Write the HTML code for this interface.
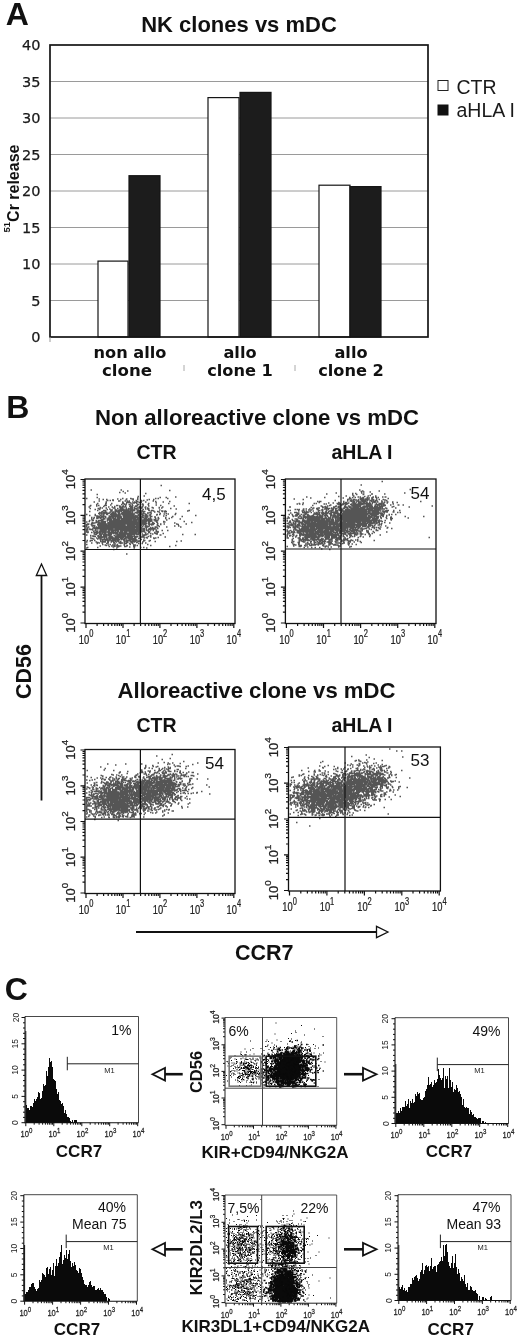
<!DOCTYPE html>
<html><head><meta charset="utf-8"><title>Figure</title>
<style>
html,body{margin:0;padding:0;background:#fff;}
svg{display:block;}
</style></head><body>
<svg width="520" height="1337" viewBox="0 0 520 1337">
<rect width="520" height="1337" fill="#fff"/>
<text x="5.8" y="24.6" font-size="32" text-anchor="start" font-weight="bold" font-family='"Liberation Sans", sans-serif' fill="#111">A</text>
<text x="239" y="31.5" font-size="22" text-anchor="middle" font-weight="bold" font-family='"Liberation Sans", sans-serif' fill="#111">NK clones vs mDC</text>
<rect x="50" y="45" width="378" height="292" fill="#fff" stroke="none"/>
<text x="40.5" y="342.4" font-size="14.5" text-anchor="end" font-family='"DejaVu Sans", "Liberation Sans", sans-serif' fill="#1a1a1a" stroke="#1a1a1a" stroke-width="0.25">0</text>
<line x1="50" y1="300.5" x2="428" y2="300.5" stroke="#9a9a9a" stroke-width="1"/>
<text x="40.5" y="305.9" font-size="14.5" text-anchor="end" font-family='"DejaVu Sans", "Liberation Sans", sans-serif' fill="#1a1a1a" stroke="#1a1a1a" stroke-width="0.25">5</text>
<line x1="50" y1="264.0" x2="428" y2="264.0" stroke="#9a9a9a" stroke-width="1"/>
<text x="40.5" y="269.4" font-size="14.5" text-anchor="end" font-family='"DejaVu Sans", "Liberation Sans", sans-serif' fill="#1a1a1a" stroke="#1a1a1a" stroke-width="0.25">10</text>
<line x1="50" y1="227.5" x2="428" y2="227.5" stroke="#9a9a9a" stroke-width="1"/>
<text x="40.5" y="232.9" font-size="14.5" text-anchor="end" font-family='"DejaVu Sans", "Liberation Sans", sans-serif' fill="#1a1a1a" stroke="#1a1a1a" stroke-width="0.25">15</text>
<line x1="50" y1="191.0" x2="428" y2="191.0" stroke="#9a9a9a" stroke-width="1"/>
<text x="40.5" y="196.4" font-size="14.5" text-anchor="end" font-family='"DejaVu Sans", "Liberation Sans", sans-serif' fill="#1a1a1a" stroke="#1a1a1a" stroke-width="0.25">20</text>
<line x1="50" y1="154.5" x2="428" y2="154.5" stroke="#9a9a9a" stroke-width="1"/>
<text x="40.5" y="159.9" font-size="14.5" text-anchor="end" font-family='"DejaVu Sans", "Liberation Sans", sans-serif' fill="#1a1a1a" stroke="#1a1a1a" stroke-width="0.25">25</text>
<line x1="50" y1="118.0" x2="428" y2="118.0" stroke="#9a9a9a" stroke-width="1"/>
<text x="40.5" y="123.4" font-size="14.5" text-anchor="end" font-family='"DejaVu Sans", "Liberation Sans", sans-serif' fill="#1a1a1a" stroke="#1a1a1a" stroke-width="0.25">30</text>
<line x1="50" y1="81.5" x2="428" y2="81.5" stroke="#9a9a9a" stroke-width="1"/>
<text x="40.5" y="86.9" font-size="14.5" text-anchor="end" font-family='"DejaVu Sans", "Liberation Sans", sans-serif' fill="#1a1a1a" stroke="#1a1a1a" stroke-width="0.25">35</text>
<text x="40.5" y="50.4" font-size="14.5" text-anchor="end" font-family='"DejaVu Sans", "Liberation Sans", sans-serif' fill="#1a1a1a" stroke="#1a1a1a" stroke-width="0.25">40</text>
<rect x="98" y="261.1" width="30" height="75.9" fill="#fff" stroke="#151515" stroke-width="1.2"/>
<rect x="129" y="175.7" width="31" height="161.3" fill="#1c1c1c" stroke="#151515" stroke-width="1.2"/>
<rect x="208" y="97.6" width="31" height="239.4" fill="#fff" stroke="#151515" stroke-width="1.2"/>
<rect x="240" y="92.4" width="31" height="244.6" fill="#1c1c1c" stroke="#151515" stroke-width="1.2"/>
<rect x="319" y="185.2" width="31" height="151.8" fill="#fff" stroke="#151515" stroke-width="1.2"/>
<rect x="350" y="186.6" width="31" height="150.4" fill="#1c1c1c" stroke="#151515" stroke-width="1.2"/>
<rect x="50" y="45" width="378" height="292" fill="none" stroke="#151515" stroke-width="1.7"/>
<text transform="translate(18.8 232.5) rotate(-90)" font-size="16" font-weight="bold" font-family='"Liberation Sans", sans-serif' fill="#111"><tspan font-size="9.5" dy="-8.5">51</tspan><tspan dy="8.5">Cr release</tspan></text>
<text x="130" y="357.5" font-size="16.2" text-anchor="middle" font-weight="bold" font-family='"DejaVu Sans", "Liberation Sans", sans-serif' fill="#111">non allo</text>
<text x="127" y="375.5" font-size="16.6" text-anchor="middle" font-weight="bold" font-family='"DejaVu Sans", "Liberation Sans", sans-serif' fill="#111">clone</text>
<text x="240" y="357.5" font-size="16.2" text-anchor="middle" font-weight="bold" font-family='"DejaVu Sans", "Liberation Sans", sans-serif' fill="#111">allo</text>
<text x="240" y="375.5" font-size="16.2" text-anchor="middle" font-weight="bold" font-family='"DejaVu Sans", "Liberation Sans", sans-serif' fill="#111">clone 1</text>
<text x="351" y="357.5" font-size="16.2" text-anchor="middle" font-weight="bold" font-family='"DejaVu Sans", "Liberation Sans", sans-serif' fill="#111">allo</text>
<text x="351" y="375.5" font-size="16.2" text-anchor="middle" font-weight="bold" font-family='"DejaVu Sans", "Liberation Sans", sans-serif' fill="#111">clone 2</text>
<line x1="184" y1="365" x2="184" y2="371" stroke="#aaa" stroke-width="1"/>
<line x1="295" y1="365" x2="295" y2="371" stroke="#aaa" stroke-width="1"/>
<line x1="50" y1="337" x2="50" y2="342" stroke="#999" stroke-width="1"/>
<rect x="438" y="80.5" width="10" height="10" fill="#fff" stroke="#222" stroke-width="1"/>
<rect x="437.5" y="104.5" width="11" height="11" fill="#111"/>
<text x="456.5" y="94" font-size="19.5" text-anchor="start" font-family='"Liberation Sans", sans-serif' fill="#1a1a1a">CTR</text>
<text x="456.5" y="117" font-size="19.5" text-anchor="start" font-family='"Liberation Sans", sans-serif' fill="#1a1a1a">aHLA I</text>
<text x="6.2" y="418" font-size="32" text-anchor="start" font-weight="bold" font-family='"Liberation Sans", sans-serif' fill="#111">B</text>
<text x="95" y="425" font-size="21.5" font-weight="bold" font-family='"Liberation Sans", sans-serif' fill="#111" textLength="324" lengthAdjust="spacingAndGlyphs">Non alloreactive clone vs mDC</text>
<text x="117.5" y="697.5" font-size="21.5" font-weight="bold" font-family='"Liberation Sans", sans-serif' fill="#111" textLength="278" lengthAdjust="spacingAndGlyphs">Alloreactive clone vs mDC</text>
<text x="156.5" y="459" font-size="19.5" text-anchor="middle" font-weight="bold" font-family='"Liberation Sans", sans-serif' fill="#111">CTR</text>
<text x="156.5" y="731.5" font-size="19.5" text-anchor="middle" font-weight="bold" font-family='"Liberation Sans", sans-serif' fill="#111">CTR</text>
<text x="362" y="459" font-size="19.5" text-anchor="middle" font-weight="bold" font-family='"Liberation Sans", sans-serif' fill="#111">aHLA I</text>
<text x="362" y="731.5" font-size="19.5" text-anchor="middle" font-weight="bold" font-family='"Liberation Sans", sans-serif' fill="#111">aHLA I</text>
<path transform="scale(.5)" d="M0 0m172 997h3m-3 32h3m-3 15h3m-3 5h3m-3 1h3m-3 3h3m-3 1h3m-3 4h3m-3 1h3m-3 3h3m-3 2h3m-3 6h3m-3 14h3m-3 5h3m-3 7h3m-2-15h3m-2-33h3m-3 8h3m-3 2h3m-3 2h3m-3 5h3m-3 30h3m-2-46h3m-3 15h3m-2-16h3m-3 6h3m-2-40h3m-3 29h3m-2-20h3m-3 8h3m-3 10h3m-3 17h3m-2-46h3m-3 5h3m-3 42h3m-3 23h3m-2-71h3m-3 60h3m-3 1h3m-3 4h3m-3 5h3m-2-101h3m-3 69h3m-3 10h3m-3 22h3m-2-46h3m-3 3h3m-3 9h3m-3 3h3m-3 15h3m-3 21h3m-2-45h3m-3 4h3m-3 1h3m-3 6h3m-3 25h3m-3 4h3m-2-41h3m-3 7h3m-3 11h3m-3 2h3m-3 12h3m-2-31h3m-3 10h3m-3 4h3m-3 1h3m-2-19h3m-3 9h3m-3 9h3m-3 8h3m-3 9h3m-3 1h3m-3 5h3m-2-74h3m-3 31h3m-3 19h3m-3 11h3m-3 3h3m-2-22h3m-3 5h3m-3 6h3m-3 24h3m-2-62h3m-3 10h3m-3 2h3m-3 30h3m-3 8h3m-3 4h3m-2-17h3m-3 2h3m-3 7h3m-2-24h3m-3 2h3m-3 2h3m-3 9h3m-3 10h3m-3 4h3m-3 1h3m-3 15h3m-2-75h3m-3 3h3m-3 20h3m-3 4h3m-3 6h3m-3 13h3m-3 1h3m-3 6h3m-3 3h3m-3 1h3m-3 10h3m-2-87h3m-3 6h3m-3 39h3m-3 3h3m-3 18h3m-3 3h3m-3 6h3m-3 3h3m-3 20h3m-2-80h3m-3 14h3m-3 11h3m-3 1h3m-3 11h3m-3 5h3m-3 6h3m-3 3h3m-3 4h3m-3 3h3m-3 7h3m-3 6h3m-3 7h3m-3 10h3m-2-78h3m-3 28h3m-3 2h3m-3 4h3m-3 21h3m-2-61h3m-3 16h3m-3 6h3m-3 3h3m-3 5h3m-3 1h3m-3 3h3m-3 6h3m-3 3h3m-3 1h3m-3 16h3m-3 3h3m-3 2h3m-2-78h3m-3 4h3m-3 16h3m-3 27h3m-3 3h3m-3 2h3m-3 7h3m-3 9h3m-3 7h3m-3 13h3m-2-67h3m-3 6h3m-3 3h3m-3 6h3m-3 7h3m-3 5h3m-3 1h3m-3 4h3m-3 5h3m-3 7h3m-3 4h3m-3 2h3m-3 6h3m-2-60h3m-3 1h3m-3 15h3m-3 4h3m-3 18h3m-3 4h3m-3 3h3m-3 2h3m-3 3h3m-3 3h3m-3 5h3m-3 2h3m-3 1h3m-3 1h3m-3 2h3m-3 13h3m-2-61h3m-3 6h3m-3 4h3m-3 7h3m-3 1h3m-3 1h3m-3 6h3m-3 2h3m-3 6h3m-3 6h3m-3 4h3m-3 6h3m-3 3h3m-2-57h3m-3 9h3m-3 6h3m-3 3h3m-3 2h3m-3 3h3m-3 1h3m-3 4h3m-3 3h3m-3 1h3m-3 5h3m-3 5h3m-3 2h3m-3 2h3m-3 1h3m-3 3h3m-2-52h3m-3 4h3m-3 4h3m-3 2h3m-3 5h3m-3 4h3m-3 1h3m-3 3h3m-3 3h3m-3 1h3m-3 4h3m-3 6h3m-3 12h3m-2-57h3m-3 12h3m-3 4h3m-3 8h3m-3 5h3m-3 1h3m-3 3h3m-3 2h3m-3 2h3m-3 7h3m-3 4h3m-3 1h3m-3 3h3m-3 7h3m-3 4h3m-3 5h3m-3 2h3m-2-63h3m-3 17h3m-3 6h3m-3 5h3m-3 2h3m-3 4h3m-3 5h3m-3 1h3m-3 2h3m-3 16h3m-3 8h3m-2-90h3m-3 27h3m-3 8h3m-3 2h3m-3 3h3m-3 4h3m-3 1h3m-3 6h3m-3 2h3m-3 3h3m-3 2h3m-3 3h3m-3 2h3m-3 1h3m-3 11h3m-3 5h3m-3 4h3m-2-70h3m-3 8h3m-3 8h3m-3 3h3m-3 11h3m-3 1h3m-3 3h3m-3 5h3m-3 2h3m-3 3h3m-3 7h3m-3 5h3m-3 1h3m-3 1h3m-3 8h3m-3 5h3m-2-59h3m-3 12h3m-3 8h3m-3 3h3m-3 7h3m-3 3h3m-3 4h3m-3 1h3m-3 1h3m-3 2h3m-3 3h3m-3 1h3m-3 1h3m-3 3h3m-3 3h3m-3 6h3m-3 1h3m-2-73h3m-3 14h3m-3 2h3m-3 11h3m-3 7h3m-3 6h3m-3 1h3m-3 4h3m-3 3h3m-3 5h3m-3 3h3m-3 1h3m-2-47h3m-3 2h3m-3 10h3m-3 1h3m-3 9h3m-3 2h3m-3 4h3m-3 4h3m-3 8h3m-3 9h3m-3 1h3m-3 9h3m-3 2h3m-3 2h3m-3 6h3m-2-83h3m-3 2h3m-3 13h3m-3 12h3m-3 1h3m-3 13h3m-3 2h3m-3 1h3m-3 7h3m-3 4h3m-3 2h3m-3 3h3m-3 7h3m-3 5h3m-3 2h3m-2-77h3m-3 1h3m-3 1h3m-3 5h3m-3 5h3m-3 10h3m-3 22h3m-3 2h3m-3 1h3m-3 3h3m-3 3h3m-3 1h3m-3 2h3m-3 9h3m-3 3h3m-3 4h3m-3 15h3m-2-92h3m-3 26h3m-3 1h3m-3 3h3m-3 19h3m-3 2h3m-3 1h3m-3 3h3m-3 4h3m-3 6h3m-3 5h3m-3 1h3m-3 1h3m-3 1h3m-3 2h3m-3 3h3m-3 10h3m-2-86h3m-3 18h3m-3 8h3m-3 2h3m-3 9h3m-3 4h3m-3 22h3m-3 16h3m-2-79h3m-3 26h3m-3 11h3m-3 1h3m-3 7h3m-3 5h3m-3 5h3m-3 14h3m-3 8h3m-3 4h3m-3 2h3m-2-48h3m-3 4h3m-3 10h3m-3 4h3m-3 3h3m-3 1h3m-3 2h3m-3 2h3m-3 1h3m-3 3h3m-3 4h3m-3 14h3m-3 1h3m-3 1h3m-3 4h3m-2-76h3m-3 13h3m-3 18h3m-3 2h3m-3 5h3m-3 1h3m-3 3h3m-3 4h3m-3 1h3m-3 1h3m-3 1h3m-3 1h3m-3 4h3m-3 3h3m-3 5h3m-3 4h3m-3 2h3m-2-56h3m-3 6h3m-3 2h3m-3 3h3m-3 2h3m-3 11h3m-3 4h3m-3 6h3m-3 3h3m-3 1h3m-3 1h3m-3 1h3m-3 3h3m-3 1h3m-3 3h3m-3 3h3m-3 17h3m-2-75h3m-3 16h3m-3 5h3m-3 2h3m-3 1h3m-3 2h3m-3 6h3m-3 1h3m-3 4h3m-3 1h3m-3 1h3m-3 1h3m-3 1h3m-3 7h3m-3 1h3m-3 5h3m-3 5h3m-2-76h3m-3 23h3m-3 10h3m-3 2h3m-3 1h3m-3 6h3m-3 3h3m-3 1h3m-3 1h3m-3 2h3m-3 2h3m-3 1h3m-3 3h3m-3 3h3m-3 7h3m-3 1h3m-3 1h3m-3 1h3m-3 4h3m-3 2h3m-3 3h3m-3 2h3m-3 9h3m-2-79h3m-3 10h3m-3 9h3m-3 4h3m-3 1h3m-3 6h3m-3 3h3m-3 1h3m-3 2h3m-3 1h3m-3 1h3m-3 3h3m-3 3h3m-3 1h3m-3 2h3m-3 3h3m-3 5h3m-3 1h3m-3 1h3m-3 5h3m-3 2h3m-2-53h3m-3 1h3m-3 5h3m-3 4h3m-3 10h3m-3 1h3m-3 6h3m-3 1h3m-3 2h3m-3 3h3m-3 8h3m-3 3h3m-3 4h3m-3 7h3m-3 6h3m-3 2h3m-2-77h3m-3 25h3m-3 6h3m-3 6h3m-3 4h3m-3 3h3m-3 3h3m-3 1h3m-3 1h3m-3 2h3m-3 1h3m-3 5h3m-3 3h3m-3 6h3m-3 1h3m-3 3h3m-3 4h3m-3 11h3m-2-78h3m-3 6h3m-3 5h3m-3 3h3m-3 1h3m-3 4h3m-3 3h3m-3 6h3m-3 5h3m-3 2h3m-3 1h3m-3 7h3m-3 4h3m-3 5h3m-3 8h3m-3 1h3m-3 1h3m-3 2h3m-3 1h3m-3 1h3m-3 1h3m-3 1h3m-2-82h3m-3 24h3m-3 12h3m-3 7h3m-3 1h3m-3 1h3m-3 4h3m-3 1h3m-3 1h3m-3 1h3m-3 3h3m-3 2h3m-3 1h3m-3 3h3m-3 1h3m-3 1h3m-3 12h3m-3 3h3m-3 12h3m-2-90h3m-3 1h3m-3 15h3m-3 8h3m-3 1h3m-3 2h3m-3 5h3m-3 2h3m-3 2h3m-3 5h3m-3 1h3m-3 3h3m-3 3h3m-3 1h3m-3 3h3m-3 3h3m-3 1h3m-3 4h3m-3 3h3m-3 1h3m-3 2h3m-3 10h3m-3 2h3m-3 5h3m-3 11h3m-2-70h3m-3 3h3m-3 1h3m-3 1h3m-3 3h3m-3 6h3m-3 7h3m-3 5h3m-3 1h3m-3 3h3m-3 11h3m-3 1h3m-3 1h3m-3 9h3m-3 2h3m-3 1h3m-3 2h3m-3 1h3m-3 1h3m-3 3h3m-3 13h3m-2-66h3m-3 8h3m-3 4h3m-3 2h3m-3 1h3m-3 2h3m-3 2h3m-3 2h3m-3 2h3m-3 4h3m-3 6h3m-3 5h3m-3 5h3m-3 5h3m-3 4h3m-3 5h3m-3 3h3m-2-80h3m-3 3h3m-3 12h3m-3 9h3m-3 2h3m-3 1h3m-3 2h3m-3 1h3m-3 2h3m-3 2h3m-3 1h3m-3 5h3m-3 7h3m-3 1h3m-3 17h3m-2-59h3m-3 3h3m-3 4h3m-3 1h3m-3 2h3m-3 1h3m-3 2h3m-3 1h3m-3 2h3m-3 1h3m-3 2h3m-3 2h3m-3 4h3m-3 2h3m-3 4h3m-3 1h3m-3 1h3m-3 1h3m-3 1h3m-3 3h3m-3 5h3m-3 1h3m-3 9h3m-3 6h3m-3 1h3m-3 2h3m-3 7h3m-2-65h3m-3 5h3m-3 3h3m-3 8h3m-3 2h3m-3 1h3m-3 4h3m-3 8h3m-3 1h3m-3 4h3m-3 3h3m-3 2h3m-3 1h3m-3 3h3m-3 4h3m-3 2h3m-3 3h3m-3 4h3m-3 2h3m-3 9h3m-2-70h3m-3 11h3m-3 7h3m-3 1h3m-3 1h3m-3 3h3m-3 3h3m-3 2h3m-3 1h3m-3 3h3m-3 5h3m-3 2h3m-3 14h3m-3 4h3m-3 1h3m-3 4h3m-2-73h3m-3 9h3m-3 2h3m-3 6h3m-3 1h3m-3 3h3m-3 9h3m-3 1h3m-3 2h3m-3 3h3m-3 1h3m-3 1h3m-3 4h3m-3 1h3m-3 2h3m-3 1h3m-3 1h3m-3 1h3m-3 6h3m-3 3h3m-3 4h3m-3 6h3m-3 1h3m-3 13h3m-3 4h3m-2-72h3m-3 10h3m-3 3h3m-3 4h3m-3 4h3m-3 8h3m-3 1h3m-3 4h3m-3 2h3m-3 5h3m-3 4h3m-3 4h3m-3 1h3m-3 1h3m-3 14h3m-2-91h3m-3 13h3m-3 6h3m-3 5h3m-3 10h3m-3 2h3m-3 5h3m-3 1h3m-3 4h3m-3 5h3m-3 1h3m-3 1h3m-3 1h3m-3 2h3m-3 3h3m-3 3h3m-3 1h3m-3 2h3m-3 5h3m-3 1h3m-3 1h3m-3 7h3m-3 5h3m-3 9h3m-3 3h3m-2-64h3m-3 4h3m-3 4h3m-3 6h3m-3 3h3m-3 4h3m-3 4h3m-3 1h3m-3 4h3m-3 2h3m-3 6h3m-3 1h3m-3 1h3m-3 3h3m-3 2h3m-3 1h3m-3 4h3m-3 3h3m-3 10h3m-2-91h3m-3 19h3m-3 1h3m-3 1h3m-3 2h3m-3 1h3m-3 3h3m-3 1h3m-3 1h3m-3 1h3m-3 3h3m-3 3h3m-3 2h3m-3 2h3m-3 1h3m-3 3h3m-3 2h3m-3 2h3m-3 1h3m-3 3h3m-3 4h3m-3 1h3m-3 1h3m-3 4h3m-3 4h3m-3 1h3m-3 3h3m-3 7h3m-3 1h3m-3 2h3m-3 10h3m-3 1h3m-2-73h3m-3 4h3m-3 1h3m-3 3h3m-3 4h3m-3 1h3m-3 4h3m-3 5h3m-3 4h3m-3 3h3m-3 2h3m-3 1h3m-3 1h3m-3 4h3m-3 2h3m-3 13h3m-3 3h3m-3 11h3m-3 6h3m-2-107h3m-3 17h3m-3 10h3m-3 2h3m-3 6h3m-3 2h3m-3 7h3m-3 1h3m-3 2h3m-3 2h3m-3 1h3m-3 3h3m-3 1h3m-3 1h3m-3 4h3m-3 1h3m-3 1h3m-3 3h3m-3 7h3m-3 10h3m-3 1h3m-3 1h3m-3 1h3m-3 1h3m-3 9h3m-3 6h3m-2-72h3m-3 2h3m-3 2h3m-3 18h3m-3 7h3m-3 1h3m-3 4h3m-3 5h3m-3 2h3m-3 1h3m-3 1h3m-3 2h3m-3 1h3m-3 6h3m-3 2h3m-3 4h3m-3 1h3m-3 2h3m-3 18h3m-2-93h3m-3 20h3m-3 13h3m-3 9h3m-3 3h3m-3 5h3m-3 1h3m-3 3h3m-3 1h3m-3 3h3m-3 1h3m-3 1h3m-3 3h3m-3 1h3m-3 5h3m-3 6h3m-3 3h3m-3 6h3m-3 2h3m-3 2h3m-3 5h3m-2-112h3m-3 38h3m-3 4h3m-3 1h3m-3 4h3m-3 1h3m-3 6h3m-3 2h3m-3 8h3m-3 2h3m-3 2h3m-3 1h3m-3 6h3m-3 1h3m-3 2h3m-3 1h3m-3 2h3m-3 4h3m-3 1h3m-3 3h3m-3 2h3m-3 2h3m-3 1h3m-3 2h3m-2-67h3m-3 6h3m-3 4h3m-3 8h3m-3 1h3m-3 10h3m-3 2h3m-3 1h3m-3 2h3m-3 2h3m-3 5h3m-3 3h3m-3 3h3m-3 1h3m-3 2h3m-3 1h3m-3 2h3m-3 2h3m-3 1h3m-3 1h3m-3 1h3m-3 1h3m-3 1h3m-3 2h3m-3 4h3m-3 1h3m-3 3h3m-3 7h3m-2-73h3m-3 3h3m-3 1h3m-3 2h3m-3 2h3m-3 4h3m-3 12h3m-3 1h3m-3 3h3m-3 4h3m-3 5h3m-3 1h3m-3 1h3m-3 2h3m-3 4h3m-3 1h3m-3 1h3m-3 1h3m-3 2h3m-3 6h3m-3 2h3m-3 3h3m-3 12h3m-2-89h3m-3 7h3m-3 3h3m-3 21h3m-3 1h3m-3 8h3m-3 1h3m-3 4h3m-3 2h3m-3 1h3m-3 2h3m-3 1h3m-3 1h3m-3 1h3m-3 1h3m-3 7h3m-3 1h3m-3 9h3m-3 1h3m-3 2h3m-3 6h3m-3 1h3m-2-95h3m-3 23h3m-3 6h3m-3 6h3m-3 8h3m-3 3h3m-3 3h3m-3 8h3m-3 1h3m-3 2h3m-3 1h3m-3 1h3m-3 1h3m-3 2h3m-3 1h3m-3 3h3m-3 4h3m-3 1h3m-3 1h3m-3 1h3m-3 2h3m-3 5h3m-3 1h3m-3 5h3m-3 1h3m-2-59h3m-3 4h3m-3 1h3m-3 2h3m-3 3h3m-3 4h3m-3 2h3m-3 2h3m-3 2h3m-3 2h3m-3 1h3m-3 3h3m-3 2h3m-3 1h3m-3 2h3m-3 1h3m-3 4h3m-3 2h3m-3 1h3m-3 2h3m-3 12h3m-3 3h3m-3 3h3m-3 1h3m-3 1h3m-3 4h3m-3 1h3m-2-72h3m-3 1h3m-3 5h3m-3 6h3m-3 2h3m-3 2h3m-3 2h3m-3 1h3m-3 3h3m-3 4h3m-3 2h3m-3 1h3m-3 10h3m-3 2h3m-3 1h3m-3 4h3m-3 3h3m-3 1h3m-3 2h3m-3 2h3m-3 1h3m-3 2h3m-3 15h3m-3 1h3m-3 3h3m-3 2h3m-3 1h3m-3 3h3m-2-66h3m-3 1h3m-3 1h3m-3 5h3m-3 1h3m-3 1h3m-3 5h3m-3 1h3m-3 1h3m-3 1h3m-3 3h3m-3 2h3m-3 3h3m-3 1h3m-3 2h3m-3 5h3m-3 1h3m-3 5h3m-3 4h3m-3 3h3m-3 3h3m-3 4h3m-3 10h3m-3 6h3m-2-107h3m-3 16h3m-3 19h3m-3 2h3m-3 6h3m-3 11h3m-3 1h3m-3 1h3m-3 1h3m-3 1h3m-3 1h3m-3 1h3m-3 1h3m-3 5h3m-3 1h3m-3 1h3m-3 1h3m-3 2h3m-3 2h3m-3 3h3m-3 2h3m-3 1h3m-3 3h3m-3 1h3m-3 1h3m-3 1h3m-3 2h3m-3 9h3m-2-72h3m-3 3h3m-3 7h3m-3 1h3m-3 8h3m-3 3h3m-3 4h3m-3 1h3m-3 4h3m-3 1h3m-3 3h3m-3 1h3m-3 1h3m-3 1h3m-3 4h3m-3 7h3m-3 2h3m-3 5h3m-3 8h3m-3 1h3m-3 3h3m-3 15h3m-2-94h3m-3 9h3m-3 8h3m-3 2h3m-3 8h3m-3 5h3m-3 3h3m-3 1h3m-3 7h3m-3 1h3m-3 2h3m-3 2h3m-3 6h3m-3 1h3m-3 1h3m-3 1h3m-3 3h3m-3 2h3m-3 1h3m-3 1h3m-3 1h3m-3 2h3m-3 1h3m-3 15h3m-3 3h3m-3 2h3m-2-89h3m-3 7h3m-3 13h3m-3 3h3m-3 2h3m-3 2h3m-3 3h3m-3 3h3m-3 3h3m-3 1h3m-3 1h3m-3 1h3m-3 1h3m-3 5h3m-3 2h3m-3 3h3m-3 7h3m-3 3h3m-3 2h3m-3 5h3m-3 2h3m-3 1h3m-3 6h3m-3 2h3m-3 4h3m-3 12h3m-3 16h3m-2-106h3m-3 18h3m-3 2h3m-3 3h3m-3 2h3m-3 5h3m-3 7h3m-3 3h3m-3 4h3m-3 8h3m-3 2h3m-3 2h3m-3 1h3m-3 10h3m-3 3h3m-3 1h3m-3 1h3m-3 1h3m-3 16h3m-2-109h3m-3 22h3m-3 17h3m-3 3h3m-3 3h3m-3 6h3m-3 6h3m-3 1h3m-3 5h3m-3 1h3m-3 2h3m-3 1h3m-3 2h3m-3 3h3m-3 1h3m-3 7h3m-3 6h3m-3 1h3m-3 5h3m-3 7h3m-3 1h3m-3 3h3m-2-80h3m-3 15h3m-3 3h3m-3 5h3m-3 1h3m-3 3h3m-3 3h3m-3 1h3m-3 1h3m-3 2h3m-3 1h3m-3 1h3m-3 2h3m-3 4h3m-3 10h3m-3 2h3m-3 8h3m-3 1h3m-3 1h3m-3 1h3m-3 6h3m-2-59h3m-3 3h3m-3 1h3m-3 4h3m-3 3h3m-3 8h3m-3 2h3m-3 2h3m-3 1h3m-3 1h3m-3 2h3m-3 1h3m-3 1h3m-3 3h3m-3 2h3m-3 1h3m-3 2h3m-3 4h3m-3 1h3m-3 1h3m-3 1h3m-3 7h3m-3 3h3m-3 1h3m-3 2h3m-3 1h3m-3 2h3m-3 4h3m-2-79h3m-3 7h3m-3 18h3m-3 3h3m-3 2h3m-3 1h3m-3 1h3m-3 3h3m-3 5h3m-3 6h3m-3 3h3m-3 2h3m-3 1h3m-3 2h3m-3 1h3m-3 1h3m-3 6h3m-3 1h3m-3 6h3m-3 4h3m-3 3h3m-3 1h3m-3 1h3m-2-75h3m-3 8h3m-3 5h3m-3 4h3m-3 5h3m-3 3h3m-3 1h3m-3 1h3m-3 2h3m-3 4h3m-3 1h3m-3 2h3m-3 3h3m-3 3h3m-3 2h3m-3 1h3m-3 1h3m-3 2h3m-3 1h3m-3 2h3m-3 1h3m-3 2h3m-3 1h3m-3 2h3m-3 1h3m-3 14h3m-3 4h3m-3 6h3m-3 7h3m-2-84h3m-3 1h3m-3 12h3m-3 1h3m-3 6h3m-3 4h3m-3 1h3m-3 2h3m-3 1h3m-3 1h3m-3 1h3m-3 4h3m-3 2h3m-3 1h3m-3 3h3m-3 2h3m-3 5h3m-3 2h3m-3 2h3m-3 1h3m-3 4h3m-3 3h3m-3 1h3m-3 2h3m-3 11h3m-3 6h3m-2-92h3m-3 9h3m-3 10h3m-3 2h3m-3 2h3m-3 2h3m-3 5h3m-3 7h3m-3 8h3m-3 1h3m-3 5h3m-3 4h3m-3 1h3m-3 2h3m-3 3h3m-3 1h3m-3 5h3m-3 2h3m-3 4h3m-3 3h3m-3 2h3m-3 5h3m-3 2h3m-2-69h3m-3 1h3m-3 3h3m-3 1h3m-3 3h3m-3 1h3m-3 4h3m-3 1h3m-3 5h3m-3 5h3m-3 3h3m-3 3h3m-3 2h3m-3 7h3m-3 1h3m-3 4h3m-3 3h3m-3 1h3m-3 4h3m-3 2h3m-3 2h3m-3 6h3m-3 1h3m-3 3h3m-3 5h3m-3 1h3m-2-66h3m-3 2h3m-3 1h3m-3 5h3m-3 2h3m-3 4h3m-3 1h3m-3 2h3m-3 10h3m-3 5h3m-3 1h3m-3 1h3m-3 2h3m-3 5h3m-3 3h3m-3 1h3m-3 4h3m-3 3h3m-3 12h3m-3 1h3m-2-86h3m-3 10h3m-3 1h3m-3 1h3m-3 4h3m-3 3h3m-3 2h3m-3 6h3m-3 1h3m-3 2h3m-3 1h3m-3 4h3m-3 3h3m-3 6h3m-3 1h3m-3 3h3m-3 1h3m-3 2h3m-3 1h3m-3 4h3m-3 1h3m-3 1h3m-3 3h3m-3 1h3m-3 2h3m-3 2h3m-3 2h3m-3 8h3m-3 1h3m-3 2h3m-3 1h3m-3 8h3m-2-82h3m-3 7h3m-3 11h3m-3 4h3m-3 2h3m-3 1h3m-3 1h3m-3 2h3m-3 5h3m-3 1h3m-3 6h3m-3 1h3m-3 1h3m-3 2h3m-3 1h3m-3 1h3m-3 1h3m-3 2h3m-3 4h3m-3 2h3m-3 3h3m-3 1h3m-3 4h3m-3 1h3m-3 1h3m-3 4h3m-3 7h3m-3 2h3m-3 1h3m-3 4h3m-2-89h3m-3 2h3m-3 32h3m-3 1h3m-3 3h3m-3 4h3m-3 1h3m-3 1h3m-3 2h3m-3 3h3m-3 2h3m-3 7h3m-3 1h3m-3 3h3m-3 7h3m-3 1h3m-3 9h3m-2-71h3m-3 14h3m-3 1h3m-3 7h3m-3 1h3m-3 1h3m-3 5h3m-3 1h3m-3 2h3m-3 5h3m-3 4h3m-3 5h3m-3 2h3m-3 1h3m-3 4h3m-3 3h3m-3 2h3m-3 3h3m-3 1h3m-3 1h3m-3 21h3m-3 3h3m-2-87h3m-3 9h3m-3 3h3m-3 2h3m-3 1h3m-3 7h3m-3 4h3m-3 1h3m-3 1h3m-3 3h3m-3 1h3m-3 1h3m-3 1h3m-3 2h3m-3 5h3m-3 3h3m-3 1h3m-3 1h3m-3 1h3m-3 1h3m-3 3h3m-3 1h3m-3 1h3m-3 1h3m-3 2h3m-3 1h3m-3 7h3m-3 2h3m-3 7h3m-3 2h3m-3 1h3m-3 2h3m-3 12h3m-2-92h3m-3 14h3m-3 2h3m-3 14h3m-3 5h3m-3 2h3m-3 3h3m-3 2h3m-3 5h3m-3 1h3m-3 1h3m-3 1h3m-3 4h3m-3 4h3m-3 2h3m-3 3h3m-3 6h3m-3 3h3m-3 5h3m-3 12h3m-2-88h3m-3 8h3m-3 12h3m-3 10h3m-3 3h3m-3 6h3m-3 4h3m-3 1h3m-3 4h3m-3 2h3m-3 4h3m-3 2h3m-3 1h3m-3 1h3m-3 4h3m-3 6h3m-3 5h3m-3 5h3m-3 7h3m-2-78h3m-3 5h3m-3 14h3m-3 2h3m-3 9h3m-3 2h3m-3 1h3m-3 1h3m-3 1h3m-3 2h3m-3 6h3m-3 4h3m-3 3h3m-3 3h3m-3 2h3m-3 1h3m-3 7h3m-3 2h3m-2-76h3m-3 25h3m-3 6h3m-3 1h3m-3 2h3m-3 4h3m-3 6h3m-3 10h3m-3 4h3m-3 1h3m-3 2h3m-3 3h3m-3 2h3m-3 13h3m-3 1h3m-2-77h3m-3 3h3m-3 6h3m-3 4h3m-3 1h3m-3 7h3m-3 7h3m-3 1h3m-3 6h3m-3 4h3m-3 1h3m-3 1h3m-3 1h3m-3 1h3m-3 2h3m-3 1h3m-3 2h3m-3 6h3m-3 6h3m-3 5h3m-3 4h3m-3 1h3m-3 6h3m-3 5h3m-2-74h3m-3 10h3m-3 1h3m-3 1h3m-3 2h3m-3 1h3m-3 7h3m-3 4h3m-3 1h3m-3 2h3m-3 4h3m-3 1h3m-3 1h3m-3 2h3m-3 2h3m-3 6h3m-3 2h3m-3 1h3m-3 1h3m-3 2h3m-3 11h3m-3 11h3m-3 7h3m-2-95h3m-3 3h3m-3 4h3m-3 6h3m-3 7h3m-3 16h3m-3 4h3m-3 8h3m-3 1h3m-3 2h3m-3 3h3m-3 1h3m-3 1h3m-3 2h3m-3 2h3m-3 3h3m-3 1h3m-3 3h3m-3 5h3m-3 1h3m-3 4h3m-2-80h3m-3 27h3m-3 2h3m-3 3h3m-3 4h3m-3 1h3m-3 5h3m-3 3h3m-3 1h3m-3 1h3m-3 7h3m-3 1h3m-3 2h3m-3 3h3m-3 1h3m-3 2h3m-3 4h3m-3 2h3m-3 1h3m-3 2h3m-3 4h3m-3 13h3m-2-73h3m-3 12h3m-3 9h3m-3 5h3m-3 1h3m-3 4h3m-3 3h3m-3 1h3m-3 2h3m-3 2h3m-3 1h3m-3 2h3m-3 2h3m-3 1h3m-3 1h3m-3 2h3m-3 1h3m-3 4h3m-3 1h3m-3 14h3m-3 6h3m-3 4h3m-2-82h3m-3 8h3m-3 3h3m-3 8h3m-3 2h3m-3 4h3m-3 1h3m-3 4h3m-3 2h3m-3 6h3m-3 4h3m-3 1h3m-3 1h3m-3 1h3m-3 1h3m-3 1h3m-3 1h3m-3 4h3m-3 2h3m-3 1h3m-3 3h3m-3 3h3m-2-39h3m-3 2h3m-3 2h3m-3 2h3m-3 2h3m-3 4h3m-3 3h3m-3 1h3m-3 2h3m-3 1h3m-3 1h3m-3 4h3m-3 14h3m-3 3h3m-3 4h3m-3 4h3m-3 6h3m-2-69h3m-3 8h3m-3 6h3m-3 3h3m-3 14h3m-3 2h3m-3 2h3m-3 3h3m-3 1h3m-3 4h3m-3 3h3m-3 11h3m-3 6h3m-2-60h3m-3 12h3m-3 3h3m-3 2h3m-3 1h3m-3 3h3m-3 6h3m-3 3h3m-3 1h3m-3 2h3m-3 4h3m-3 2h3m-3 2h3m-3 2h3m-3 2h3m-3 14h3m-3 4h3m-3 16h3m-2-94h3m-3 4h3m-3 17h3m-3 1h3m-3 2h3m-3 2h3m-3 8h3m-3 2h3m-3 6h3m-3 3h3m-3 5h3m-3 11h3m-3 12h3m-3 5h3m-2-77h3m-3 13h3m-3 2h3m-3 8h3m-3 2h3m-3 1h3m-3 1h3m-3 5h3m-3 1h3m-3 1h3m-3 4h3m-3 2h3m-3 5h3m-3 1h3m-3 7h3m-3 2h3m-3 2h3m-3 1h3m-3 4h3m-2-55h3m-3 4h3m-3 1h3m-3 7h3m-3 2h3m-3 5h3m-3 5h3m-3 1h3m-3 6h3m-3 8h3m-3 20h3m-3 4h3m-3 2h3m-3 13h3m-2-79h3m-3 5h3m-3 15h3m-3 3h3m-3 9h3m-3 3h3m-3 1h3m-3 2h3m-3 1h3m-3 1h3m-3 5h3m-3 5h3m-3 4h3m-3 22h3m-2-74h3m-3 9h3m-3 4h3m-3 8h3m-3 4h3m-3 6h3m-3 1h3m-3 3h3m-3 2h3m-3 3h3m-3 13h3m-3 8h3m-2-70h3m-3 23h3m-3 3h3m-3 18h3m-3 1h3m-3 11h3m-3 2h3m-3 1h3m-3 2h3m-3 8h3m-3 4h3m-3 6h3m-3 2h3m-3 13h3m-2-103h3m-3 40h3m-3 4h3m-3 3h3m-3 1h3m-3 6h3m-3 11h3m-3 4h3m-3 10h3m-3 5h3m-2-53h3m-3 15h3m-3 5h3m-3 1h3m-3 5h3m-3 11h3m-3 4h3m-3 17h3m-2-66h3m-3 13h3m-3 12h3m-3 4h3m-3 4h3m-3 5h3m-3 16h3m-2-82h3m-3 17h3m-3 10h3m-3 4h3m-3 13h3m-3 2h3m-3 1h3m-3 3h3m-3 2h3m-3 4h3m-3 1h3m-3 3h3m-3 2h3m-3 2h3m-3 3h3m-3 12h3m-3 4h3m-3 16h3m-2-57h3m-3 7h3m-3 3h3m-3 1h3m-3 1h3m-3 16h3m-3 12h3m-3 6h3m-2-46h3m-3 1h3m-3 4h3m-3 5h3m-3 1h3m-3 1h3m-3 2h3m-3 4h3m-3 5h3m-3 1h3m-3 6h3m-3 2h3m-3 35h3m-2-96h3m-3 32h3m-3 2h3m-3 6h3m-3 14h3m-3 22h3m-2-60h3m-3 1h3m-3 1h3m-3 8h3m-3 7h3m-3 7h3m-3 13h3m-3 15h3m-3 21h3m-2-80h3m-3 28h3m-3 4h3m-3 12h3m-3 9h3m-3 11h3m-2-66h3m-3 5h3m-3 5h3m-3 3h3m-3 6h3m-3 17h3m-3 3h3m-3 2h3m-3 11h3m-3 6h3m-2-66h3m-3 22h3m-3 9h3m-3 10h3m-3 3h3m-3 1h3m-3 2h3m-3 5h3m-3 1h3m-3 5h3m-3 1h3m-3 7h3m-3 17h3m-2-44h3m-3 10h3m-3 15h3m-2-38h3m-3 6h3m-3 3h3m-3 3h3m-3 5h3m-3 15h3m-3 2h3m-3 13h3m-3 9h3m-2-52h3m-3 8h3m-3 3h3m-3 1h3m-3 2h3m-3 12h3m-3 5h3m-3 7h3m-3 4h3m-3 3h3m-3 17h3m-2-69h3m-3 4h3m-3 16h3m-3 7h3m-3 8h3m-2-36h3m-3 12h3m-3 6h3m-3 3h3m-3 6h3m-3 2h3m-2-35h3m-3 43h3m-2-37h3m-3 24h3m-3 10h3m-3 3h3m-3 10h3m-2-66h3m-3 14h3m-3 30h3m-3 2h3m-3 1h3m-3 10h3m-3 2h3m-2-62h3m-3 23h3m-3 35h3m-3 19h3m-2-37h3m-3 1h3m-3 7h3m-3 30h3m-2-53h3m-3 10h3m-3 24h3m-3 7h3m-3 1h3m-2-32h3m-3 8h3m-3 12h3m-3 2h3m-3 27h3m-2-86h3m-3 6h3m-3 34h3m-3 1h3m-3 3h3m-3 26h3m-3 9h3m-2-70h3m-3 4h3m-3 31h3m-3 19h3m-3 3h3m-2-33h3m-3 12h3m-3 1h3m-3 1h3m-3 10h3m-3 14h3m-2-39h3m-3 16h3m-3 5h3m-3 6h3m-3 8h3m-3 3h3m-3 1h3m-2-45h3m-3 18h3m-3 6h3m-3 4h3m-3 6h3m-3 6h3m-3 1h3m-2-67h3m-3 38h3m-3 1h3m-3 2h3m-3 13h3m-3 13h3m-3 11h3m-2-38h3m-2-22h3m-3 1h3m-3 8h3m-3 29h3m-2-33h3m-3 9h3m-2-34h3m-3 32h3m-3 43h3m-2-59h3m-3 37h3m-3 1h3m-3 21h3m-2-99h3m-2 45h3m-3 6h3m-2 39h3m-2-47h3m-3 8h3m-3 1h3m-2-19h3m-3 63h3m-2-35h3m-3 11h3m-3 1h3m-2-16h3m-3 20h3m-2-25h3m-3 1h3m-3 20h3m-2-22h3m-3 52h3m-2-39h3m-3 2h3m-2-42h3m-3 28h3m-3 4h3m-3 4h3m-2 9h3m-3 14h3m-1-57h3m-3 64h3m-2-33h3m-2-21h3m-2 30h3m-2-56h3m-3 22h3m-3 90h3m-1-76h3m-1 18h3m-1-2h3m0-21h3m-2 34h3m-3 6h3m-2-23h3m-2-35h3m-3 33h3m-3 64h3m-2-73h3m-2 30h3m-3 35h3m0-34h3m-2 3h3m0-14h3m-2 16h3m-2 28h3m-1-49h3m-2 36h3m0-26h3m1 5h3m0-26h3m0-15h3m-3 14h3m2 24h3m4 24h3m-2-38h3" stroke="#555" stroke-width="3.0" fill="none"/>
<path d="M140.4 479V623.5M85 549.5H235" stroke="#111" stroke-width="1.2" fill="none"/>
<path d="M86.0 623.5v4.5M85 623.0h-4.5M97.1 623.5v2.5M85 612.2h-2.5M103.6 623.5v2.5M85 605.9h-2.5M108.2 623.5v2.5M85 601.4h-2.5M111.8 623.5v2.5M85 597.9h-2.5M114.8 623.5v2.5M85 595.1h-2.5M117.2 623.5v2.5M85 592.7h-2.5M119.4 623.5v2.5M85 590.6h-2.5M121.3 623.5v2.5M85 588.8h-2.5M123.0 623.5v4.5M85 587.1h-4.5M134.1 623.5v2.5M85 576.3h-2.5M140.6 623.5v2.5M85 570.0h-2.5M145.2 623.5v2.5M85 565.5h-2.5M148.8 623.5v2.5M85 562.0h-2.5M151.7 623.5v2.5M85 559.2h-2.5M154.2 623.5v2.5M85 556.8h-2.5M156.3 623.5v2.5M85 554.7h-2.5M158.2 623.5v2.5M85 552.9h-2.5M159.9 623.5v4.5M85 551.2h-4.5M171.0 623.5v2.5M85 540.5h-2.5M177.5 623.5v2.5M85 534.1h-2.5M182.1 623.5v2.5M85 529.7h-2.5M185.7 623.5v2.5M85 526.2h-2.5M188.7 623.5v2.5M85 523.3h-2.5M191.1 623.5v2.5M85 520.9h-2.5M193.3 623.5v2.5M85 518.9h-2.5M195.2 623.5v2.5M85 517.0h-2.5M196.9 623.5v4.5M85 515.4h-4.5M208.0 623.5v2.5M85 504.6h-2.5M214.5 623.5v2.5M85 498.3h-2.5M219.1 623.5v2.5M85 493.8h-2.5M222.7 623.5v2.5M85 490.3h-2.5M225.6 623.5v2.5M85 487.5h-2.5M228.1 623.5v2.5M85 485.1h-2.5M230.2 623.5v2.5M85 483.0h-2.5M232.1 623.5v2.5M85 481.1h-2.5M233.8 623.5v4.5M85 479.5h-4.5" stroke="#111" stroke-width="1.2" fill="none"/>
<rect x="85" y="479" width="150.0" height="144.5" fill="none" stroke="#111" stroke-width="1.3"/>
<text transform="translate(84.0 643.8) scale(0.72 1)" x="-7.23" y="0" font-size="13" font-family='"Liberation Sans", sans-serif' fill="#222" stroke="#222" stroke-width="0.25">10<tspan dy="-6.5" font-size="10.4">0</tspan></text>
<text transform="translate(74.7 625.5) rotate(-90)" x="-7.23" y="0" font-size="13" font-family='"Liberation Sans", sans-serif' fill="#222" stroke="#222" stroke-width="0.25">10<tspan dy="-7.2" font-size="9.8">0</tspan></text>
<text transform="translate(121.0 643.8) scale(0.72 1)" x="-7.23" y="0" font-size="13" font-family='"Liberation Sans", sans-serif' fill="#222" stroke="#222" stroke-width="0.25">10<tspan dy="-6.5" font-size="10.4">1</tspan></text>
<text transform="translate(74.7 589.6) rotate(-90)" x="-7.23" y="0" font-size="13" font-family='"Liberation Sans", sans-serif' fill="#222" stroke="#222" stroke-width="0.25">10<tspan dy="-7.2" font-size="9.8">1</tspan></text>
<text transform="translate(157.9 643.8) scale(0.72 1)" x="-7.23" y="0" font-size="13" font-family='"Liberation Sans", sans-serif' fill="#222" stroke="#222" stroke-width="0.25">10<tspan dy="-6.5" font-size="10.4">2</tspan></text>
<text transform="translate(74.7 553.8) rotate(-90)" x="-7.23" y="0" font-size="13" font-family='"Liberation Sans", sans-serif' fill="#222" stroke="#222" stroke-width="0.25">10<tspan dy="-7.2" font-size="9.8">2</tspan></text>
<text transform="translate(194.9 643.8) scale(0.72 1)" x="-7.23" y="0" font-size="13" font-family='"Liberation Sans", sans-serif' fill="#222" stroke="#222" stroke-width="0.25">10<tspan dy="-6.5" font-size="10.4">3</tspan></text>
<text transform="translate(74.7 517.9) rotate(-90)" x="-7.23" y="0" font-size="13" font-family='"Liberation Sans", sans-serif' fill="#222" stroke="#222" stroke-width="0.25">10<tspan dy="-7.2" font-size="9.8">3</tspan></text>
<text transform="translate(231.8 643.8) scale(0.72 1)" x="-7.23" y="0" font-size="13" font-family='"Liberation Sans", sans-serif' fill="#222" stroke="#222" stroke-width="0.25">10<tspan dy="-6.5" font-size="10.4">4</tspan></text>
<text transform="translate(74.7 482.0) rotate(-90)" x="-7.23" y="0" font-size="13" font-family='"Liberation Sans", sans-serif' fill="#222" stroke="#222" stroke-width="0.25">10<tspan dy="-7.2" font-size="9.8">4</tspan></text>
<text x="202" y="500" font-size="17" text-anchor="start" font-family='"Liberation Sans", sans-serif' fill="#111">4,5</text>
<path transform="scale(.5)" d="M0 0m573 1037h3m-3 4h3m-3 1h3m-3 5h3m-3 5h3m-3 1h3m-3 1h3m-3 6h3m-3 3h3m-3 7h3m-3 3h3m-3 3h3m-3 17h3m-2-26h3m-3 2h3m-2-48h3m-3 13h3m-3 2h3m-3 20h3m-3 10h3m-3 10h3m-2-29h3m-3 6h3m-3 11h3m-2-35h3m-3 7h3m-3 9h3m-3 5h3m-3 4h3m-3 8h3m-3 4h3m-2-52h3m-3 29h3m-3 24h3m-3 4h3m-3 1h3m-2-58h3m-3 7h3m-3 21h3m-3 13h3m-2-29h3m-3 19h3m-3 5h3m-3 11h3m-3 10h3m-2-23h3m-3 3h3m-3 14h3m-2-14h3m-3 12h3m-3 1h3m-3 21h3m-2-56h3m-3 10h3m-3 10h3m-3 30h3m-3 3h3m-2-51h3m-3 10h3m-3 9h3m-3 14h3m-3 5h3m-3 4h3m-3 13h3m-2-53h3m-3 13h3m-3 2h3m-3 4h3m-3 1h3m-3 1h3m-3 1h3m-3 10h3m-3 1h3m-3 3h3m-3 8h3m-3 12h3m-2-44h3m-3 7h3m-3 8h3m-3 5h3m-3 4h3m-3 2h3m-3 12h3m-3 9h3m-2-94h3m-3 44h3m-3 6h3m-3 6h3m-3 4h3m-3 5h3m-3 1h3m-3 25h3m-2-64h3m-3 31h3m-3 9h3m-2-46h3m-3 13h3m-3 6h3m-3 12h3m-3 4h3m-3 1h3m-2-25h3m-3 12h3m-3 3h3m-3 3h3m-3 3h3m-3 7h3m-3 2h3m-3 14h3m-3 16h3m-2-65h3m-3 13h3m-3 34h3m-2-43h3m-3 3h3m-3 8h3m-3 14h3m-3 6h3m-3 11h3m-2-63h3m-3 11h3m-3 7h3m-3 2h3m-3 3h3m-3 8h3m-3 2h3m-3 1h3m-3 1h3m-3 9h3m-3 9h3m-3 1h3m-3 3h3m-2-25h3m-3 9h3m-3 6h3m-3 6h3m-2-33h3m-3 8h3m-3 8h3m-3 17h3m-3 3h3m-3 2h3m-3 10h3m-3 9h3m-2-65h3m-3 2h3m-3 4h3m-3 3h3m-3 5h3m-3 2h3m-3 7h3m-3 5h3m-3 1h3m-3 3h3m-3 10h3m-3 3h3m-3 21h3m-3 3h3m-2-82h3m-3 12h3m-3 23h3m-3 2h3m-3 1h3m-3 1h3m-3 1h3m-3 2h3m-3 7h3m-3 1h3m-3 8h3m-3 14h3m-3 3h3m-3 1h3m-3 3h3m-3 4h3m-3 3h3m-2-85h3m-3 24h3m-3 11h3m-3 9h3m-3 8h3m-3 4h3m-3 3h3m-3 3h3m-3 1h3m-3 4h3m-3 1h3m-3 15h3m-2-59h3m-3 5h3m-3 15h3m-3 11h3m-3 2h3m-3 7h3m-3 6h3m-3 14h3m-3 1h3m-2-56h3m-3 8h3m-3 7h3m-3 7h3m-3 3h3m-3 4h3m-3 1h3m-3 13h3m-2-51h3m-3 5h3m-3 14h3m-3 10h3m-3 5h3m-3 7h3m-3 12h3m-3 9h3m-3 1h3m-2-55h3m-3 9h3m-3 11h3m-3 10h3m-3 2h3m-2-47h3m-3 21h3m-3 10h3m-3 1h3m-3 2h3m-3 4h3m-3 1h3m-3 2h3m-3 7h3m-3 9h3m-2-70h3m-3 16h3m-3 15h3m-3 1h3m-3 4h3m-3 2h3m-3 1h3m-3 2h3m-3 2h3m-3 2h3m-3 1h3m-3 14h3m-3 7h3m-3 7h3m-2-84h3m-3 7h3m-3 13h3m-3 11h3m-3 2h3m-3 1h3m-3 3h3m-3 6h3m-3 1h3m-3 5h3m-3 9h3m-3 6h3m-3 2h3m-3 5h3m-3 1h3m-3 5h3m-3 5h3m-2-63h3m-3 3h3m-3 10h3m-3 8h3m-3 10h3m-3 4h3m-3 1h3m-3 2h3m-3 1h3m-3 2h3m-3 2h3m-3 1h3m-3 1h3m-3 2h3m-3 3h3m-3 11h3m-3 1h3m-3 4h3m-2-61h3m-3 3h3m-3 4h3m-3 3h3m-3 25h3m-3 3h3m-3 2h3m-3 21h3m-3 11h3m-2-61h3m-3 1h3m-3 6h3m-3 2h3m-3 2h3m-3 5h3m-3 3h3m-3 1h3m-3 1h3m-3 4h3m-3 2h3m-3 2h3m-3 6h3m-3 1h3m-3 4h3m-3 10h3m-3 7h3m-2-62h3m-3 4h3m-3 13h3m-3 1h3m-3 2h3m-3 3h3m-3 2h3m-3 2h3m-3 4h3m-3 11h3m-3 1h3m-3 3h3m-3 1h3m-3 2h3m-3 1h3m-3 2h3m-2-56h3m-3 1h3m-3 8h3m-3 1h3m-3 2h3m-3 10h3m-3 1h3m-3 8h3m-3 4h3m-3 1h3m-3 3h3m-3 5h3m-3 5h3m-3 1h3m-3 2h3m-3 4h3m-3 7h3m-3 4h3m-2-74h3m-3 4h3m-3 6h3m-3 14h3m-3 3h3m-3 1h3m-3 1h3m-3 5h3m-3 1h3m-3 4h3m-3 1h3m-3 7h3m-3 1h3m-3 4h3m-3 1h3m-3 2h3m-3 2h3m-3 3h3m-2-84h3m-3 31h3m-3 10h3m-3 10h3m-3 8h3m-3 3h3m-3 1h3m-3 6h3m-3 4h3m-3 2h3m-3 1h3m-3 2h3m-3 4h3m-3 1h3m-3 1h3m-3 2h3m-2-56h3m-3 8h3m-3 8h3m-3 3h3m-3 5h3m-3 5h3m-3 3h3m-3 5h3m-3 3h3m-3 3h3m-3 1h3m-3 6h3m-3 2h3m-3 10h3m-3 4h3m-2-65h3m-3 4h3m-3 3h3m-3 5h3m-3 4h3m-3 9h3m-3 2h3m-3 7h3m-3 2h3m-3 3h3m-3 11h3m-3 4h3m-3 2h3m-3 4h3m-3 9h3m-2-64h3m-3 4h3m-3 2h3m-3 2h3m-3 3h3m-3 1h3m-3 3h3m-3 7h3m-3 1h3m-3 3h3m-3 1h3m-3 2h3m-3 2h3m-3 3h3m-3 4h3m-3 3h3m-3 17h3m-2-68h3m-3 4h3m-3 7h3m-3 2h3m-3 2h3m-3 9h3m-3 1h3m-3 3h3m-3 3h3m-3 7h3m-3 6h3m-3 6h3m-3 1h3m-3 2h3m-3 1h3m-3 1h3m-3 5h3m-3 1h3m-2-47h3m-3 7h3m-3 4h3m-3 4h3m-3 2h3m-3 3h3m-3 12h3m-3 5h3m-3 1h3m-3 1h3m-3 2h3m-3 13h3m-2-70h3m-3 14h3m-3 3h3m-3 2h3m-3 2h3m-3 4h3m-3 1h3m-3 2h3m-3 1h3m-3 5h3m-3 8h3m-3 1h3m-3 2h3m-3 2h3m-3 3h3m-3 2h3m-3 2h3m-3 2h3m-3 7h3m-3 9h3m-2-68h3m-3 14h3m-3 3h3m-3 2h3m-3 7h3m-3 1h3m-3 4h3m-3 5h3m-3 4h3m-3 1h3m-3 1h3m-3 2h3m-3 1h3m-3 1h3m-3 1h3m-3 4h3m-3 18h3m-2-95h3m-3 37h3m-3 5h3m-3 2h3m-3 6h3m-3 2h3m-3 1h3m-3 5h3m-3 1h3m-3 1h3m-3 4h3m-3 1h3m-3 2h3m-3 5h3m-3 10h3m-3 6h3m-3 2h3m-2-71h3m-3 5h3m-3 5h3m-3 10h3m-3 2h3m-3 2h3m-3 3h3m-3 6h3m-3 3h3m-3 8h3m-3 4h3m-3 5h3m-3 3h3m-3 5h3m-3 7h3m-3 8h3m-2-59h3m-3 1h3m-3 6h3m-3 2h3m-3 1h3m-3 3h3m-3 13h3m-3 1h3m-3 1h3m-3 3h3m-3 1h3m-3 3h3m-3 3h3m-3 3h3m-3 15h3m-3 7h3m-2-63h3m-3 5h3m-3 6h3m-3 1h3m-3 4h3m-3 6h3m-3 1h3m-3 2h3m-3 1h3m-3 2h3m-3 4h3m-3 1h3m-3 1h3m-3 9h3m-3 3h3m-3 2h3m-2-69h3m-3 7h3m-3 13h3m-3 2h3m-3 2h3m-3 5h3m-3 1h3m-3 4h3m-3 4h3m-3 2h3m-3 1h3m-3 2h3m-3 1h3m-3 1h3m-3 6h3m-3 2h3m-3 1h3m-3 25h3m-2-74h3m-3 6h3m-3 10h3m-3 1h3m-3 2h3m-3 2h3m-3 2h3m-3 2h3m-3 6h3m-3 4h3m-3 4h3m-3 3h3m-3 3h3m-3 4h3m-3 1h3m-3 2h3m-3 1h3m-3 2h3m-3 3h3m-3 1h3m-3 15h3m-2-74h3m-3 13h3m-3 9h3m-3 7h3m-3 1h3m-3 3h3m-3 4h3m-3 3h3m-3 2h3m-3 1h3m-3 2h3m-3 6h3m-3 2h3m-3 1h3m-3 5h3m-3 1h3m-3 1h3m-3 2h3m-3 2h3m-2-74h3m-3 19h3m-3 2h3m-3 5h3m-3 2h3m-3 3h3m-3 3h3m-3 1h3m-3 10h3m-3 1h3m-3 6h3m-3 2h3m-3 1h3m-3 4h3m-3 6h3m-3 6h3m-3 4h3m-3 1h3m-3 3h3m-3 2h3m-3 2h3m-2-63h3m-3 11h3m-3 5h3m-3 2h3m-3 4h3m-3 1h3m-3 3h3m-3 1h3m-3 2h3m-3 4h3m-3 1h3m-3 5h3m-3 1h3m-3 3h3m-3 5h3m-3 1h3m-3 1h3m-3 2h3m-3 5h3m-3 6h3m-2-62h3m-3 7h3m-3 3h3m-3 4h3m-3 2h3m-3 3h3m-3 15h3m-3 1h3m-3 3h3m-3 4h3m-3 1h3m-3 2h3m-3 6h3m-3 1h3m-3 10h3m-3 5h3m-2-61h3m-3 4h3m-3 3h3m-3 1h3m-3 3h3m-3 3h3m-3 3h3m-3 2h3m-3 6h3m-3 4h3m-3 4h3m-3 2h3m-3 1h3m-3 5h3m-3 10h3m-3 4h3m-2-82h3m-3 18h3m-3 2h3m-3 2h3m-3 4h3m-3 5h3m-3 4h3m-3 1h3m-3 4h3m-3 2h3m-3 3h3m-3 6h3m-3 6h3m-3 2h3m-3 6h3m-3 3h3m-3 4h3m-3 1h3m-2-63h3m-3 16h3m-3 2h3m-3 2h3m-3 1h3m-3 2h3m-3 3h3m-3 6h3m-3 2h3m-3 4h3m-3 3h3m-3 1h3m-2-40h3m-3 16h3m-3 2h3m-3 2h3m-3 2h3m-3 1h3m-3 5h3m-3 5h3m-3 2h3m-3 3h3m-3 6h3m-3 1h3m-3 4h3m-3 11h3m-3 4h3m-3 5h3m-2-85h3m-3 15h3m-3 8h3m-3 1h3m-3 3h3m-3 1h3m-3 1h3m-3 7h3m-3 2h3m-3 1h3m-3 2h3m-3 2h3m-3 1h3m-3 5h3m-3 4h3m-3 5h3m-3 3h3m-3 2h3m-3 2h3m-3 1h3m-3 5h3m-3 3h3m-3 7h3m-2-68h3m-3 4h3m-3 4h3m-3 12h3m-3 1h3m-3 2h3m-3 4h3m-3 2h3m-3 1h3m-3 4h3m-3 5h3m-3 2h3m-3 5h3m-3 1h3m-3 1h3m-3 2h3m-3 3h3m-3 2h3m-3 6h3m-3 13h3m-2-69h3m-3 14h3m-3 1h3m-3 8h3m-3 9h3m-3 1h3m-3 2h3m-3 3h3m-3 2h3m-3 1h3m-3 3h3m-3 4h3m-3 4h3m-3 3h3m-3 2h3m-3 2h3m-3 5h3m-3 2h3m-2-82h3m-3 11h3m-3 12h3m-3 1h3m-3 5h3m-3 4h3m-3 1h3m-3 1h3m-3 6h3m-3 3h3m-3 2h3m-3 1h3m-3 4h3m-3 2h3m-3 1h3m-3 5h3m-3 1h3m-3 5h3m-3 10h3m-3 6h3m-3 1h3m-2-84h3m-3 18h3m-3 4h3m-3 4h3m-3 2h3m-3 5h3m-3 6h3m-3 3h3m-3 1h3m-3 2h3m-3 1h3m-3 3h3m-3 5h3m-3 2h3m-3 1h3m-3 2h3m-3 3h3m-3 9h3m-3 8h3m-3 6h3m-3 7h3m-2-64h3m-3 5h3m-3 4h3m-3 6h3m-3 1h3m-3 1h3m-3 5h3m-3 3h3m-3 1h3m-3 7h3m-3 1h3m-3 1h3m-3 2h3m-3 2h3m-3 1h3m-3 1h3m-3 9h3m-3 2h3m-3 4h3m-3 1h3m-2-85h3m-3 28h3m-3 3h3m-3 2h3m-3 7h3m-3 4h3m-3 3h3m-3 1h3m-3 4h3m-3 4h3m-3 1h3m-3 8h3m-3 11h3m-3 9h3m-2-76h3m-3 20h3m-3 5h3m-3 6h3m-3 1h3m-3 3h3m-3 1h3m-3 1h3m-3 4h3m-3 2h3m-3 7h3m-3 2h3m-3 2h3m-3 4h3m-3 1h3m-3 14h3m-3 2h3m-2-67h3m-3 6h3m-3 9h3m-3 5h3m-3 4h3m-3 1h3m-3 1h3m-3 1h3m-3 3h3m-3 5h3m-3 1h3m-3 2h3m-3 3h3m-3 2h3m-3 4h3m-3 1h3m-3 3h3m-3 1h3m-3 5h3m-3 1h3m-3 2h3m-3 1h3m-3 17h3m-2-85h3m-3 7h3m-3 4h3m-3 1h3m-3 3h3m-3 5h3m-3 1h3m-3 4h3m-3 4h3m-3 1h3m-3 2h3m-3 6h3m-3 1h3m-3 2h3m-3 2h3m-3 3h3m-3 1h3m-3 2h3m-3 2h3m-3 4h3m-3 1h3m-3 4h3m-3 5h3m-3 2h3m-3 3h3m-3 2h3m-2-70h3m-3 4h3m-3 2h3m-3 9h3m-3 1h3m-3 2h3m-3 5h3m-3 5h3m-3 1h3m-3 1h3m-3 3h3m-3 1h3m-3 4h3m-3 3h3m-3 10h3m-3 4h3m-3 3h3m-3 14h3m-3 4h3m-2-66h3m-3 4h3m-3 8h3m-3 4h3m-3 2h3m-3 2h3m-3 4h3m-3 1h3m-3 2h3m-3 3h3m-3 1h3m-3 2h3m-3 4h3m-3 2h3m-3 1h3m-3 6h3m-3 7h3m-3 11h3m-2-64h3m-3 3h3m-3 9h3m-3 9h3m-3 2h3m-3 3h3m-3 4h3m-3 1h3m-3 1h3m-3 8h3m-3 1h3m-3 4h3m-3 13h3m-3 6h3m-3 3h3m-2-84h3m-3 6h3m-3 24h3m-3 1h3m-3 2h3m-3 7h3m-3 1h3m-3 1h3m-3 4h3m-3 2h3m-3 1h3m-3 5h3m-3 2h3m-3 3h3m-3 3h3m-3 11h3m-3 2h3m-3 1h3m-2-89h3m-3 23h3m-3 13h3m-3 13h3m-3 7h3m-3 5h3m-3 1h3m-3 4h3m-3 4h3m-3 2h3m-3 2h3m-3 1h3m-3 4h3m-3 8h3m-3 1h3m-3 4h3m-2-60h3m-3 5h3m-3 1h3m-3 2h3m-3 2h3m-3 9h3m-3 3h3m-3 3h3m-3 2h3m-3 1h3m-3 1h3m-3 2h3m-3 2h3m-3 2h3m-3 3h3m-3 1h3m-3 1h3m-3 2h3m-3 5h3m-3 5h3m-3 4h3m-3 11h3m-2-81h3m-3 3h3m-3 8h3m-3 3h3m-3 2h3m-3 4h3m-3 1h3m-3 8h3m-3 9h3m-3 1h3m-3 8h3m-3 3h3m-3 6h3m-3 2h3m-3 5h3m-3 1h3m-3 2h3m-3 14h3m-2-85h3m-3 10h3m-3 4h3m-3 3h3m-3 3h3m-3 3h3m-3 5h3m-3 3h3m-3 4h3m-3 1h3m-3 1h3m-3 3h3m-3 1h3m-3 4h3m-3 1h3m-3 2h3m-3 1h3m-3 2h3m-3 2h3m-3 2h3m-3 1h3m-3 5h3m-3 1h3m-3 4h3m-3 3h3m-3 15h3m-2-104h3m-3 27h3m-3 6h3m-3 5h3m-3 11h3m-3 3h3m-3 6h3m-3 2h3m-3 4h3m-3 3h3m-3 3h3m-3 3h3m-3 1h3m-3 1h3m-3 2h3m-3 2h3m-3 9h3m-3 16h3m-2-76h3m-3 10h3m-3 5h3m-3 7h3m-3 8h3m-3 2h3m-3 2h3m-3 3h3m-3 1h3m-3 6h3m-3 3h3m-3 4h3m-3 2h3m-3 4h3m-3 2h3m-3 2h3m-3 1h3m-3 6h3m-2-72h3m-3 5h3m-3 9h3m-3 1h3m-3 6h3m-3 10h3m-3 4h3m-3 6h3m-3 3h3m-3 2h3m-3 10h3m-3 2h3m-3 1h3m-3 3h3m-2-55h3m-3 6h3m-3 13h3m-3 2h3m-3 1h3m-3 1h3m-3 1h3m-3 10h3m-3 4h3m-3 7h3m-3 4h3m-3 1h3m-3 8h3m-3 1h3m-3 6h3m-3 10h3m-2-88h3m-3 17h3m-3 12h3m-3 1h3m-3 3h3m-3 1h3m-3 2h3m-3 1h3m-3 1h3m-3 4h3m-3 6h3m-3 2h3m-3 1h3m-3 1h3m-3 2h3m-3 2h3m-3 3h3m-3 1h3m-3 4h3m-3 1h3m-3 7h3m-3 5h3m-3 3h3m-3 4h3m-2-73h3m-3 19h3m-3 3h3m-3 5h3m-3 5h3m-3 2h3m-3 2h3m-3 6h3m-3 8h3m-3 6h3m-3 2h3m-3 6h3m-3 5h3m-2-75h3m-3 11h3m-3 5h3m-3 11h3m-3 7h3m-3 2h3m-3 3h3m-3 2h3m-3 1h3m-3 1h3m-3 1h3m-3 1h3m-3 1h3m-3 7h3m-3 1h3m-3 2h3m-3 3h3m-3 13h3m-3 1h3m-3 3h3m-3 3h3m-3 9h3m-2-77h3m-3 6h3m-3 9h3m-3 5h3m-3 3h3m-3 3h3m-3 3h3m-3 1h3m-3 1h3m-3 2h3m-3 4h3m-3 5h3m-3 6h3m-3 9h3m-3 9h3m-2-78h3m-3 12h3m-3 4h3m-3 3h3m-3 3h3m-3 2h3m-3 2h3m-3 1h3m-3 7h3m-3 1h3m-3 3h3m-3 3h3m-3 1h3m-3 6h3m-3 4h3m-3 1h3m-3 4h3m-3 1h3m-3 11h3m-3 1h3m-3 4h3m-3 3h3m-2-70h3m-3 4h3m-3 3h3m-3 1h3m-3 2h3m-3 3h3m-3 1h3m-3 9h3m-3 7h3m-3 2h3m-3 10h3m-3 1h3m-3 2h3m-3 7h3m-3 2h3m-3 6h3m-3 2h3m-3 6h3m-3 1h3m-3 8h3m-2-78h3m-3 15h3m-3 8h3m-3 1h3m-3 2h3m-3 1h3m-3 2h3m-3 1h3m-3 3h3m-3 6h3m-3 2h3m-3 3h3m-3 1h3m-3 3h3m-3 2h3m-3 3h3m-3 3h3m-3 1h3m-3 2h3m-3 3h3m-3 9h3m-2-68h3m-3 1h3m-3 1h3m-3 22h3m-3 3h3m-3 3h3m-3 5h3m-3 1h3m-3 2h3m-3 4h3m-3 7h3m-3 2h3m-3 6h3m-3 2h3m-3 4h3m-3 6h3m-2-63h3m-3 9h3m-3 3h3m-3 3h3m-3 1h3m-3 1h3m-3 1h3m-3 1h3m-3 1h3m-3 4h3m-3 11h3m-3 1h3m-3 2h3m-3 4h3m-3 4h3m-3 3h3m-3 2h3m-2-70h3m-3 12h3m-3 2h3m-3 4h3m-3 6h3m-3 9h3m-3 3h3m-3 6h3m-3 1h3m-3 1h3m-3 1h3m-3 2h3m-3 2h3m-3 1h3m-3 2h3m-3 1h3m-3 1h3m-3 2h3m-3 7h3m-3 5h3m-3 1h3m-2-61h3m-3 1h3m-3 11h3m-3 4h3m-3 3h3m-3 20h3m-3 4h3m-3 3h3m-3 1h3m-3 1h3m-3 1h3m-3 1h3m-3 1h3m-3 11h3m-3 14h3m-2-76h3m-3 11h3m-3 1h3m-3 3h3m-3 4h3m-3 1h3m-3 11h3m-3 1h3m-3 3h3m-3 3h3m-3 3h3m-3 16h3m-3 1h3m-3 3h3m-3 1h3m-3 13h3m-2-64h3m-3 4h3m-3 18h3m-3 1h3m-3 3h3m-3 3h3m-3 4h3m-3 1h3m-3 10h3m-3 4h3m-3 17h3m-2-89h3m-3 16h3m-3 6h3m-3 1h3m-3 3h3m-3 4h3m-3 3h3m-3 3h3m-3 5h3m-3 4h3m-3 9h3m-3 3h3m-3 7h3m-3 3h3m-3 15h3m-3 6h3m-3 1h3m-2-77h3m-3 5h3m-3 1h3m-3 3h3m-3 2h3m-3 8h3m-3 4h3m-3 4h3m-3 1h3m-3 3h3m-3 5h3m-3 4h3m-3 2h3m-3 1h3m-3 4h3m-3 1h3m-3 4h3m-3 1h3m-3 5h3m-3 1h3m-3 3h3m-3 4h3m-3 5h3m-3 6h3m-2-104h3m-3 26h3m-3 29h3m-3 2h3m-3 3h3m-3 3h3m-3 4h3m-3 3h3m-3 1h3m-3 3h3m-3 12h3m-3 1h3m-3 4h3m-3 2h3m-3 1h3m-3 6h3m-2-69h3m-3 6h3m-3 4h3m-3 5h3m-3 2h3m-3 6h3m-3 1h3m-3 1h3m-3 3h3m-3 1h3m-3 2h3m-3 4h3m-3 2h3m-3 5h3m-3 2h3m-3 2h3m-3 2h3m-3 4h3m-3 1h3m-3 5h3m-3 2h3m-3 5h3m-3 4h3m-2-79h3m-3 14h3m-3 3h3m-3 1h3m-3 2h3m-3 1h3m-3 5h3m-3 4h3m-3 3h3m-3 1h3m-3 3h3m-3 1h3m-3 1h3m-3 4h3m-3 2h3m-3 1h3m-3 9h3m-3 1h3m-3 6h3m-3 10h3m-3 2h3m-3 9h3m-2-82h3m-3 16h3m-3 3h3m-3 3h3m-3 5h3m-3 3h3m-3 1h3m-3 3h3m-3 2h3m-3 1h3m-3 3h3m-3 1h3m-3 1h3m-3 2h3m-3 2h3m-3 1h3m-3 1h3m-3 5h3m-3 5h3m-3 12h3m-3 4h3m-3 8h3m-2-77h3m-3 2h3m-3 12h3m-3 3h3m-3 3h3m-3 5h3m-3 5h3m-3 6h3m-3 5h3m-3 1h3m-3 2h3m-3 3h3m-3 2h3m-3 9h3m-3 5h3m-3 10h3m-3 5h3m-2-98h3m-3 12h3m-3 4h3m-3 11h3m-3 12h3m-3 2h3m-3 3h3m-3 5h3m-3 9h3m-3 6h3m-3 1h3m-3 1h3m-3 1h3m-3 1h3m-3 1h3m-3 6h3m-3 1h3m-3 2h3m-3 4h3m-3 17h3m-3 2h3m-2-88h3m-3 12h3m-3 17h3m-3 1h3m-3 1h3m-3 1h3m-3 1h3m-3 1h3m-3 2h3m-3 6h3m-3 5h3m-3 5h3m-3 14h3m-3 3h3m-3 1h3m-3 3h3m-2-70h3m-3 4h3m-3 3h3m-3 3h3m-3 2h3m-3 7h3m-3 1h3m-3 1h3m-3 5h3m-3 1h3m-3 2h3m-3 8h3m-3 1h3m-3 1h3m-3 2h3m-3 2h3m-3 1h3m-3 9h3m-3 1h3m-3 3h3m-3 7h3m-3 3h3m-3 10h3m-3 6h3m-2-85h3m-3 3h3m-3 3h3m-3 3h3m-3 11h3m-3 1h3m-3 1h3m-3 1h3m-3 1h3m-3 4h3m-3 3h3m-3 10h3m-3 6h3m-3 7h3m-3 12h3m-3 19h3m-2-71h3m-3 4h3m-3 5h3m-3 1h3m-3 1h3m-3 5h3m-3 1h3m-3 4h3m-3 1h3m-3 1h3m-3 1h3m-3 2h3m-3 1h3m-3 1h3m-3 5h3m-3 3h3m-3 4h3m-3 1h3m-3 10h3m-3 3h3m-3 3h3m-3 10h3m-2-70h3m-3 5h3m-3 1h3m-3 1h3m-3 6h3m-3 2h3m-3 7h3m-3 3h3m-3 1h3m-3 3h3m-3 2h3m-3 2h3m-3 2h3m-3 6h3m-3 5h3m-3 3h3m-3 3h3m-3 1h3m-3 12h3m-2-73h3m-3 13h3m-3 2h3m-3 7h3m-3 2h3m-3 2h3m-3 1h3m-3 3h3m-3 3h3m-3 2h3m-3 2h3m-3 1h3m-3 1h3m-3 2h3m-3 5h3m-3 1h3m-3 3h3m-3 3h3m-3 17h3m-3 1h3m-2-61h3m-3 2h3m-3 12h3m-3 2h3m-3 1h3m-3 1h3m-3 1h3m-3 1h3m-3 7h3m-3 1h3m-3 1h3m-3 1h3m-3 1h3m-3 8h3m-3 4h3m-3 4h3m-3 15h3m-2-74h3m-3 11h3m-3 8h3m-3 1h3m-3 2h3m-3 4h3m-3 2h3m-3 2h3m-3 2h3m-3 4h3m-3 1h3m-3 9h3m-3 1h3m-3 5h3m-3 2h3m-3 5h3m-3 20h3m-2-91h3m-3 13h3m-3 8h3m-3 11h3m-3 4h3m-3 3h3m-3 2h3m-3 1h3m-3 6h3m-3 2h3m-3 3h3m-3 2h3m-3 1h3m-3 6h3m-3 4h3m-3 6h3m-3 2h3m-3 2h3m-3 1h3m-2-70h3m-3 3h3m-3 1h3m-3 15h3m-3 2h3m-3 2h3m-3 1h3m-3 5h3m-3 2h3m-3 1h3m-3 2h3m-3 4h3m-3 4h3m-3 2h3m-3 3h3m-3 1h3m-3 3h3m-3 4h3m-3 2h3m-3 3h3m-3 4h3m-3 11h3m-3 1h3m-3 3h3m-3 2h3m-2-69h3m-3 2h3m-3 7h3m-3 1h3m-3 3h3m-3 2h3m-3 1h3m-3 8h3m-3 3h3m-3 2h3m-3 1h3m-3 3h3m-3 5h3m-3 4h3m-3 4h3m-3 2h3m-3 3h3m-3 2h3m-3 6h3m-3 4h3m-3 8h3m-2-79h3m-3 6h3m-3 9h3m-3 3h3m-3 1h3m-3 10h3m-3 1h3m-3 1h3m-3 5h3m-3 1h3m-3 2h3m-3 2h3m-3 1h3m-3 1h3m-3 3h3m-3 3h3m-3 1h3m-3 3h3m-3 6h3m-3 2h3m-3 13h3m-2-71h3m-3 2h3m-3 13h3m-3 2h3m-3 2h3m-3 3h3m-3 3h3m-3 2h3m-3 6h3m-3 1h3m-3 10h3m-3 5h3m-3 2h3m-3 4h3m-3 4h3m-3 7h3m-2-71h3m-3 10h3m-3 4h3m-3 1h3m-3 3h3m-3 3h3m-3 8h3m-3 2h3m-3 1h3m-3 3h3m-3 4h3m-3 2h3m-3 3h3m-3 9h3m-3 3h3m-3 5h3m-3 3h3m-3 10h3m-2-87h3m-3 13h3m-3 1h3m-3 3h3m-3 10h3m-3 6h3m-3 4h3m-3 1h3m-3 3h3m-3 1h3m-3 3h3m-3 1h3m-3 3h3m-3 1h3m-3 5h3m-3 2h3m-3 2h3m-3 1h3m-3 4h3m-3 8h3m-2-58h3m-3 2h3m-3 1h3m-3 5h3m-3 5h3m-3 2h3m-3 3h3m-3 3h3m-3 1h3m-3 1h3m-3 2h3m-3 5h3m-3 5h3m-3 6h3m-3 3h3m-3 4h3m-3 1h3m-3 6h3m-3 10h3m-2-56h3m-3 3h3m-3 6h3m-3 3h3m-3 1h3m-3 3h3m-3 5h3m-3 1h3m-3 2h3m-3 4h3m-3 5h3m-3 4h3m-3 2h3m-3 18h3m-3 6h3m-3 3h3m-2-82h3m-3 3h3m-3 5h3m-3 10h3m-3 1h3m-3 3h3m-3 4h3m-3 7h3m-3 1h3m-3 3h3m-3 1h3m-3 4h3m-3 2h3m-3 1h3m-3 2h3m-3 4h3m-3 2h3m-3 3h3m-3 1h3m-3 3h3m-3 1h3m-3 2h3m-3 3h3m-3 12h3m-3 4h3m-2-55h3m-3 3h3m-3 1h3m-3 6h3m-3 2h3m-3 1h3m-3 1h3m-3 1h3m-3 3h3m-3 1h3m-3 1h3m-3 1h3m-3 21h3m-3 17h3m-3 3h3m-2-82h3m-3 6h3m-3 10h3m-3 2h3m-3 2h3m-3 4h3m-3 2h3m-3 1h3m-3 6h3m-3 2h3m-3 3h3m-3 2h3m-3 1h3m-3 1h3m-3 2h3m-3 1h3m-3 2h3m-3 1h3m-3 28h3m-3 8h3m-2-92h3m-3 17h3m-3 4h3m-3 2h3m-3 3h3m-3 8h3m-3 2h3m-3 1h3m-3 1h3m-3 1h3m-3 1h3m-3 1h3m-3 6h3m-3 3h3m-3 2h3m-3 3h3m-3 1h3m-3 9h3m-3 4h3m-3 16h3m-3 4h3m-2-92h3m-3 18h3m-3 7h3m-3 1h3m-3 2h3m-3 2h3m-3 1h3m-3 1h3m-3 1h3m-3 2h3m-3 1h3m-3 2h3m-3 3h3m-3 3h3m-3 3h3m-3 7h3m-3 1h3m-3 1h3m-3 3h3m-3 5h3m-3 11h3m-3 5h3m-3 19h3m-2-92h3m-3 20h3m-3 1h3m-3 3h3m-3 6h3m-3 1h3m-3 1h3m-3 6h3m-3 1h3m-3 4h3m-3 2h3m-3 3h3m-3 1h3m-3 1h3m-3 4h3m-3 3h3m-3 1h3m-3 5h3m-3 8h3m-3 9h3m-3 2h3m-2-87h3m-3 4h3m-3 8h3m-3 5h3m-3 1h3m-3 1h3m-3 7h3m-3 1h3m-3 1h3m-3 2h3m-3 1h3m-3 2h3m-3 2h3m-3 1h3m-3 2h3m-3 1h3m-3 3h3m-3 2h3m-3 3h3m-3 1h3m-3 3h3m-3 4h3m-3 1h3m-3 2h3m-3 2h3m-3 1h3m-3 1h3m-3 2h3m-3 4h3m-3 2h3m-3 2h3m-3 12h3m-2-81h3m-3 17h3m-3 3h3m-3 7h3m-3 1h3m-3 7h3m-3 2h3m-3 2h3m-3 4h3m-3 4h3m-3 2h3m-3 1h3m-3 1h3m-3 1h3m-3 2h3m-3 1h3m-3 8h3m-3 8h3m-3 9h3m-3 13h3m-2-90h3m-3 5h3m-3 2h3m-3 6h3m-3 4h3m-3 2h3m-3 1h3m-3 1h3m-3 5h3m-3 4h3m-3 1h3m-3 1h3m-3 2h3m-3 2h3m-3 3h3m-3 2h3m-3 1h3m-3 1h3m-3 1h3m-3 2h3m-3 1h3m-3 6h3m-3 1h3m-3 4h3m-3 1h3m-3 5h3m-2-55h3m-3 4h3m-3 1h3m-3 7h3m-3 6h3m-3 10h3m-3 4h3m-3 10h3m-3 1h3m-3 2h3m-3 4h3m-3 1h3m-3 11h3m-3 15h3m-2-101h3m-3 3h3m-3 5h3m-3 7h3m-3 4h3m-3 5h3m-3 6h3m-3 4h3m-3 5h3m-3 1h3m-3 1h3m-3 1h3m-3 3h3m-3 3h3m-3 3h3m-3 1h3m-3 1h3m-3 1h3m-3 1h3m-3 6h3m-3 3h3m-3 3h3m-3 1h3m-3 5h3m-3 3h3m-3 18h3m-2-82h3m-3 7h3m-3 4h3m-3 1h3m-3 2h3m-3 1h3m-3 2h3m-3 3h3m-3 2h3m-3 4h3m-3 1h3m-3 1h3m-3 4h3m-3 3h3m-3 1h3m-3 1h3m-3 6h3m-3 3h3m-3 1h3m-3 2h3m-3 5h3m-3 1h3m-3 1h3m-3 3h3m-3 3h3m-3 4h3m-3 2h3m-2-75h3m-3 10h3m-3 3h3m-3 2h3m-3 5h3m-3 2h3m-3 7h3m-3 1h3m-3 3h3m-3 5h3m-3 1h3m-3 10h3m-3 1h3m-3 2h3m-3 4h3m-3 5h3m-3 1h3m-3 5h3m-3 5h3m-3 3h3m-2-68h3m-3 4h3m-3 2h3m-3 5h3m-3 3h3m-3 2h3m-3 3h3m-3 1h3m-3 5h3m-3 1h3m-3 1h3m-3 1h3m-3 3h3m-3 2h3m-3 1h3m-3 3h3m-3 2h3m-3 1h3m-3 1h3m-3 3h3m-3 2h3m-3 1h3m-3 5h3m-3 3h3m-3 6h3m-3 13h3m-3 11h3m-2-70h3m-3 3h3m-3 1h3m-3 1h3m-3 3h3m-3 5h3m-3 1h3m-3 1h3m-3 2h3m-3 1h3m-3 3h3m-3 2h3m-3 1h3m-3 3h3m-3 3h3m-3 4h3m-3 3h3m-3 3h3m-3 1h3m-3 8h3m-3 1h3m-3 1h3m-3 5h3m-3 2h3m-2-77h3m-3 13h3m-3 4h3m-3 6h3m-3 2h3m-3 2h3m-3 2h3m-3 1h3m-3 3h3m-3 6h3m-3 2h3m-3 3h3m-3 1h3m-3 1h3m-3 1h3m-3 2h3m-3 5h3m-3 1h3m-3 8h3m-3 9h3m-2-80h3m-3 13h3m-3 7h3m-3 3h3m-3 1h3m-3 3h3m-3 2h3m-3 1h3m-3 5h3m-3 2h3m-3 2h3m-3 2h3m-3 3h3m-3 5h3m-3 2h3m-3 4h3m-3 1h3m-3 6h3m-3 1h3m-3 11h3m-3 5h3m-3 14h3m-2-76h3m-3 10h3m-3 6h3m-3 9h3m-3 1h3m-3 9h3m-3 4h3m-3 2h3m-3 4h3m-3 1h3m-3 5h3m-3 4h3m-3 1h3m-3 8h3m-3 1h3m-3 20h3m-2-100h3m-3 11h3m-3 11h3m-3 7h3m-3 5h3m-3 4h3m-3 4h3m-3 1h3m-3 2h3m-3 1h3m-3 4h3m-3 2h3m-3 2h3m-3 6h3m-3 4h3m-3 6h3m-3 1h3m-3 4h3m-3 6h3m-2-68h3m-3 7h3m-3 1h3m-3 6h3m-3 1h3m-3 2h3m-3 1h3m-3 1h3m-3 5h3m-3 4h3m-3 6h3m-3 1h3m-3 2h3m-3 1h3m-3 3h3m-3 1h3m-3 5h3m-3 12h3m-2-50h3m-3 1h3m-3 2h3m-3 8h3m-3 1h3m-3 1h3m-3 2h3m-3 3h3m-3 1h3m-3 1h3m-3 3h3m-3 6h3m-3 2h3m-3 3h3m-3 3h3m-3 1h3m-3 2h3m-3 3h3m-3 4h3m-3 3h3m-3 5h3m-3 2h3m-3 11h3m-3 3h3m-2-88h3m-3 9h3m-3 4h3m-3 10h3m-3 5h3m-3 1h3m-3 5h3m-3 1h3m-3 1h3m-3 1h3m-3 2h3m-3 4h3m-3 1h3m-3 2h3m-3 9h3m-3 2h3m-3 6h3m-3 18h3m-2-76h3m-3 3h3m-3 1h3m-3 2h3m-3 2h3m-3 3h3m-3 2h3m-3 3h3m-3 1h3m-3 1h3m-3 2h3m-3 1h3m-3 1h3m-3 2h3m-3 2h3m-3 1h3m-3 2h3m-3 3h3m-3 1h3m-3 1h3m-3 1h3m-3 1h3m-3 1h3m-3 5h3m-3 1h3m-3 1h3m-3 2h3m-3 1h3m-3 1h3m-3 15h3m-2-57h3m-3 1h3m-3 7h3m-3 6h3m-3 2h3m-3 4h3m-3 1h3m-3 3h3m-3 1h3m-3 2h3m-3 1h3m-3 1h3m-3 2h3m-3 1h3m-3 1h3m-3 4h3m-3 5h3m-3 1h3m-3 4h3m-3 1h3m-3 1h3m-3 1h3m-3 7h3m-2-82h3m-3 27h3m-3 1h3m-3 3h3m-3 7h3m-3 2h3m-3 7h3m-3 1h3m-3 8h3m-3 1h3m-3 4h3m-3 1h3m-3 2h3m-3 1h3m-3 4h3m-3 2h3m-3 4h3m-2-61h3m-3 2h3m-3 8h3m-3 8h3m-3 5h3m-3 2h3m-3 2h3m-3 3h3m-3 2h3m-3 3h3m-3 3h3m-3 2h3m-3 1h3m-3 2h3m-3 2h3m-3 2h3m-3 5h3m-3 1h3m-3 3h3m-3 1h3m-3 2h3m-3 5h3m-3 4h3m-3 2h3m-3 2h3m-3 2h3m-3 5h3m-3 10h3m-2-87h3m-3 3h3m-3 5h3m-3 6h3m-3 5h3m-3 1h3m-3 1h3m-3 1h3m-3 6h3m-3 3h3m-3 2h3m-3 2h3m-3 2h3m-3 1h3m-3 3h3m-3 1h3m-3 1h3m-3 2h3m-3 1h3m-3 1h3m-3 5h3m-3 3h3m-3 21h3m-2-102h3m-3 13h3m-3 14h3m-3 1h3m-3 4h3m-3 4h3m-3 3h3m-3 9h3m-3 1h3m-3 1h3m-3 1h3m-3 2h3m-3 1h3m-3 5h3m-3 1h3m-3 1h3m-3 1h3m-3 2h3m-3 3h3m-3 2h3m-3 2h3m-3 1h3m-3 5h3m-3 2h3m-3 17h3m-3 3h3m-3 16h3m-2-99h3m-3 13h3m-3 10h3m-3 8h3m-3 3h3m-3 1h3m-3 1h3m-3 5h3m-3 2h3m-3 1h3m-3 2h3m-3 1h3m-3 1h3m-3 2h3m-3 2h3m-3 1h3m-3 8h3m-3 3h3m-3 6h3m-3 2h3m-3 4h3m-2-64h3m-3 4h3m-3 5h3m-3 8h3m-3 1h3m-3 3h3m-3 2h3m-3 1h3m-3 1h3m-3 2h3m-3 3h3m-3 2h3m-3 3h3m-3 2h3m-3 3h3m-3 1h3m-3 2h3m-3 5h3m-3 3h3m-3 12h3m-3 7h3m-2-86h3m-3 14h3m-3 5h3m-3 2h3m-3 6h3m-3 5h3m-3 3h3m-3 5h3m-3 1h3m-3 2h3m-3 3h3m-3 1h3m-3 1h3m-3 1h3m-3 3h3m-3 1h3m-3 2h3m-3 2h3m-3 4h3m-3 5h3m-3 2h3m-3 1h3m-3 2h3m-3 15h3m-2-79h3m-3 6h3m-3 3h3m-3 3h3m-3 3h3m-3 2h3m-3 11h3m-3 1h3m-3 4h3m-3 4h3m-3 5h3m-3 1h3m-3 8h3m-3 2h3m-3 5h3m-3 2h3m-3 2h3m-3 2h3m-3 5h3m-3 16h3m-2-90h3m-3 4h3m-3 9h3m-3 11h3m-3 5h3m-3 5h3m-3 2h3m-3 6h3m-3 4h3m-3 2h3m-3 2h3m-3 1h3m-3 7h3m-3 1h3m-3 1h3m-3 3h3m-3 2h3m-3 1h3m-3 2h3m-3 1h3m-3 5h3m-2-58h3m-3 3h3m-3 5h3m-3 4h3m-3 3h3m-3 3h3m-3 1h3m-3 2h3m-3 2h3m-3 6h3m-3 1h3m-3 5h3m-3 2h3m-3 1h3m-3 1h3m-3 2h3m-3 1h3m-3 1h3m-3 4h3m-3 1h3m-3 2h3m-3 2h3m-3 1h3m-2-60h3m-3 13h3m-3 7h3m-3 1h3m-3 1h3m-3 6h3m-3 1h3m-3 3h3m-3 1h3m-3 4h3m-3 1h3m-3 1h3m-3 1h3m-3 1h3m-3 3h3m-3 7h3m-3 1h3m-3 2h3m-3 2h3m-3 1h3m-3 2h3m-2-49h3m-3 4h3m-3 7h3m-3 6h3m-3 2h3m-3 3h3m-3 1h3m-3 2h3m-3 2h3m-3 6h3m-3 2h3m-3 4h3m-3 4h3m-3 7h3m-3 4h3m-3 12h3m-2-71h3m-3 1h3m-3 1h3m-3 7h3m-3 6h3m-3 1h3m-3 5h3m-3 4h3m-3 3h3m-3 4h3m-3 3h3m-3 1h3m-3 1h3m-3 3h3m-3 1h3m-3 6h3m-3 2h3m-3 2h3m-2-51h3m-3 9h3m-3 1h3m-3 3h3m-3 3h3m-3 4h3m-3 2h3m-3 3h3m-3 1h3m-3 1h3m-3 2h3m-3 2h3m-3 1h3m-3 1h3m-3 1h3m-3 1h3m-3 1h3m-3 3h3m-3 6h3m-3 7h3m-3 1h3m-3 6h3m-2-53h3m-3 4h3m-3 6h3m-3 5h3m-3 3h3m-3 1h3m-3 6h3m-3 7h3m-3 2h3m-3 1h3m-3 1h3m-3 2h3m-3 10h3m-3 4h3m-3 5h3m-3 1h3m-2-67h3m-3 6h3m-3 5h3m-3 2h3m-3 1h3m-3 3h3m-3 1h3m-3 1h3m-3 1h3m-3 1h3m-3 3h3m-3 10h3m-3 9h3m-3 2h3m-3 7h3m-3 18h3m-2-69h3m-3 2h3m-3 1h3m-3 10h3m-3 8h3m-3 10h3m-3 2h3m-3 6h3m-3 5h3m-3 1h3m-3 4h3m-3 9h3m-3 10h3m-2-72h3m-3 4h3m-3 11h3m-3 2h3m-3 3h3m-3 1h3m-3 11h3m-3 7h3m-3 1h3m-3 1h3m-3 1h3m-3 3h3m-3 6h3m-3 19h3m-3 3h3m-2-57h3m-3 2h3m-3 9h3m-3 2h3m-3 4h3m-3 6h3m-3 1h3m-3 5h3m-3 1h3m-3 2h3m-3 2h3m-3 1h3m-3 6h3m-3 3h3m-3 3h3m-3 12h3m-2-71h3m-3 4h3m-3 7h3m-3 1h3m-3 3h3m-3 1h3m-3 2h3m-3 1h3m-3 3h3m-3 1h3m-3 1h3m-3 3h3m-3 4h3m-3 4h3m-3 2h3m-3 3h3m-3 1h3m-3 4h3m-3 5h3m-3 1h3m-3 2h3m-3 2h3m-3 7h3m-3 9h3m-3 2h3m-2-65h3m-3 1h3m-3 10h3m-3 2h3m-3 7h3m-3 2h3m-3 1h3m-3 8h3m-3 2h3m-3 2h3m-3 4h3m-3 1h3m-3 7h3m-3 22h3m-2-89h3m-3 7h3m-3 16h3m-3 3h3m-3 4h3m-3 2h3m-3 1h3m-3 5h3m-3 4h3m-3 1h3m-3 2h3m-3 7h3m-3 5h3m-3 1h3m-3 10h3m-3 18h3m-2-69h3m-3 12h3m-3 2h3m-3 1h3m-3 3h3m-3 1h3m-3 2h3m-3 4h3m-3 2h3m-3 1h3m-3 4h3m-3 2h3m-3 9h3m-3 3h3m-3 3h3m-2-40h3m-3 4h3m-3 2h3m-3 2h3m-3 3h3m-3 8h3m-3 3h3m-3 2h3m-3 1h3m-3 9h3m-3 2h3m-3 1h3m-3 12h3m-2-71h3m-3 8h3m-3 4h3m-3 3h3m-3 7h3m-3 4h3m-3 4h3m-3 4h3m-3 4h3m-3 6h3m-3 2h3m-3 6h3m-3 1h3m-3 3h3m-3 3h3m-2-59h3m-3 8h3m-3 3h3m-3 1h3m-3 7h3m-3 6h3m-3 2h3m-3 2h3m-3 2h3m-3 8h3m-3 1h3m-3 1h3m-3 2h3m-3 20h3m-3 4h3m-3 12h3m-2-72h3m-3 5h3m-3 4h3m-3 11h3m-3 4h3m-3 1h3m-3 2h3m-3 2h3m-3 1h3m-3 1h3m-3 2h3m-3 3h3m-3 1h3m-3 4h3m-3 2h3m-3 1h3m-3 2h3m-3 5h3m-3 1h3m-3 4h3m-3 2h3m-2-59h3m-3 5h3m-3 17h3m-3 1h3m-3 7h3m-3 2h3m-3 10h3m-3 3h3m-3 1h3m-3 23h3m-2-63h3m-3 3h3m-3 14h3m-3 12h3m-3 7h3m-3 5h3m-3 2h3m-3 2h3m-3 9h3m-2-51h3m-3 2h3m-3 11h3m-3 5h3m-3 1h3m-3 4h3m-3 5h3m-3 1h3m-3 3h3m-3 1h3m-3 2h3m-3 2h3m-3 1h3m-3 1h3m-3 4h3m-3 9h3m-3 1h3m-3 1h3m-3 8h3m-3 16h3m-2-68h3m-3 2h3m-3 5h3m-3 3h3m-3 8h3m-3 2h3m-3 4h3m-3 4h3m-3 10h3m-2-47h3m-3 6h3m-3 4h3m-3 2h3m-3 3h3m-3 9h3m-3 3h3m-3 2h3m-3 7h3m-3 4h3m-3 4h3m-2-56h3m-3 2h3m-3 7h3m-3 13h3m-3 3h3m-3 8h3m-3 1h3m-3 1h3m-3 1h3m-2-33h3m-3 6h3m-3 6h3m-3 6h3m-3 8h3m-3 2h3m-3 3h3m-3 4h3m-3 2h3m-3 4h3m-3 2h3m-3 1h3m-3 3h3m-3 5h3m-3 8h3m-3 4h3m-3 2h3m-2-63h3m-3 11h3m-3 9h3m-3 2h3m-3 2h3m-3 6h3m-3 5h3m-3 2h3m-3 7h3m-3 2h3m-2-42h3m-3 2h3m-3 5h3m-3 2h3m-3 3h3m-3 2h3m-3 3h3m-3 1h3m-3 8h3m-3 6h3m-3 2h3m-3 2h3m-2-34h3m-3 6h3m-3 5h3m-3 1h3m-3 8h3m-3 1h3m-3 3h3m-3 1h3m-3 5h3m-3 12h3m-3 15h3m-2-66h3m-3 22h3m-3 4h3m-3 4h3m-3 3h3m-3 5h3m-3 3h3m-3 5h3m-3 9h3m-3 5h3m-2-46h3m-3 1h3m-3 7h3m-3 1h3m-3 4h3m-3 1h3m-3 19h3m-3 3h3m-2-63h3m-3 17h3m-3 8h3m-3 5h3m-3 2h3m-3 26h3m-3 1h3m-3 4h3m-3 5h3m-3 7h3m-2-38h3m-3 1h3m-3 6h3m-3 16h3m-3 6h3m-2-41h3m-3 2h3m-3 7h3m-3 2h3m-3 9h3m-3 5h3m-3 22h3m-3 4h3m-3 12h3m-2-57h3m-3 1h3m-3 8h3m-3 4h3m-3 2h3m-3 7h3m-3 19h3m-2-42h3m-3 14h3m-3 10h3m-3 1h3m-3 5h3m-3 8h3m-2-48h3m-3 4h3m-3 2h3m-3 1h3m-3 3h3m-3 6h3m-3 10h3m-3 3h3m-3 16h3m-2-84h3m-3 41h3m-3 8h3m-3 3h3m-3 12h3m-3 2h3m-3 1h3m-3 13h3m-2-49h3m-3 24h3m-3 4h3m-3 10h3m-2-33h3m-3 9h3m-3 14h3m-3 2h3m-3 7h3m-3 2h3m-2-26h3m-3 2h3m-3 3h3m-3 17h3m-2-24h3m-3 13h3m-3 5h3m-3 3h3m-2-38h3m-3 12h3m-3 4h3m-3 6h3m-3 1h3m-3 12h3m-3 22h3m-2-51h3m-3 6h3m-3 11h3m-3 11h3m-3 19h3m-2-47h3m-3 22h3m-3 36h3m-2-31h3m-3 3h3m-3 11h3m-2-34h3m-3 16h3m-3 4h3m-3 10h3m-3 1h3m-3 5h3m-3 27h3m-2-60h3m-3 2h3m-3 18h3m-3 32h3m-2-52h3m-3 51h3m-2-58h3m-3 24h3m-1 8h3m-3 1h3m-2 16h3m-1-36h3m-3 25h3m-3 3h3m-2-4h3m-3 6h3m-2-11h3m-3 28h3m-2-43h3m-3 23h3m-2-33h3m-3 1h3m-2 3h3m-3 16h3m-2-11h3m-3 8h3m-3 3h3m1-8h3m-3 13h3m0-24h3m-2 20h3m-2-15h3m-2 0h3m-1 11h3m-2 4h3m3-15h3m0-24h3m-2 47h3m3 3h3m-1-22h3m-1-35h3m18 24h3m3 30h3m8 42h3m3-63h3" stroke="#555" stroke-width="3.0" fill="none"/>
<path d="M341 479V623.5M285.4 549H436" stroke="#111" stroke-width="1.2" fill="none"/>
<path d="M286.4 623.5v4.5M285.4 623.0h-4.5M297.6 623.5v2.5M285.4 612.2h-2.5M304.1 623.5v2.5M285.4 605.9h-2.5M308.7 623.5v2.5M285.4 601.4h-2.5M312.3 623.5v2.5M285.4 597.9h-2.5M315.3 623.5v2.5M285.4 595.1h-2.5M317.8 623.5v2.5M285.4 592.7h-2.5M319.9 623.5v2.5M285.4 590.6h-2.5M321.8 623.5v2.5M285.4 588.8h-2.5M323.5 623.5v4.5M285.4 587.1h-4.5M334.7 623.5v2.5M285.4 576.3h-2.5M341.2 623.5v2.5M285.4 570.0h-2.5M345.8 623.5v2.5M285.4 565.5h-2.5M349.4 623.5v2.5M285.4 562.0h-2.5M352.4 623.5v2.5M285.4 559.2h-2.5M354.9 623.5v2.5M285.4 556.8h-2.5M357.0 623.5v2.5M285.4 554.7h-2.5M358.9 623.5v2.5M285.4 552.9h-2.5M360.6 623.5v4.5M285.4 551.2h-4.5M371.8 623.5v2.5M285.4 540.5h-2.5M378.3 623.5v2.5M285.4 534.1h-2.5M382.9 623.5v2.5M285.4 529.7h-2.5M386.5 623.5v2.5M285.4 526.2h-2.5M389.5 623.5v2.5M285.4 523.3h-2.5M392.0 623.5v2.5M285.4 520.9h-2.5M394.1 623.5v2.5M285.4 518.9h-2.5M396.0 623.5v2.5M285.4 517.0h-2.5M397.7 623.5v4.5M285.4 515.4h-4.5M408.9 623.5v2.5M285.4 504.6h-2.5M415.4 623.5v2.5M285.4 498.3h-2.5M420.0 623.5v2.5M285.4 493.8h-2.5M423.6 623.5v2.5M285.4 490.3h-2.5M426.6 623.5v2.5M285.4 487.5h-2.5M429.1 623.5v2.5M285.4 485.1h-2.5M431.2 623.5v2.5M285.4 483.0h-2.5M433.1 623.5v2.5M285.4 481.1h-2.5M434.8 623.5v4.5M285.4 479.5h-4.5" stroke="#111" stroke-width="1.2" fill="none"/>
<rect x="285.4" y="479" width="150.6" height="144.5" fill="none" stroke="#111" stroke-width="1.3"/>
<text transform="translate(284.4 643.8) scale(0.72 1)" x="-7.23" y="0" font-size="13" font-family='"Liberation Sans", sans-serif' fill="#222" stroke="#222" stroke-width="0.25">10<tspan dy="-6.5" font-size="10.4">0</tspan></text>
<text transform="translate(275.1 625.5) rotate(-90)" x="-7.23" y="0" font-size="13" font-family='"Liberation Sans", sans-serif' fill="#222" stroke="#222" stroke-width="0.25">10<tspan dy="-7.2" font-size="9.8">0</tspan></text>
<text transform="translate(321.5 643.8) scale(0.72 1)" x="-7.23" y="0" font-size="13" font-family='"Liberation Sans", sans-serif' fill="#222" stroke="#222" stroke-width="0.25">10<tspan dy="-6.5" font-size="10.4">1</tspan></text>
<text transform="translate(275.1 589.6) rotate(-90)" x="-7.23" y="0" font-size="13" font-family='"Liberation Sans", sans-serif' fill="#222" stroke="#222" stroke-width="0.25">10<tspan dy="-7.2" font-size="9.8">1</tspan></text>
<text transform="translate(358.6 643.8) scale(0.72 1)" x="-7.23" y="0" font-size="13" font-family='"Liberation Sans", sans-serif' fill="#222" stroke="#222" stroke-width="0.25">10<tspan dy="-6.5" font-size="10.4">2</tspan></text>
<text transform="translate(275.1 553.8) rotate(-90)" x="-7.23" y="0" font-size="13" font-family='"Liberation Sans", sans-serif' fill="#222" stroke="#222" stroke-width="0.25">10<tspan dy="-7.2" font-size="9.8">2</tspan></text>
<text transform="translate(395.7 643.8) scale(0.72 1)" x="-7.23" y="0" font-size="13" font-family='"Liberation Sans", sans-serif' fill="#222" stroke="#222" stroke-width="0.25">10<tspan dy="-6.5" font-size="10.4">3</tspan></text>
<text transform="translate(275.1 517.9) rotate(-90)" x="-7.23" y="0" font-size="13" font-family='"Liberation Sans", sans-serif' fill="#222" stroke="#222" stroke-width="0.25">10<tspan dy="-7.2" font-size="9.8">3</tspan></text>
<text transform="translate(432.8 643.8) scale(0.72 1)" x="-7.23" y="0" font-size="13" font-family='"Liberation Sans", sans-serif' fill="#222" stroke="#222" stroke-width="0.25">10<tspan dy="-6.5" font-size="10.4">4</tspan></text>
<text transform="translate(275.1 482.0) rotate(-90)" x="-7.23" y="0" font-size="13" font-family='"Liberation Sans", sans-serif' fill="#222" stroke="#222" stroke-width="0.25">10<tspan dy="-7.2" font-size="9.8">4</tspan></text>
<text x="410.5" y="498.5" font-size="17" text-anchor="start" font-family='"Liberation Sans", sans-serif' fill="#111">54</text>
<path transform="scale(.5)" d="M0 0m172 1560h3m-3 18h3m-3 8h3m-3 9h3m-3 2h3m-3 3h3m-3 3h3m-3 2h3m-3 3h3m-3 4h3m-3 2h3m-3 1h3m-3 1h3m-3 1h3m-3 3h3m-3 3h3m-3 5h3m-3 6h3m-2-93h3m-3 12h3m-3 13h3m-3 8h3m-3 36h3m-3 2h3m-3 14h3m-2-31h3m-3 5h3m-3 2h3m-2-27h3m-3 20h3m-3 15h3m-3 2h3m-3 7h3m-2-20h3m-3 7h3m-3 27h3m-2-49h3m-3 5h3m-3 1h3m-3 5h3m-3 14h3m-3 21h3m-2-69h3m-3 15h3m-3 1h3m-3 18h3m-3 6h3m-3 7h3m-3 4h3m-3 8h3m-3 3h3m-3 1h3m-3 6h3m-2-31h3m-2-8h3m-3 7h3m-3 8h3m-3 6h3m-2-57h3m-3 15h3m-3 11h3m-3 4h3m-3 5h3m-3 22h3m-3 10h3m-3 4h3m-2-45h3m-3 7h3m-3 4h3m-2-32h3m-3 14h3m-3 10h3m-3 11h3m-3 2h3m-3 31h3m-2-50h3m-3 5h3m-3 10h3m-3 15h3m-3 8h3m-3 13h3m-2-54h3m-3 15h3m-3 12h3m-2-31h3m-3 8h3m-3 9h3m-3 1h3m-3 5h3m-3 4h3m-3 18h3m-3 16h3m-2-66h3m-3 22h3m-3 5h3m-3 12h3m-3 1h3m-3 1h3m-3 21h3m-2-69h3m-3 9h3m-3 1h3m-3 3h3m-3 11h3m-3 15h3m-3 5h3m-3 16h3m-3 20h3m-2-44h3m-3 14h3m-3 1h3m-3 2h3m-3 2h3m-3 19h3m-3 2h3m-2-52h3m-3 4h3m-3 6h3m-3 13h3m-3 7h3m-3 2h3m-3 11h3m-2-61h3m-3 11h3m-3 3h3m-3 3h3m-3 16h3m-3 16h3m-3 3h3m-3 6h3m-3 6h3m-2-64h3m-3 5h3m-3 17h3m-3 5h3m-3 2h3m-3 3h3m-3 11h3m-3 7h3m-3 1h3m-3 3h3m-3 2h3m-3 1h3m-2-66h3m-3 15h3m-3 11h3m-3 1h3m-3 8h3m-3 5h3m-3 5h3m-3 3h3m-3 8h3m-2-35h3m-3 1h3m-3 15h3m-3 8h3m-3 2h3m-3 10h3m-3 11h3m-3 2h3m-2-38h3m-3 10h3m-3 4h3m-3 4h3m-3 1h3m-3 1h3m-2-26h3m-3 2h3m-3 15h3m-3 11h3m-3 1h3m-3 5h3m-3 8h3m-3 7h3m-2-49h3m-3 13h3m-3 10h3m-3 7h3m-3 18h3m-2-55h3m-3 11h3m-3 6h3m-3 13h3m-3 3h3m-3 15h3m-3 2h3m-2-26h3m-3 6h3m-3 5h3m-2-76h3m-3 22h3m-3 22h3m-3 5h3m-3 7h3m-3 1h3m-3 4h3m-3 8h3m-3 6h3m-3 2h3m-3 13h3m-3 6h3m-2-79h3m-3 15h3m-3 16h3m-3 3h3m-3 1h3m-3 1h3m-3 1h3m-3 3h3m-3 1h3m-3 1h3m-3 4h3m-3 7h3m-3 7h3m-3 6h3m-3 3h3m-3 6h3m-2-67h3m-3 4h3m-3 13h3m-3 1h3m-3 9h3m-3 4h3m-3 6h3m-3 2h3m-3 6h3m-3 5h3m-3 7h3m-3 1h3m-3 1h3m-3 6h3m-3 11h3m-2-50h3m-3 2h3m-3 5h3m-3 3h3m-3 2h3m-3 4h3m-3 2h3m-3 4h3m-3 1h3m-3 5h3m-2-61h3m-3 1h3m-3 4h3m-3 20h3m-3 8h3m-3 7h3m-3 3h3m-3 3h3m-3 1h3m-3 4h3m-3 17h3m-3 8h3m-3 1h3m-2-64h3m-3 6h3m-3 3h3m-3 6h3m-3 16h3m-3 3h3m-3 3h3m-3 1h3m-3 2h3m-3 1h3m-3 21h3m-2-49h3m-3 13h3m-3 1h3m-3 9h3m-3 2h3m-3 4h3m-3 3h3m-3 3h3m-3 2h3m-3 12h3m-3 3h3m-2-90h3m-3 19h3m-3 22h3m-3 1h3m-3 3h3m-3 3h3m-3 3h3m-3 11h3m-3 2h3m-3 1h3m-3 4h3m-3 1h3m-3 8h3m-3 4h3m-3 1h3m-3 1h3m-3 10h3m-2-74h3m-3 6h3m-3 1h3m-3 6h3m-3 1h3m-3 2h3m-3 1h3m-3 2h3m-3 3h3m-3 7h3m-3 1h3m-3 2h3m-3 2h3m-3 4h3m-3 4h3m-3 1h3m-3 5h3m-3 7h3m-3 11h3m-2-89h3m-3 22h3m-3 8h3m-3 4h3m-3 12h3m-3 4h3m-3 5h3m-3 6h3m-3 1h3m-3 3h3m-3 3h3m-3 2h3m-3 2h3m-3 5h3m-3 6h3m-3 1h3m-3 6h3m-2-57h3m-3 16h3m-3 12h3m-3 1h3m-3 3h3m-3 2h3m-3 4h3m-3 7h3m-3 4h3m-3 6h3m-3 5h3m-2-75h3m-3 23h3m-3 3h3m-3 1h3m-3 2h3m-3 3h3m-3 5h3m-3 7h3m-3 9h3m-3 14h3m-2-58h3m-3 3h3m-3 2h3m-3 6h3m-3 9h3m-3 4h3m-3 6h3m-3 5h3m-3 2h3m-3 1h3m-3 9h3m-2-36h3m-3 11h3m-3 3h3m-3 2h3m-3 3h3m-3 2h3m-3 4h3m-3 6h3m-2-78h3m-3 36h3m-3 7h3m-3 5h3m-3 16h3m-3 2h3m-3 1h3m-3 1h3m-3 1h3m-3 7h3m-3 1h3m-3 7h3m-3 3h3m-3 4h3m-3 6h3m-3 5h3m-2-64h3m-3 4h3m-3 2h3m-3 6h3m-3 3h3m-3 6h3m-3 3h3m-3 3h3m-3 9h3m-3 1h3m-3 2h3m-3 2h3m-3 2h3m-3 3h3m-3 3h3m-3 3h3m-3 5h3m-3 5h3m-2-70h3m-3 21h3m-3 2h3m-3 3h3m-3 3h3m-3 3h3m-3 2h3m-3 7h3m-3 3h3m-3 1h3m-3 6h3m-3 25h3m-2-67h3m-3 3h3m-3 2h3m-3 1h3m-3 2h3m-3 10h3m-3 1h3m-3 2h3m-3 6h3m-3 3h3m-3 3h3m-3 8h3m-3 3h3m-3 2h3m-3 6h3m-3 11h3m-3 5h3m-2-80h3m-3 4h3m-3 1h3m-3 13h3m-3 9h3m-3 1h3m-3 3h3m-3 1h3m-3 1h3m-3 1h3m-3 5h3m-3 5h3m-3 11h3m-3 7h3m-3 4h3m-2-66h3m-3 13h3m-3 1h3m-3 9h3m-3 2h3m-3 2h3m-3 1h3m-3 1h3m-3 1h3m-3 1h3m-3 1h3m-3 2h3m-3 3h3m-3 1h3m-3 3h3m-3 3h3m-3 2h3m-3 5h3m-3 4h3m-3 1h3m-3 3h3m-3 3h3m-3 3h3m-3 1h3m-3 5h3m-2-72h3m-3 8h3m-3 4h3m-3 11h3m-3 8h3m-3 3h3m-3 1h3m-3 15h3m-3 2h3m-3 1h3m-3 8h3m-3 2h3m-3 6h3m-2-61h3m-3 2h3m-3 7h3m-3 12h3m-3 3h3m-3 4h3m-3 2h3m-3 6h3m-3 1h3m-3 2h3m-3 6h3m-3 2h3m-3 1h3m-3 11h3m-3 2h3m-2-74h3m-3 13h3m-3 7h3m-3 16h3m-3 8h3m-3 1h3m-3 1h3m-3 4h3m-3 2h3m-3 1h3m-3 2h3m-3 4h3m-3 3h3m-3 7h3m-3 10h3m-3 1h3m-2-59h3m-3 5h3m-3 1h3m-3 9h3m-3 1h3m-3 1h3m-3 3h3m-3 1h3m-3 1h3m-3 3h3m-3 2h3m-3 2h3m-3 2h3m-3 3h3m-3 1h3m-3 1h3m-3 3h3m-3 2h3m-3 2h3m-3 5h3m-3 1h3m-3 4h3m-3 2h3m-2-69h3m-3 4h3m-3 9h3m-3 10h3m-3 3h3m-3 5h3m-3 11h3m-3 1h3m-3 3h3m-3 1h3m-3 3h3m-3 4h3m-3 6h3m-3 8h3m-3 3h3m-2-77h3m-3 12h3m-3 9h3m-3 2h3m-3 7h3m-3 1h3m-3 10h3m-3 4h3m-3 1h3m-3 2h3m-3 7h3m-3 4h3m-3 5h3m-3 1h3m-3 4h3m-3 2h3m-3 3h3m-3 6h3m-3 4h3m-2-93h3m-3 25h3m-3 13h3m-3 6h3m-3 3h3m-3 2h3m-3 1h3m-3 2h3m-3 3h3m-3 1h3m-3 5h3m-3 7h3m-3 1h3m-3 1h3m-3 2h3m-3 1h3m-3 1h3m-3 2h3m-3 2h3m-3 2h3m-3 4h3m-3 5h3m-3 2h3m-3 3h3m-2-77h3m-3 10h3m-3 2h3m-3 1h3m-3 1h3m-3 7h3m-3 1h3m-3 2h3m-3 1h3m-3 9h3m-3 3h3m-3 1h3m-3 3h3m-3 2h3m-3 8h3m-3 1h3m-3 2h3m-3 2h3m-3 15h3m-3 6h3m-2-75h3m-3 9h3m-3 2h3m-3 10h3m-3 3h3m-3 5h3m-3 2h3m-3 3h3m-3 5h3m-3 2h3m-3 1h3m-3 3h3m-3 3h3m-3 4h3m-3 1h3m-3 5h3m-3 4h3m-3 1h3m-2-53h3m-3 1h3m-3 10h3m-3 1h3m-3 5h3m-3 2h3m-3 2h3m-3 2h3m-3 5h3m-3 3h3m-3 2h3m-3 3h3m-3 7h3m-3 2h3m-3 6h3m-3 1h3m-3 9h3m-2-101h3m-3 33h3m-3 3h3m-3 9h3m-3 2h3m-3 1h3m-3 2h3m-3 1h3m-3 7h3m-3 2h3m-3 1h3m-3 1h3m-3 1h3m-3 1h3m-3 1h3m-3 1h3m-3 2h3m-3 1h3m-3 9h3m-3 2h3m-3 7h3m-3 1h3m-3 3h3m-3 1h3m-2-68h3m-3 3h3m-3 7h3m-3 4h3m-3 8h3m-3 6h3m-3 2h3m-3 1h3m-3 2h3m-3 4h3m-3 4h3m-3 1h3m-3 1h3m-3 4h3m-3 1h3m-3 1h3m-3 2h3m-3 1h3m-3 10h3m-3 1h3m-3 2h3m-3 13h3m-3 3h3m-2-85h3m-3 21h3m-3 7h3m-3 3h3m-3 1h3m-3 2h3m-3 1h3m-3 1h3m-3 1h3m-3 1h3m-3 1h3m-3 7h3m-3 3h3m-3 4h3m-3 1h3m-3 1h3m-3 8h3m-3 7h3m-3 1h3m-3 7h3m-3 6h3m-2-74h3m-3 2h3m-3 1h3m-3 11h3m-3 4h3m-3 6h3m-3 2h3m-3 3h3m-3 1h3m-3 1h3m-3 1h3m-3 1h3m-3 1h3m-3 1h3m-3 6h3m-3 1h3m-3 7h3m-3 3h3m-3 1h3m-3 3h3m-3 2h3m-3 10h3m-2-63h3m-3 3h3m-3 2h3m-3 1h3m-3 4h3m-3 1h3m-3 8h3m-3 3h3m-3 1h3m-3 2h3m-3 3h3m-3 1h3m-3 1h3m-3 1h3m-3 1h3m-3 2h3m-3 1h3m-3 1h3m-3 1h3m-3 6h3m-3 1h3m-3 3h3m-3 1h3m-3 2h3m-3 10h3m-3 9h3m-2-77h3m-3 2h3m-3 25h3m-3 2h3m-3 2h3m-3 1h3m-3 3h3m-3 1h3m-3 1h3m-3 1h3m-3 1h3m-3 1h3m-3 5h3m-3 3h3m-3 1h3m-3 4h3m-3 1h3m-3 2h3m-3 1h3m-3 6h3m-3 6h3m-3 2h3m-3 6h3m-3 7h3m-2-90h3m-3 12h3m-3 4h3m-3 4h3m-3 3h3m-3 5h3m-3 8h3m-3 2h3m-3 1h3m-3 1h3m-3 3h3m-3 1h3m-3 2h3m-3 1h3m-3 4h3m-3 1h3m-3 5h3m-3 1h3m-3 8h3m-3 3h3m-3 4h3m-3 2h3m-3 6h3m-3 1h3m-3 2h3m-2-89h3m-3 11h3m-3 8h3m-3 12h3m-3 9h3m-3 1h3m-3 3h3m-3 4h3m-3 4h3m-3 4h3m-3 1h3m-3 1h3m-3 1h3m-3 4h3m-3 4h3m-3 2h3m-3 2h3m-3 4h3m-3 6h3m-3 8h3m-2-90h3m-3 28h3m-3 3h3m-3 11h3m-3 2h3m-3 10h3m-3 1h3m-3 3h3m-3 3h3m-3 3h3m-3 2h3m-3 3h3m-3 7h3m-3 5h3m-3 2h3m-3 3h3m-3 2h3m-2-89h3m-3 9h3m-3 15h3m-3 7h3m-3 2h3m-3 1h3m-3 3h3m-3 3h3m-3 3h3m-3 2h3m-3 1h3m-3 4h3m-3 2h3m-3 2h3m-3 1h3m-3 1h3m-3 2h3m-3 3h3m-3 4h3m-3 1h3m-3 3h3m-3 7h3m-3 12h3m-2-65h3m-3 3h3m-3 1h3m-3 5h3m-3 6h3m-3 1h3m-3 1h3m-3 4h3m-3 1h3m-3 2h3m-3 1h3m-3 4h3m-3 3h3m-3 6h3m-3 2h3m-3 2h3m-3 2h3m-3 2h3m-3 1h3m-3 2h3m-3 6h3m-3 4h3m-2-63h3m-3 1h3m-3 9h3m-3 2h3m-3 1h3m-3 4h3m-3 2h3m-3 2h3m-3 9h3m-3 2h3m-3 7h3m-3 2h3m-3 1h3m-3 4h3m-3 2h3m-3 2h3m-3 1h3m-3 2h3m-3 1h3m-3 2h3m-2-69h3m-3 9h3m-3 1h3m-3 9h3m-3 18h3m-3 2h3m-3 1h3m-3 1h3m-3 8h3m-3 5h3m-3 7h3m-3 2h3m-3 2h3m-3 6h3m-3 3h3m-2-70h3m-3 5h3m-3 8h3m-3 3h3m-3 6h3m-3 6h3m-3 1h3m-3 2h3m-3 1h3m-3 7h3m-3 1h3m-3 9h3m-3 1h3m-3 1h3m-3 1h3m-3 13h3m-3 1h3m-3 5h3m-3 4h3m-3 4h3m-2-76h3m-3 6h3m-3 10h3m-3 6h3m-3 3h3m-3 2h3m-3 5h3m-3 2h3m-3 1h3m-3 5h3m-3 1h3m-3 4h3m-3 5h3m-3 2h3m-3 2h3m-3 2h3m-3 3h3m-3 2h3m-3 2h3m-3 1h3m-3 4h3m-3 7h3m-2-72h3m-3 5h3m-3 13h3m-3 6h3m-3 2h3m-3 1h3m-3 2h3m-3 2h3m-3 1h3m-3 2h3m-3 5h3m-3 1h3m-3 2h3m-3 2h3m-3 5h3m-3 1h3m-3 3h3m-3 3h3m-3 6h3m-3 5h3m-3 7h3m-2-80h3m-3 4h3m-3 17h3m-3 4h3m-3 4h3m-3 2h3m-3 3h3m-3 1h3m-3 5h3m-3 1h3m-3 1h3m-3 1h3m-3 2h3m-3 2h3m-3 1h3m-3 3h3m-3 1h3m-3 3h3m-3 1h3m-3 1h3m-3 3h3m-3 2h3m-3 3h3m-3 1h3m-3 4h3m-3 2h3m-3 5h3m-2-73h3m-3 12h3m-3 16h3m-3 12h3m-3 1h3m-3 3h3m-3 3h3m-3 1h3m-3 2h3m-3 1h3m-3 5h3m-3 1h3m-3 2h3m-2-57h3m-3 1h3m-3 10h3m-3 5h3m-3 2h3m-3 1h3m-3 3h3m-3 1h3m-3 2h3m-3 8h3m-3 2h3m-3 1h3m-3 9h3m-3 1h3m-3 1h3m-3 5h3m-3 5h3m-3 1h3m-3 2h3m-3 1h3m-2-56h3m-3 6h3m-3 1h3m-3 4h3m-3 1h3m-3 2h3m-3 1h3m-3 4h3m-3 4h3m-3 2h3m-3 1h3m-3 1h3m-3 3h3m-3 2h3m-3 3h3m-3 1h3m-3 13h3m-3 4h3m-3 2h3m-3 2h3m-3 2h3m-2-96h3m-3 29h3m-3 4h3m-3 9h3m-3 1h3m-3 10h3m-3 4h3m-3 1h3m-3 1h3m-3 3h3m-3 1h3m-3 2h3m-3 4h3m-3 2h3m-3 4h3m-3 4h3m-3 1h3m-3 2h3m-3 3h3m-3 2h3m-3 10h3m-3 8h3m-2-62h3m-3 4h3m-3 6h3m-3 4h3m-3 1h3m-3 2h3m-3 5h3m-3 1h3m-3 1h3m-3 2h3m-3 3h3m-3 13h3m-3 1h3m-3 2h3m-3 2h3m-3 3h3m-3 1h3m-2-68h3m-3 15h3m-3 3h3m-3 5h3m-3 1h3m-3 6h3m-3 1h3m-3 5h3m-3 1h3m-3 1h3m-3 1h3m-3 4h3m-3 2h3m-3 2h3m-3 1h3m-3 1h3m-3 1h3m-3 4h3m-3 4h3m-3 6h3m-2-71h3m-3 15h3m-3 9h3m-3 1h3m-3 1h3m-3 2h3m-3 2h3m-3 2h3m-3 8h3m-3 3h3m-3 2h3m-3 1h3m-3 3h3m-3 3h3m-3 2h3m-3 1h3m-3 2h3m-3 4h3m-3 3h3m-3 3h3m-3 2h3m-3 8h3m-3 9h3m-3 1h3m-2-91h3m-3 24h3m-3 1h3m-3 11h3m-3 2h3m-3 3h3m-3 11h3m-3 6h3m-3 2h3m-3 4h3m-3 3h3m-3 2h3m-3 6h3m-3 1h3m-3 1h3m-3 1h3m-3 2h3m-3 7h3m-3 4h3m-2-71h3m-3 12h3m-3 8h3m-3 1h3m-3 7h3m-3 5h3m-3 1h3m-3 2h3m-3 12h3m-3 9h3m-3 7h3m-2-66h3m-3 13h3m-3 2h3m-3 8h3m-3 6h3m-3 1h3m-3 12h3m-3 10h3m-3 1h3m-3 7h3m-2-55h3m-3 4h3m-3 4h3m-3 7h3m-3 4h3m-3 3h3m-3 4h3m-3 1h3m-3 1h3m-3 1h3m-3 3h3m-3 1h3m-3 1h3m-3 6h3m-3 1h3m-3 14h3m-2-57h3m-3 7h3m-3 3h3m-3 1h3m-3 2h3m-3 2h3m-3 1h3m-3 3h3m-3 14h3m-3 2h3m-3 2h3m-3 2h3m-3 1h3m-3 2h3m-3 6h3m-3 2h3m-3 5h3m-3 5h3m-2-67h3m-3 4h3m-3 3h3m-3 3h3m-3 3h3m-3 2h3m-3 4h3m-3 3h3m-3 3h3m-3 1h3m-3 1h3m-3 4h3m-3 4h3m-3 4h3m-3 7h3m-3 1h3m-3 1h3m-3 1h3m-3 2h3m-3 2h3m-3 25h3m-2-77h3m-3 4h3m-3 10h3m-3 5h3m-3 1h3m-3 5h3m-3 5h3m-3 3h3m-3 5h3m-3 1h3m-3 5h3m-3 14h3m-2-50h3m-3 7h3m-3 7h3m-3 1h3m-3 2h3m-3 2h3m-3 7h3m-3 5h3m-3 5h3m-3 3h3m-3 3h3m-3 3h3m-3 5h3m-3 9h3m-2-65h3m-3 11h3m-3 4h3m-3 5h3m-3 1h3m-3 2h3m-3 5h3m-3 3h3m-3 1h3m-3 3h3m-3 2h3m-3 1h3m-3 8h3m-3 1h3m-3 10h3m-3 1h3m-3 2h3m-3 12h3m-3 2h3m-2-78h3m-3 26h3m-3 7h3m-3 2h3m-3 3h3m-3 14h3m-3 2h3m-3 3h3m-3 3h3m-3 13h3m-2-66h3m-3 12h3m-3 3h3m-3 6h3m-3 5h3m-3 9h3m-3 7h3m-3 6h3m-3 2h3m-3 8h3m-3 4h3m-3 8h3m-2-70h3m-3 10h3m-3 4h3m-3 3h3m-3 5h3m-3 1h3m-3 2h3m-3 7h3m-3 3h3m-3 1h3m-3 5h3m-3 1h3m-3 7h3m-3 2h3m-3 4h3m-3 5h3m-3 1h3m-3 3h3m-3 3h3m-2-68h3m-3 5h3m-3 6h3m-3 1h3m-3 2h3m-3 1h3m-3 8h3m-3 2h3m-3 3h3m-3 9h3m-3 3h3m-3 11h3m-3 2h3m-3 3h3m-3 11h3m-3 2h3m-2-68h3m-3 9h3m-3 3h3m-3 8h3m-3 1h3m-3 7h3m-3 4h3m-3 1h3m-3 3h3m-3 3h3m-3 5h3m-3 1h3m-3 3h3m-3 17h3m-3 6h3m-2-80h3m-3 13h3m-3 2h3m-3 1h3m-3 17h3m-3 2h3m-3 2h3m-3 3h3m-3 3h3m-3 2h3m-3 3h3m-3 3h3m-3 1h3m-3 1h3m-3 4h3m-3 9h3m-3 10h3m-2-78h3m-3 16h3m-3 3h3m-3 2h3m-3 2h3m-3 10h3m-3 11h3m-3 1h3m-3 1h3m-3 2h3m-3 5h3m-3 6h3m-3 15h3m-2-71h3m-3 6h3m-3 1h3m-3 4h3m-3 1h3m-3 1h3m-3 6h3m-3 3h3m-3 8h3m-3 3h3m-3 3h3m-3 2h3m-3 4h3m-3 3h3m-3 1h3m-3 1h3m-3 3h3m-3 14h3m-3 8h3m-3 3h3m-2-80h3m-3 23h3m-3 2h3m-3 3h3m-3 1h3m-3 6h3m-3 1h3m-3 4h3m-3 12h3m-3 5h3m-3 1h3m-3 2h3m-3 1h3m-3 1h3m-3 8h3m-2-69h3m-3 14h3m-3 4h3m-3 2h3m-3 1h3m-3 4h3m-3 4h3m-3 2h3m-3 6h3m-3 3h3m-3 2h3m-3 5h3m-3 1h3m-3 2h3m-3 15h3m-3 1h3m-3 1h3m-2-59h3m-3 5h3m-3 6h3m-3 2h3m-3 1h3m-3 2h3m-3 8h3m-3 1h3m-3 1h3m-3 5h3m-3 1h3m-3 1h3m-3 1h3m-3 4h3m-3 8h3m-3 4h3m-3 2h3m-3 9h3m-3 3h3m-2-75h3m-3 15h3m-3 3h3m-3 1h3m-3 7h3m-3 11h3m-3 2h3m-3 1h3m-3 2h3m-3 2h3m-3 7h3m-3 3h3m-3 20h3m-3 2h3m-2-59h3m-3 3h3m-3 1h3m-3 6h3m-3 2h3m-3 4h3m-3 8h3m-3 1h3m-3 3h3m-3 1h3m-3 1h3m-3 8h3m-3 3h3m-2-53h3m-3 11h3m-3 2h3m-3 5h3m-3 1h3m-3 5h3m-3 2h3m-3 4h3m-3 1h3m-3 1h3m-3 1h3m-3 4h3m-3 2h3m-3 2h3m-3 1h3m-3 5h3m-3 1h3m-3 1h3m-3 3h3m-3 2h3m-3 1h3m-3 9h3m-2-62h3m-3 5h3m-3 4h3m-3 2h3m-3 6h3m-3 6h3m-3 10h3m-3 1h3m-3 2h3m-3 3h3m-3 2h3m-3 2h3m-3 17h3m-2-41h3m-3 1h3m-3 3h3m-3 4h3m-3 2h3m-3 1h3m-3 1h3m-3 1h3m-3 5h3m-3 1h3m-3 1h3m-3 4h3m-3 3h3m-3 2h3m-3 2h3m-3 1h3m-3 7h3m-3 1h3m-3 13h3m-2-81h3m-3 6h3m-3 3h3m-3 1h3m-3 14h3m-3 2h3m-3 1h3m-3 1h3m-3 7h3m-3 1h3m-3 1h3m-3 1h3m-3 1h3m-3 1h3m-3 2h3m-3 7h3m-3 6h3m-3 3h3m-3 8h3m-3 17h3m-2-66h3m-3 9h3m-3 1h3m-3 8h3m-3 3h3m-3 8h3m-3 1h3m-3 1h3m-3 1h3m-3 3h3m-3 8h3m-3 5h3m-3 2h3m-3 4h3m-2-72h3m-3 18h3m-3 1h3m-3 5h3m-3 9h3m-3 2h3m-3 7h3m-3 4h3m-3 6h3m-3 12h3m-3 18h3m-2-99h3m-3 12h3m-3 3h3m-3 24h3m-3 5h3m-3 2h3m-3 1h3m-3 2h3m-3 1h3m-3 19h3m-3 6h3m-3 2h3m-3 5h3m-3 4h3m-3 3h3m-2-74h3m-3 17h3m-3 6h3m-3 1h3m-3 3h3m-3 5h3m-3 2h3m-3 2h3m-3 3h3m-3 2h3m-3 2h3m-3 5h3m-3 2h3m-3 5h3m-3 2h3m-3 12h3m-2-67h3m-3 18h3m-3 1h3m-3 4h3m-3 6h3m-3 1h3m-3 4h3m-3 1h3m-3 5h3m-3 2h3m-3 3h3m-3 6h3m-3 1h3m-3 1h3m-3 1h3m-3 8h3m-3 1h3m-3 2h3m-2-54h3m-3 8h3m-3 1h3m-3 3h3m-3 4h3m-3 1h3m-3 2h3m-3 3h3m-3 6h3m-3 3h3m-3 3h3m-3 1h3m-3 4h3m-3 4h3m-3 2h3m-3 1h3m-3 5h3m-3 6h3m-3 7h3m-2-66h3m-3 1h3m-3 6h3m-3 3h3m-3 10h3m-3 2h3m-3 2h3m-3 7h3m-3 23h3m-3 1h3m-3 7h3m-3 1h3m-3 6h3m-3 11h3m-2-86h3m-3 13h3m-3 7h3m-3 2h3m-3 5h3m-3 1h3m-3 4h3m-3 2h3m-3 2h3m-3 1h3m-3 1h3m-3 5h3m-3 7h3m-3 2h3m-3 1h3m-3 12h3m-3 5h3m-3 3h3m-3 8h3m-2-92h3m-3 21h3m-3 2h3m-3 3h3m-3 8h3m-3 2h3m-3 4h3m-3 3h3m-3 1h3m-3 8h3m-3 4h3m-3 2h3m-3 1h3m-3 6h3m-3 1h3m-3 3h3m-3 3h3m-3 8h3m-2-81h3m-3 8h3m-3 16h3m-3 1h3m-3 4h3m-3 2h3m-3 6h3m-3 2h3m-3 5h3m-3 6h3m-3 2h3m-3 1h3m-3 8h3m-3 4h3m-3 3h3m-3 3h3m-3 11h3m-3 2h3m-3 6h3m-2-95h3m-3 3h3m-3 13h3m-3 13h3m-3 1h3m-3 7h3m-3 6h3m-3 4h3m-3 5h3m-3 3h3m-3 1h3m-3 2h3m-3 6h3m-3 1h3m-3 2h3m-3 1h3m-3 3h3m-3 6h3m-2-59h3m-3 17h3m-3 1h3m-3 2h3m-3 1h3m-3 1h3m-3 5h3m-3 1h3m-3 2h3m-3 1h3m-3 8h3m-3 3h3m-3 1h3m-3 6h3m-3 3h3m-3 7h3m-3 2h3m-3 5h3m-3 2h3m-2-66h3m-3 4h3m-3 7h3m-3 3h3m-3 3h3m-3 6h3m-3 1h3m-3 2h3m-3 1h3m-3 2h3m-3 8h3m-3 1h3m-3 5h3m-3 7h3m-3 1h3m-3 7h3m-2-47h3m-3 2h3m-3 2h3m-3 1h3m-3 2h3m-3 1h3m-3 3h3m-3 8h3m-3 1h3m-3 5h3m-3 5h3m-3 1h3m-3 3h3m-3 6h3m-3 8h3m-3 4h3m-2-53h3m-3 3h3m-3 3h3m-3 2h3m-3 3h3m-3 10h3m-3 2h3m-3 6h3m-3 1h3m-3 8h3m-3 1h3m-3 3h3m-3 10h3m-3 9h3m-2-80h3m-3 12h3m-3 7h3m-3 1h3m-3 5h3m-3 6h3m-3 3h3m-3 4h3m-3 4h3m-3 4h3m-3 3h3m-3 5h3m-3 8h3m-3 11h3m-3 3h3m-2-69h3m-3 4h3m-3 1h3m-3 11h3m-3 7h3m-3 1h3m-3 3h3m-3 1h3m-3 6h3m-3 2h3m-3 3h3m-3 5h3m-3 4h3m-3 2h3m-3 23h3m-2-86h3m-3 17h3m-3 3h3m-3 2h3m-3 1h3m-3 2h3m-3 1h3m-3 5h3m-3 1h3m-3 6h3m-3 6h3m-3 3h3m-3 3h3m-3 1h3m-3 1h3m-3 1h3m-3 1h3m-3 3h3m-3 1h3m-3 6h3m-3 4h3m-3 2h3m-3 8h3m-2-71h3m-3 2h3m-3 8h3m-3 12h3m-3 4h3m-3 1h3m-3 2h3m-3 3h3m-3 1h3m-3 7h3m-3 1h3m-3 5h3m-3 5h3m-3 1h3m-3 1h3m-3 1h3m-3 5h3m-3 2h3m-3 14h3m-2-76h3m-3 13h3m-3 2h3m-3 12h3m-3 1h3m-3 2h3m-3 9h3m-3 6h3m-3 1h3m-3 1h3m-3 3h3m-3 7h3m-3 2h3m-3 7h3m-2-56h3m-3 6h3m-3 5h3m-3 3h3m-3 1h3m-3 2h3m-3 1h3m-3 10h3m-3 5h3m-3 2h3m-3 6h3m-3 3h3m-3 3h3m-3 7h3m-3 2h3m-3 3h3m-3 2h3m-3 12h3m-2-73h3m-3 6h3m-3 4h3m-3 4h3m-3 4h3m-3 6h3m-3 2h3m-3 4h3m-3 1h3m-3 1h3m-3 1h3m-3 5h3m-3 2h3m-3 6h3m-3 2h3m-3 1h3m-3 1h3m-3 18h3m-2-70h3m-3 10h3m-3 5h3m-3 4h3m-3 1h3m-3 1h3m-3 6h3m-3 4h3m-3 1h3m-3 3h3m-3 7h3m-3 2h3m-3 7h3m-3 2h3m-3 6h3m-3 5h3m-3 2h3m-3 1h3m-2-80h3m-3 13h3m-3 7h3m-3 4h3m-3 6h3m-3 7h3m-3 6h3m-3 1h3m-3 1h3m-3 4h3m-3 5h3m-3 8h3m-3 22h3m-2-90h3m-3 18h3m-3 6h3m-3 2h3m-3 4h3m-3 4h3m-3 2h3m-3 6h3m-3 8h3m-3 1h3m-3 2h3m-3 1h3m-3 1h3m-3 2h3m-3 2h3m-3 3h3m-3 1h3m-3 2h3m-3 9h3m-3 21h3m-2-93h3m-3 22h3m-3 1h3m-3 15h3m-3 1h3m-3 3h3m-3 1h3m-3 4h3m-3 4h3m-3 1h3m-3 1h3m-3 1h3m-3 2h3m-3 1h3m-3 1h3m-3 4h3m-3 1h3m-3 9h3m-3 5h3m-2-60h3m-3 5h3m-3 8h3m-3 9h3m-3 1h3m-3 5h3m-3 1h3m-3 3h3m-3 1h3m-3 3h3m-3 1h3m-3 7h3m-3 2h3m-2-49h3m-3 7h3m-3 1h3m-3 1h3m-3 1h3m-3 1h3m-3 1h3m-3 4h3m-3 3h3m-3 5h3m-3 3h3m-3 7h3m-3 1h3m-3 4h3m-3 4h3m-3 1h3m-3 8h3m-3 1h3m-3 1h3m-3 1h3m-3 16h3m-2-77h3m-3 5h3m-3 15h3m-3 1h3m-3 1h3m-3 1h3m-3 6h3m-3 1h3m-3 4h3m-3 8h3m-3 1h3m-3 2h3m-3 3h3m-3 12h3m-3 3h3m-3 12h3m-2-71h3m-3 11h3m-3 4h3m-3 17h3m-3 6h3m-3 7h3m-3 1h3m-3 4h3m-3 1h3m-3 2h3m-3 5h3m-3 13h3m-3 4h3m-2-64h3m-3 3h3m-3 9h3m-3 4h3m-3 1h3m-3 8h3m-3 2h3m-3 1h3m-3 3h3m-3 4h3m-3 1h3m-3 4h3m-3 6h3m-3 3h3m-3 2h3m-3 19h3m-2-92h3m-3 19h3m-3 4h3m-3 8h3m-3 5h3m-3 2h3m-3 1h3m-3 11h3m-3 1h3m-3 3h3m-3 6h3m-3 1h3m-3 3h3m-3 3h3m-3 6h3m-3 1h3m-3 12h3m-2-108h3m-3 34h3m-3 5h3m-3 1h3m-3 1h3m-3 3h3m-3 1h3m-3 4h3m-3 1h3m-3 2h3m-3 10h3m-3 2h3m-3 4h3m-3 3h3m-3 2h3m-3 3h3m-3 1h3m-3 9h3m-3 26h3m-2-79h3m-3 13h3m-3 4h3m-3 3h3m-3 3h3m-3 3h3m-3 1h3m-3 7h3m-3 6h3m-3 5h3m-3 7h3m-3 1h3m-3 1h3m-3 8h3m-3 1h3m-3 6h3m-2-81h3m-3 11h3m-3 13h3m-3 6h3m-3 1h3m-3 3h3m-3 3h3m-3 1h3m-3 5h3m-3 1h3m-3 6h3m-3 5h3m-3 6h3m-3 2h3m-3 1h3m-3 1h3m-3 1h3m-3 2h3m-3 1h3m-2-76h3m-3 28h3m-3 11h3m-3 2h3m-3 8h3m-3 4h3m-3 3h3m-3 7h3m-3 5h3m-3 3h3m-3 2h3m-3 2h3m-3 2h3m-3 5h3m-3 5h3m-3 1h3m-3 5h3m-2-77h3m-3 22h3m-3 6h3m-3 7h3m-3 2h3m-3 1h3m-3 2h3m-3 1h3m-3 5h3m-3 6h3m-3 9h3m-3 3h3m-3 7h3m-2-76h3m-3 3h3m-3 7h3m-3 7h3m-3 5h3m-3 4h3m-3 7h3m-3 3h3m-3 6h3m-3 11h3m-3 1h3m-3 1h3m-3 2h3m-3 5h3m-2-44h3m-3 1h3m-3 8h3m-3 1h3m-3 3h3m-3 4h3m-3 2h3m-3 7h3m-3 3h3m-3 3h3m-3 3h3m-3 1h3m-3 1h3m-3 3h3m-3 9h3m-3 1h3m-3 6h3m-3 7h3m-2-77h3m-3 11h3m-3 5h3m-3 3h3m-3 3h3m-3 1h3m-3 4h3m-3 2h3m-3 1h3m-3 2h3m-3 2h3m-3 2h3m-3 2h3m-3 2h3m-3 3h3m-3 5h3m-3 1h3m-3 8h3m-3 1h3m-3 1h3m-3 3h3m-3 5h3m-2-58h3m-3 1h3m-3 4h3m-3 1h3m-3 7h3m-3 9h3m-3 5h3m-3 7h3m-3 1h3m-3 5h3m-3 2h3m-3 19h3m-3 5h3m-2-59h3m-3 1h3m-3 1h3m-3 2h3m-3 1h3m-3 4h3m-3 2h3m-3 5h3m-3 1h3m-3 4h3m-3 9h3m-3 4h3m-3 2h3m-3 9h3m-3 5h3m-3 3h3m-2-71h3m-3 24h3m-3 1h3m-3 4h3m-3 2h3m-3 3h3m-3 1h3m-3 1h3m-3 3h3m-3 2h3m-3 2h3m-3 1h3m-3 12h3m-3 12h3m-2-88h3m-3 26h3m-3 11h3m-3 4h3m-3 5h3m-3 1h3m-3 2h3m-3 1h3m-3 1h3m-3 1h3m-3 1h3m-3 7h3m-3 1h3m-3 6h3m-3 9h3m-3 2h3m-2-60h3m-3 7h3m-3 3h3m-3 15h3m-3 1h3m-3 3h3m-3 4h3m-3 2h3m-3 1h3m-3 1h3m-3 6h3m-3 2h3m-3 5h3m-3 2h3m-3 6h3m-3 1h3m-3 1h3m-3 2h3m-3 5h3m-3 7h3m-3 11h3m-3 2h3m-3 8h3m-2-81h3m-3 3h3m-3 6h3m-3 4h3m-3 5h3m-3 2h3m-3 6h3m-3 1h3m-3 1h3m-3 1h3m-3 1h3m-3 11h3m-3 6h3m-3 5h3m-3 7h3m-3 3h3m-2-71h3m-3 4h3m-3 17h3m-3 1h3m-3 1h3m-3 8h3m-3 2h3m-3 2h3m-3 6h3m-3 13h3m-3 3h3m-3 10h3m-3 1h3m-2-85h3m-3 21h3m-3 2h3m-3 2h3m-3 3h3m-3 1h3m-3 1h3m-3 9h3m-3 8h3m-3 3h3m-3 1h3m-3 5h3m-3 1h3m-3 3h3m-3 16h3m-3 1h3m-3 27h3m-3 1h3m-2-95h3m-3 1h3m-3 4h3m-3 11h3m-3 3h3m-3 5h3m-3 2h3m-3 3h3m-3 1h3m-3 1h3m-3 2h3m-3 3h3m-3 2h3m-3 1h3m-3 6h3m-3 3h3m-3 11h3m-3 3h3m-3 4h3m-3 19h3m-3 2h3m-2-67h3m-3 1h3m-3 7h3m-3 3h3m-3 2h3m-3 2h3m-3 6h3m-3 4h3m-3 4h3m-3 1h3m-3 3h3m-3 7h3m-3 1h3m-3 2h3m-3 9h3m-2-64h3m-3 3h3m-3 11h3m-3 4h3m-3 1h3m-3 9h3m-3 7h3m-3 1h3m-3 1h3m-3 3h3m-3 29h3m-2-67h3m-3 1h3m-3 6h3m-3 5h3m-3 6h3m-3 4h3m-3 1h3m-3 1h3m-3 1h3m-3 13h3m-3 6h3m-3 3h3m-3 11h3m-3 1h3m-3 8h3m-2-74h3m-3 15h3m-3 4h3m-3 5h3m-3 2h3m-3 6h3m-3 3h3m-3 3h3m-3 1h3m-3 3h3m-3 7h3m-3 2h3m-3 5h3m-3 25h3m-2-60h3m-3 4h3m-3 2h3m-3 4h3m-3 1h3m-3 4h3m-3 1h3m-3 5h3m-3 5h3m-3 3h3m-3 10h3m-3 3h3m-3 13h3m-2-85h3m-3 22h3m-3 10h3m-3 8h3m-3 7h3m-3 1h3m-3 4h3m-3 2h3m-3 1h3m-3 2h3m-3 2h3m-3 6h3m-3 10h3m-2-78h3m-3 8h3m-3 5h3m-3 3h3m-3 7h3m-3 8h3m-3 1h3m-3 5h3m-3 3h3m-3 1h3m-3 1h3m-3 5h3m-3 6h3m-3 8h3m-3 4h3m-3 3h3m-3 32h3m-2-89h3m-3 4h3m-3 16h3m-3 2h3m-3 4h3m-3 1h3m-3 6h3m-3 6h3m-3 6h3m-3 1h3m-3 2h3m-3 1h3m-3 1h3m-3 16h3m-3 17h3m-2-77h3m-3 7h3m-3 9h3m-3 2h3m-3 1h3m-3 4h3m-3 2h3m-3 4h3m-3 7h3m-3 1h3m-3 1h3m-3 1h3m-3 2h3m-3 5h3m-3 17h3m-3 13h3m-2-91h3m-3 34h3m-3 2h3m-3 2h3m-3 1h3m-3 1h3m-3 2h3m-3 3h3m-3 3h3m-3 5h3m-3 1h3m-3 6h3m-3 3h3m-3 6h3m-3 2h3m-2-82h3m-3 18h3m-3 2h3m-3 11h3m-3 1h3m-3 5h3m-3 3h3m-3 1h3m-3 4h3m-3 2h3m-3 1h3m-3 2h3m-3 3h3m-3 3h3m-3 3h3m-3 1h3m-3 4h3m-3 3h3m-3 2h3m-3 1h3m-3 3h3m-3 5h3m-3 11h3m-2-63h3m-3 6h3m-3 12h3m-3 14h3m-3 2h3m-3 8h3m-3 4h3m-3 23h3m-2-56h3m-3 4h3m-3 6h3m-3 1h3m-3 2h3m-3 1h3m-3 1h3m-3 6h3m-3 2h3m-3 2h3m-3 1h3m-3 1h3m-3 1h3m-3 7h3m-3 1h3m-3 19h3m-2-55h3m-3 4h3m-3 2h3m-3 1h3m-3 4h3m-3 10h3m-3 5h3m-3 2h3m-3 11h3m-3 13h3m-2-99h3m-3 42h3m-3 2h3m-3 1h3m-3 12h3m-3 2h3m-3 5h3m-3 5h3m-3 1h3m-3 2h3m-3 6h3m-3 2h3m-3 3h3m-3 3h3m-3 2h3m-3 1h3m-3 24h3m-2-96h3m-3 24h3m-3 15h3m-3 1h3m-3 1h3m-3 3h3m-3 3h3m-3 2h3m-3 2h3m-3 4h3m-3 18h3m-3 3h3m-2-55h3m-3 19h3m-3 7h3m-3 6h3m-3 1h3m-3 5h3m-3 15h3m-3 22h3m-2-72h3m-3 2h3m-3 9h3m-3 9h3m-3 17h3m-3 16h3m-2-73h3m-3 19h3m-3 4h3m-3 13h3m-3 3h3m-3 5h3m-3 1h3m-3 3h3m-3 1h3m-3 1h3m-3 7h3m-3 3h3m-3 13h3m-2-62h3m-3 1h3m-3 1h3m-3 9h3m-3 4h3m-3 3h3m-3 1h3m-3 9h3m-3 7h3m-3 6h3m-3 16h3m-2-65h3m-3 35h3m-3 3h3m-3 1h3m-3 17h3m-3 7h3m-3 9h3m-2-57h3m-3 19h3m-3 6h3m-3 7h3m-3 14h3m-3 5h3m-2-36h3m-3 6h3m-3 4h3m-3 8h3m-3 12h3m-2-44h3m-3 1h3m-3 4h3m-3 10h3m-3 5h3m-3 12h3m-3 4h3m-3 10h3m-2-63h3m-3 7h3m-3 4h3m-3 15h3m-3 21h3m-3 21h3m-2-42h3m-3 15h3m-3 19h3m-3 5h3m-2-58h3m-3 13h3m-3 6h3m-3 14h3m-3 5h3m-3 6h3m-3 8h3m-3 5h3m-3 12h3m-2-76h3m-3 24h3m-3 13h3m-3 2h3m-3 24h3m-3 11h3m-2-49h3m-3 15h3m-3 24h3m-2-51h3m-3 20h3m-3 4h3m-3 8h3m-3 3h3m-2-53h3m-3 6h3m-3 9h3m-3 1h3m-3 3h3m-3 6h3m-3 4h3m-3 23h3m-2-21h3m-3 7h3m-3 2h3m-3 1h3m-3 1h3m-3 11h3m-3 3h3m-3 4h3m-3 6h3m-3 3h3m-3 3h3m-2-51h3m-2 3h3m-3 6h3m-3 36h3m-3 8h3m-3 12h3m-2-51h3m-3 1h3m-3 53h3m-2-40h3m-3 5h3m-2-36h3m-3 5h3m-3 18h3m-3 2h3m-3 11h3m-3 5h3m-2-63h3m-3 27h3m-3 1h3m-2 2h3m-3 19h3m-3 13h3m-2-17h3m-3 13h3m-2-31h3m-3 21h3m-3 7h3m-3 1h3m-3 8h3m-3 9h3m-2-59h3m-3 12h3m-3 28h3m-3 3h3m-2-47h3m-3 20h3m-3 22h3m-3 6h3m-2-35h3m-3 1h3m-3 26h3m-3 20h3m-2 5h3m-2-31h3m-3 16h3m-3 31h3m-2-82h3m-3 21h3m-3 17h3m-3 17h3m-3 21h3m-2-64h3m-3 35h3m-2-14h3m-2-6h3m-3 1h3m-3 3h3m-3 6h3m-3 29h3m-3 8h3m-2-49h3m-3 4h3m-2 8h3m-2-18h3m-3 36h3m-2-30h3m-3 20h3m-2-32h3m-2-16h3m-3 22h3m-3 17h3m-3 7h3m-2-30h3m-3 41h3m-2-34h3m3 34h3m-2-28h3m-3 27h3m-2-59h3m-3 22h3m5 35h3m7-13h3m-1-12h3m0 16h3m-2 14h3" stroke="#555" stroke-width="3.0" fill="none"/>
<path d="M140.4 749.5V893.5M85 819.2H235" stroke="#111" stroke-width="1.2" fill="none"/>
<path d="M86.0 893.5v4.5M85 893.0h-4.5M97.1 893.5v2.5M85 882.2h-2.5M103.6 893.5v2.5M85 875.9h-2.5M108.2 893.5v2.5M85 871.5h-2.5M111.8 893.5v2.5M85 868.0h-2.5M114.8 893.5v2.5M85 865.2h-2.5M117.2 893.5v2.5M85 862.8h-2.5M119.4 893.5v2.5M85 860.7h-2.5M121.3 893.5v2.5M85 858.9h-2.5M123.0 893.5v4.5M85 857.2h-4.5M134.1 893.5v2.5M85 846.5h-2.5M140.6 893.5v2.5M85 840.2h-2.5M145.2 893.5v2.5M85 835.7h-2.5M148.8 893.5v2.5M85 832.3h-2.5M151.7 893.5v2.5M85 829.4h-2.5M154.2 893.5v2.5M85 827.0h-2.5M156.3 893.5v2.5M85 825.0h-2.5M158.2 893.5v2.5M85 823.1h-2.5M159.9 893.5v4.5M85 821.5h-4.5M171.0 893.5v2.5M85 810.7h-2.5M177.5 893.5v2.5M85 804.4h-2.5M182.1 893.5v2.5M85 800.0h-2.5M185.7 893.5v2.5M85 796.5h-2.5M188.7 893.5v2.5M85 793.7h-2.5M191.1 893.5v2.5M85 791.3h-2.5M193.3 893.5v2.5M85 789.2h-2.5M195.2 893.5v2.5M85 787.4h-2.5M196.9 893.5v4.5M85 785.8h-4.5M208.0 893.5v2.5M85 775.0h-2.5M214.5 893.5v2.5M85 768.7h-2.5M219.1 893.5v2.5M85 764.2h-2.5M222.7 893.5v2.5M85 760.8h-2.5M225.6 893.5v2.5M85 757.9h-2.5M228.1 893.5v2.5M85 755.5h-2.5M230.2 893.5v2.5M85 753.5h-2.5M232.1 893.5v2.5M85 751.6h-2.5M233.8 893.5v4.5M85 750.0h-4.5" stroke="#111" stroke-width="1.2" fill="none"/>
<rect x="85" y="749.5" width="150.0" height="144.0" fill="none" stroke="#111" stroke-width="1.3"/>
<text transform="translate(84.0 913.8) scale(0.72 1)" x="-7.23" y="0" font-size="13" font-family='"Liberation Sans", sans-serif' fill="#222" stroke="#222" stroke-width="0.25">10<tspan dy="-6.5" font-size="10.4">0</tspan></text>
<text transform="translate(74.7 895.5) rotate(-90)" x="-7.23" y="0" font-size="13" font-family='"Liberation Sans", sans-serif' fill="#222" stroke="#222" stroke-width="0.25">10<tspan dy="-7.2" font-size="9.8">0</tspan></text>
<text transform="translate(121.0 913.8) scale(0.72 1)" x="-7.23" y="0" font-size="13" font-family='"Liberation Sans", sans-serif' fill="#222" stroke="#222" stroke-width="0.25">10<tspan dy="-6.5" font-size="10.4">1</tspan></text>
<text transform="translate(74.7 859.8) rotate(-90)" x="-7.23" y="0" font-size="13" font-family='"Liberation Sans", sans-serif' fill="#222" stroke="#222" stroke-width="0.25">10<tspan dy="-7.2" font-size="9.8">1</tspan></text>
<text transform="translate(157.9 913.8) scale(0.72 1)" x="-7.23" y="0" font-size="13" font-family='"Liberation Sans", sans-serif' fill="#222" stroke="#222" stroke-width="0.25">10<tspan dy="-6.5" font-size="10.4">2</tspan></text>
<text transform="translate(74.7 824.0) rotate(-90)" x="-7.23" y="0" font-size="13" font-family='"Liberation Sans", sans-serif' fill="#222" stroke="#222" stroke-width="0.25">10<tspan dy="-7.2" font-size="9.8">2</tspan></text>
<text transform="translate(194.9 913.8) scale(0.72 1)" x="-7.23" y="0" font-size="13" font-family='"Liberation Sans", sans-serif' fill="#222" stroke="#222" stroke-width="0.25">10<tspan dy="-6.5" font-size="10.4">3</tspan></text>
<text transform="translate(74.7 788.2) rotate(-90)" x="-7.23" y="0" font-size="13" font-family='"Liberation Sans", sans-serif' fill="#222" stroke="#222" stroke-width="0.25">10<tspan dy="-7.2" font-size="9.8">3</tspan></text>
<text transform="translate(231.8 913.8) scale(0.72 1)" x="-7.23" y="0" font-size="13" font-family='"Liberation Sans", sans-serif' fill="#222" stroke="#222" stroke-width="0.25">10<tspan dy="-6.5" font-size="10.4">4</tspan></text>
<text transform="translate(74.7 752.5) rotate(-90)" x="-7.23" y="0" font-size="13" font-family='"Liberation Sans", sans-serif' fill="#222" stroke="#222" stroke-width="0.25">10<tspan dy="-7.2" font-size="9.8">4</tspan></text>
<text x="205" y="769.2" font-size="17" text-anchor="start" font-family='"Liberation Sans", sans-serif' fill="#111">54</text>
<path transform="scale(.5)" d="M0 0m579 1568h3m-3 2h3m-3 2h3m-3 9h3m-3 9h3m-3 2h3m-3 3h3m-3 3h3m-3 3h3m-3 7h3m-3 20h3m-2-38h3m-3 8h3m-3 7h3m-3 3h3m-2-47h3m-3 8h3m-3 21h3m-3 6h3m-3 14h3m-3 8h3m-2-63h3m-3 10h3m-2 30h3m-3 11h3m-2-15h3m-3 1h3m-2-38h3m-3 31h3m-3 8h3m-3 1h3m-3 10h3m-2-30h3m-3 13h3m-3 17h3m-3 21h3m-2-64h3m-3 4h3m-3 14h3m-3 4h3m-3 1h3m-3 7h3m-3 1h3m-3 9h3m-3 7h3m-2-38h3m-3 4h3m-3 3h3m-3 9h3m-3 18h3m-3 3h3m-2-11h3m-2-23h3m-3 13h3m-3 18h3m-3 6h3m-3 4h3m-2-29h3m-3 10h3m-3 26h3m-2-45h3m-3 11h3m-3 8h3m-3 2h3m-3 48h3m-2-74h3m-3 1h3m-3 1h3m-3 3h3m-3 12h3m-3 4h3m-3 3h3m-3 2h3m-3 9h3m-3 1h3m-3 2h3m-3 11h3m-2-48h3m-3 8h3m-3 5h3m-3 5h3m-3 2h3m-3 18h3m-3 2h3m-2-44h3m-3 4h3m-3 8h3m-3 13h3m-3 2h3m-3 6h3m-3 24h3m-3 6h3m-2-56h3m-3 11h3m-3 9h3m-3 1h3m-3 2h3m-2-48h3m-3 2h3m-3 14h3m-3 6h3m-3 20h3m-3 14h3m-2-10h3m-3 4h3m-2-24h3m-3 12h3m-3 15h3m-3 3h3m-3 1h3m-3 10h3m-3 5h3m-2-47h3m-3 5h3m-3 7h3m-3 2h3m-3 2h3m-3 7h3m-3 5h3m-3 6h3m-3 1h3m-3 19h3m-2-78h3m-3 23h3m-3 3h3m-3 11h3m-3 6h3m-3 10h3m-3 2h3m-3 6h3m-3 4h3m-2-75h3m-3 36h3m-3 8h3m-3 2h3m-3 2h3m-3 5h3m-3 4h3m-3 2h3m-3 11h3m-3 12h3m-3 3h3m-2-53h3m-3 9h3m-3 12h3m-3 4h3m-3 13h3m-3 17h3m-2-79h3m-3 11h3m-3 18h3m-3 6h3m-3 1h3m-3 1h3m-3 3h3m-3 6h3m-3 6h3m-3 2h3m-3 5h3m-3 2h3m-3 1h3m-3 1h3m-3 4h3m-3 3h3m-3 1h3m-3 1h3m-2-51h3m-3 1h3m-3 6h3m-3 3h3m-3 3h3m-3 4h3m-3 7h3m-3 8h3m-3 10h3m-2-64h3m-3 15h3m-3 8h3m-3 11h3m-3 4h3m-3 3h3m-3 6h3m-3 9h3m-3 2h3m-3 16h3m-2-65h3m-3 8h3m-3 2h3m-3 5h3m-3 2h3m-3 2h3m-3 22h3m-3 2h3m-3 10h3m-3 11h3m-3 1h3m-3 6h3m-2-74h3m-3 8h3m-3 7h3m-3 12h3m-3 11h3m-3 2h3m-3 7h3m-3 8h3m-3 5h3m-3 5h3m-2-60h3m-3 1h3m-3 14h3m-3 11h3m-3 6h3m-3 4h3m-3 3h3m-3 31h3m-2-59h3m-3 10h3m-3 4h3m-3 2h3m-3 4h3m-3 2h3m-3 6h3m-3 4h3m-3 6h3m-3 13h3m-3 9h3m-2-61h3m-3 3h3m-3 8h3m-3 3h3m-3 1h3m-3 3h3m-3 7h3m-3 5h3m-3 7h3m-3 17h3m-2-61h3m-3 10h3m-3 10h3m-3 3h3m-3 3h3m-3 7h3m-3 5h3m-3 3h3m-3 3h3m-3 2h3m-3 3h3m-3 1h3m-3 3h3m-3 9h3m-2-58h3m-3 4h3m-3 1h3m-3 10h3m-3 2h3m-3 3h3m-3 13h3m-3 1h3m-3 2h3m-3 2h3m-3 2h3m-2-39h3m-3 21h3m-3 2h3m-3 3h3m-3 3h3m-3 1h3m-2-61h3m-3 19h3m-3 15h3m-3 15h3m-3 2h3m-3 1h3m-3 1h3m-3 7h3m-3 5h3m-3 5h3m-3 4h3m-3 1h3m-3 7h3m-2-75h3m-3 8h3m-3 7h3m-3 13h3m-3 3h3m-3 2h3m-3 1h3m-3 6h3m-3 1h3m-3 9h3m-3 12h3m-3 8h3m-3 1h3m-3 4h3m-3 2h3m-3 1h3m-3 1h3m-2-52h3m-3 13h3m-3 4h3m-3 1h3m-3 7h3m-3 6h3m-3 1h3m-3 2h3m-3 3h3m-3 11h3m-3 6h3m-3 1h3m-2-60h3m-3 11h3m-3 5h3m-3 1h3m-3 4h3m-3 7h3m-3 2h3m-3 6h3m-3 1h3m-3 1h3m-3 10h3m-3 2h3m-3 2h3m-3 35h3m-2-88h3m-3 2h3m-3 9h3m-3 4h3m-3 2h3m-3 2h3m-3 6h3m-3 6h3m-3 8h3m-3 7h3m-3 3h3m-3 11h3m-2-59h3m-3 6h3m-3 5h3m-3 13h3m-3 6h3m-3 1h3m-3 4h3m-3 2h3m-3 10h3m-3 2h3m-3 2h3m-2-58h3m-3 3h3m-3 2h3m-3 6h3m-3 4h3m-3 7h3m-3 3h3m-3 2h3m-3 1h3m-3 1h3m-3 6h3m-3 5h3m-3 3h3m-3 2h3m-3 1h3m-3 6h3m-3 4h3m-3 7h3m-2-68h3m-3 12h3m-3 5h3m-3 4h3m-3 1h3m-3 3h3m-3 2h3m-3 2h3m-3 6h3m-3 1h3m-3 1h3m-3 1h3m-3 4h3m-3 7h3m-3 6h3m-3 5h3m-3 1h3m-3 5h3m-3 3h3m-3 1h3m-2-64h3m-3 15h3m-3 14h3m-3 3h3m-3 1h3m-3 1h3m-3 1h3m-3 2h3m-3 4h3m-3 4h3m-3 3h3m-3 4h3m-3 1h3m-3 1h3m-3 3h3m-3 3h3m-3 6h3m-3 3h3m-3 2h3m-2-76h3m-3 4h3m-3 9h3m-3 3h3m-3 1h3m-3 7h3m-3 1h3m-3 10h3m-3 3h3m-3 2h3m-3 3h3m-3 1h3m-3 5h3m-3 4h3m-3 4h3m-3 2h3m-3 4h3m-3 3h3m-3 5h3m-3 4h3m-2-54h3m-3 8h3m-3 3h3m-3 3h3m-3 1h3m-3 1h3m-3 1h3m-3 5h3m-3 1h3m-3 1h3m-3 2h3m-3 2h3m-3 5h3m-3 2h3m-3 2h3m-3 3h3m-3 3h3m-3 5h3m-3 1h3m-2-69h3m-3 1h3m-3 9h3m-3 4h3m-3 1h3m-3 9h3m-3 2h3m-3 3h3m-3 5h3m-3 1h3m-3 2h3m-3 5h3m-3 3h3m-3 1h3m-3 2h3m-3 2h3m-3 20h3m-2-82h3m-3 1h3m-3 4h3m-3 2h3m-3 9h3m-3 1h3m-3 2h3m-3 3h3m-3 2h3m-3 4h3m-3 1h3m-3 5h3m-3 5h3m-3 8h3m-3 1h3m-3 1h3m-3 2h3m-3 1h3m-3 1h3m-3 4h3m-3 2h3m-3 1h3m-3 1h3m-3 1h3m-3 2h3m-3 2h3m-3 3h3m-3 3h3m-3 5h3m-2-79h3m-3 20h3m-3 8h3m-3 1h3m-3 9h3m-3 4h3m-3 4h3m-3 2h3m-3 1h3m-3 3h3m-3 1h3m-3 5h3m-3 6h3m-3 1h3m-3 1h3m-3 3h3m-3 6h3m-3 1h3m-3 3h3m-3 2h3m-3 1h3m-2-79h3m-3 14h3m-3 16h3m-3 1h3m-3 11h3m-3 1h3m-3 2h3m-3 1h3m-3 3h3m-3 3h3m-3 1h3m-3 1h3m-3 3h3m-3 3h3m-3 7h3m-3 19h3m-3 1h3m-2-50h3m-3 3h3m-3 1h3m-3 2h3m-3 2h3m-3 2h3m-3 3h3m-3 1h3m-3 1h3m-3 8h3m-3 6h3m-3 1h3m-3 4h3m-3 1h3m-2-63h3m-3 13h3m-3 7h3m-3 1h3m-3 6h3m-3 1h3m-3 4h3m-3 3h3m-3 2h3m-3 1h3m-3 2h3m-3 1h3m-3 2h3m-3 3h3m-3 1h3m-3 13h3m-3 1h3m-3 16h3m-2-76h3m-3 2h3m-3 2h3m-3 12h3m-3 1h3m-3 7h3m-3 3h3m-3 2h3m-3 2h3m-3 2h3m-3 2h3m-3 4h3m-3 6h3m-3 2h3m-3 4h3m-3 3h3m-3 8h3m-3 10h3m-2-56h3m-3 1h3m-3 2h3m-3 1h3m-3 4h3m-3 2h3m-3 1h3m-3 3h3m-3 3h3m-3 6h3m-3 4h3m-3 1h3m-3 1h3m-3 1h3m-3 8h3m-3 2h3m-3 6h3m-2-66h3m-3 1h3m-3 4h3m-3 9h3m-3 3h3m-3 12h3m-3 1h3m-3 2h3m-3 1h3m-3 3h3m-3 4h3m-3 1h3m-3 2h3m-3 2h3m-3 3h3m-3 5h3m-3 1h3m-3 4h3m-3 1h3m-3 8h3m-3 1h3m-3 2h3m-2-62h3m-3 4h3m-3 6h3m-3 6h3m-3 2h3m-3 10h3m-3 4h3m-3 2h3m-3 3h3m-3 4h3m-3 2h3m-3 6h3m-3 2h3m-3 2h3m-3 6h3m-3 10h3m-2-53h3m-3 2h3m-3 2h3m-3 1h3m-3 3h3m-3 2h3m-3 3h3m-3 4h3m-3 3h3m-3 1h3m-3 1h3m-3 6h3m-3 1h3m-3 1h3m-3 1h3m-3 4h3m-3 3h3m-3 7h3m-3 5h3m-2-84h3m-3 2h3m-3 17h3m-3 1h3m-3 2h3m-3 14h3m-3 6h3m-3 4h3m-3 1h3m-3 2h3m-3 2h3m-3 1h3m-3 5h3m-3 1h3m-3 4h3m-3 1h3m-3 1h3m-3 1h3m-3 4h3m-3 1h3m-3 1h3m-3 8h3m-3 5h3m-3 7h3m-2-99h3m-3 26h3m-3 1h3m-3 7h3m-3 1h3m-3 6h3m-3 4h3m-3 1h3m-3 6h3m-3 1h3m-3 1h3m-3 1h3m-3 1h3m-3 8h3m-3 1h3m-3 2h3m-3 3h3m-3 1h3m-3 2h3m-3 2h3m-3 2h3m-3 1h3m-3 3h3m-3 9h3m-3 5h3m-3 10h3m-2-95h3m-3 7h3m-3 21h3m-3 1h3m-3 4h3m-3 1h3m-3 11h3m-3 2h3m-3 8h3m-3 6h3m-3 6h3m-3 3h3m-3 2h3m-3 1h3m-2-90h3m-3 39h3m-3 1h3m-3 6h3m-3 3h3m-3 1h3m-3 5h3m-3 5h3m-3 3h3m-3 1h3m-3 1h3m-3 3h3m-3 4h3m-3 1h3m-3 2h3m-3 2h3m-3 2h3m-3 9h3m-3 4h3m-3 4h3m-2-59h3m-3 3h3m-3 3h3m-3 1h3m-3 4h3m-3 9h3m-3 6h3m-3 4h3m-3 1h3m-3 5h3m-3 2h3m-3 2h3m-3 5h3m-3 2h3m-3 8h3m-3 1h3m-3 1h3m-3 3h3m-3 8h3m-2-60h3m-3 4h3m-3 1h3m-3 3h3m-3 1h3m-3 1h3m-3 3h3m-3 1h3m-3 1h3m-3 1h3m-3 3h3m-3 1h3m-3 3h3m-3 3h3m-3 1h3m-3 5h3m-3 2h3m-3 2h3m-3 3h3m-3 4h3m-3 5h3m-3 7h3m-3 5h3m-2-84h3m-3 4h3m-3 17h3m-3 2h3m-3 6h3m-3 1h3m-3 6h3m-3 2h3m-3 3h3m-3 1h3m-3 3h3m-3 2h3m-3 3h3m-3 3h3m-3 3h3m-3 7h3m-3 3h3m-3 1h3m-3 5h3m-3 2h3m-2-97h3m-3 12h3m-3 11h3m-3 17h3m-3 4h3m-3 5h3m-3 4h3m-3 2h3m-3 1h3m-3 2h3m-3 4h3m-3 9h3m-3 2h3m-3 2h3m-3 3h3m-3 6h3m-3 1h3m-3 4h3m-3 8h3m-3 1h3m-3 2h3m-3 5h3m-3 3h3m-2-95h3m-3 24h3m-3 4h3m-3 1h3m-3 3h3m-3 1h3m-3 1h3m-3 1h3m-3 1h3m-3 5h3m-3 4h3m-3 2h3m-3 1h3m-3 3h3m-3 1h3m-3 2h3m-3 3h3m-3 6h3m-3 3h3m-3 2h3m-3 7h3m-3 2h3m-3 18h3m-2-80h3m-3 10h3m-3 4h3m-3 11h3m-3 3h3m-3 4h3m-3 3h3m-3 1h3m-3 1h3m-3 3h3m-3 2h3m-3 3h3m-3 2h3m-3 2h3m-3 2h3m-3 2h3m-3 4h3m-3 7h3m-3 3h3m-3 1h3m-2-62h3m-3 5h3m-3 3h3m-3 1h3m-3 9h3m-3 2h3m-3 2h3m-3 4h3m-3 4h3m-3 3h3m-3 3h3m-3 2h3m-3 3h3m-3 1h3m-3 1h3m-3 1h3m-3 4h3m-3 7h3m-3 5h3m-3 3h3m-3 9h3m-3 1h3m-2-97h3m-3 13h3m-3 2h3m-3 15h3m-3 9h3m-3 2h3m-3 2h3m-3 3h3m-3 4h3m-3 3h3m-3 1h3m-3 4h3m-3 1h3m-3 1h3m-3 1h3m-3 3h3m-3 3h3m-3 1h3m-3 1h3m-3 1h3m-3 9h3m-3 1h3m-3 1h3m-3 1h3m-3 9h3m-2-82h3m-3 21h3m-3 14h3m-3 6h3m-3 4h3m-3 1h3m-3 2h3m-3 1h3m-3 2h3m-3 8h3m-3 10h3m-3 5h3m-2-63h3m-3 4h3m-3 6h3m-3 3h3m-3 5h3m-3 8h3m-3 2h3m-3 2h3m-3 6h3m-3 2h3m-3 4h3m-3 2h3m-3 1h3m-3 2h3m-3 1h3m-3 8h3m-3 5h3m-3 1h3m-3 6h3m-2-70h3m-3 2h3m-3 7h3m-3 4h3m-3 4h3m-3 3h3m-3 6h3m-3 2h3m-3 4h3m-3 6h3m-3 1h3m-3 2h3m-3 1h3m-3 2h3m-3 7h3m-3 5h3m-3 1h3m-3 1h3m-3 3h3m-3 5h3m-3 2h3m-3 3h3m-2-68h3m-3 25h3m-3 3h3m-3 1h3m-3 1h3m-3 7h3m-3 6h3m-3 4h3m-3 1h3m-3 1h3m-3 3h3m-3 14h3m-3 1h3m-3 7h3m-2-66h3m-3 5h3m-3 8h3m-3 1h3m-3 1h3m-3 1h3m-3 3h3m-3 1h3m-3 1h3m-3 3h3m-3 3h3m-3 2h3m-3 1h3m-3 1h3m-3 4h3m-3 5h3m-3 6h3m-3 1h3m-3 1h3m-3 11h3m-3 2h3m-2-58h3m-3 2h3m-3 1h3m-3 7h3m-3 1h3m-3 2h3m-3 2h3m-3 2h3m-3 1h3m-3 3h3m-3 1h3m-3 17h3m-3 3h3m-3 3h3m-3 4h3m-3 4h3m-3 1h3m-2-88h3m-3 13h3m-3 5h3m-3 12h3m-3 7h3m-3 1h3m-3 4h3m-3 4h3m-3 4h3m-3 2h3m-3 3h3m-3 1h3m-3 1h3m-3 1h3m-3 3h3m-3 1h3m-3 4h3m-3 2h3m-3 13h3m-3 4h3m-3 2h3m-3 3h3m-3 7h3m-2-62h3m-3 8h3m-3 2h3m-3 2h3m-3 6h3m-3 1h3m-3 3h3m-3 16h3m-3 6h3m-3 3h3m-3 6h3m-3 1h3m-2-64h3m-3 2h3m-3 7h3m-3 8h3m-3 2h3m-3 4h3m-3 1h3m-3 4h3m-3 3h3m-3 1h3m-3 2h3m-3 3h3m-3 3h3m-3 9h3m-3 1h3m-3 1h3m-3 2h3m-3 4h3m-3 12h3m-3 2h3m-3 1h3m-2-62h3m-3 4h3m-3 1h3m-3 2h3m-3 7h3m-3 2h3m-3 5h3m-3 2h3m-3 2h3m-3 2h3m-3 3h3m-3 1h3m-3 5h3m-3 2h3m-3 10h3m-3 1h3m-3 5h3m-3 2h3m-3 9h3m-2-73h3m-3 5h3m-3 3h3m-3 1h3m-3 1h3m-3 1h3m-3 4h3m-3 6h3m-3 5h3m-3 3h3m-3 1h3m-3 9h3m-3 3h3m-3 3h3m-3 4h3m-3 1h3m-3 2h3m-3 4h3m-3 2h3m-3 2h3m-3 1h3m-3 7h3m-3 8h3m-2-61h3m-3 5h3m-3 1h3m-3 1h3m-3 2h3m-3 3h3m-3 2h3m-3 1h3m-3 4h3m-3 2h3m-3 3h3m-3 1h3m-3 2h3m-3 1h3m-3 5h3m-3 2h3m-3 4h3m-3 3h3m-3 8h3m-2-71h3m-3 8h3m-3 1h3m-3 10h3m-3 3h3m-3 6h3m-3 4h3m-3 1h3m-3 2h3m-3 1h3m-3 2h3m-3 1h3m-3 2h3m-3 4h3m-3 3h3m-3 5h3m-3 1h3m-3 1h3m-3 1h3m-3 1h3m-3 2h3m-3 10h3m-3 1h3m-3 3h3m-2-60h3m-3 5h3m-3 1h3m-3 4h3m-3 1h3m-3 5h3m-3 1h3m-3 1h3m-3 1h3m-3 2h3m-3 3h3m-3 1h3m-3 4h3m-3 1h3m-3 2h3m-3 1h3m-3 1h3m-3 2h3m-3 2h3m-3 2h3m-3 2h3m-3 9h3m-3 1h3m-3 1h3m-3 11h3m-3 1h3m-2-72h3m-3 1h3m-3 10h3m-3 4h3m-3 7h3m-3 5h3m-3 4h3m-3 1h3m-3 5h3m-3 1h3m-3 1h3m-3 1h3m-3 4h3m-3 2h3m-3 1h3m-3 1h3m-3 1h3m-3 3h3m-3 1h3m-3 3h3m-3 6h3m-3 5h3m-2-64h3m-3 1h3m-3 3h3m-3 3h3m-3 1h3m-3 4h3m-3 5h3m-3 3h3m-3 5h3m-3 3h3m-3 8h3m-3 1h3m-3 3h3m-3 1h3m-3 6h3m-3 2h3m-3 7h3m-3 1h3m-2-60h3m-3 1h3m-3 11h3m-3 4h3m-3 6h3m-3 4h3m-3 1h3m-3 1h3m-3 1h3m-3 2h3m-3 1h3m-3 2h3m-3 3h3m-3 3h3m-3 3h3m-3 2h3m-3 2h3m-3 5h3m-3 3h3m-3 2h3m-3 1h3m-3 10h3m-2-87h3m-3 8h3m-3 7h3m-3 2h3m-3 7h3m-3 4h3m-3 7h3m-3 3h3m-3 3h3m-3 2h3m-3 1h3m-3 1h3m-3 1h3m-3 6h3m-3 3h3m-3 1h3m-3 2h3m-3 5h3m-3 6h3m-3 5h3m-3 4h3m-3 3h3m-3 2h3m-3 1h3m-2-90h3m-3 27h3m-3 2h3m-3 10h3m-3 2h3m-3 5h3m-3 5h3m-3 3h3m-3 7h3m-3 1h3m-3 4h3m-3 5h3m-3 8h3m-3 4h3m-3 11h3m-2-72h3m-3 5h3m-3 1h3m-3 1h3m-3 15h3m-3 3h3m-3 1h3m-3 5h3m-3 5h3m-3 4h3m-3 1h3m-3 2h3m-3 4h3m-3 5h3m-3 5h3m-3 1h3m-3 1h3m-2-66h3m-3 5h3m-3 3h3m-3 2h3m-3 5h3m-3 8h3m-3 1h3m-3 1h3m-3 3h3m-3 1h3m-3 3h3m-3 2h3m-3 2h3m-3 3h3m-3 2h3m-3 1h3m-3 2h3m-3 4h3m-3 7h3m-3 3h3m-3 1h3m-3 2h3m-3 5h3m-3 2h3m-3 1h3m-3 1h3m-3 4h3m-2-84h3m-3 25h3m-3 2h3m-3 1h3m-3 12h3m-3 1h3m-3 1h3m-3 3h3m-3 1h3m-3 1h3m-3 2h3m-3 3h3m-3 5h3m-3 3h3m-3 9h3m-3 3h3m-3 23h3m-2-91h3m-3 10h3m-3 5h3m-3 14h3m-3 3h3m-3 1h3m-3 3h3m-3 6h3m-3 2h3m-3 1h3m-3 1h3m-3 5h3m-3 1h3m-3 1h3m-3 2h3m-3 1h3m-3 1h3m-3 4h3m-3 2h3m-3 5h3m-3 3h3m-3 2h3m-2-66h3m-3 1h3m-3 19h3m-3 4h3m-3 1h3m-3 1h3m-3 2h3m-3 5h3m-3 1h3m-3 5h3m-3 4h3m-3 22h3m-3 10h3m-3 7h3m-2-79h3m-3 11h3m-3 4h3m-3 8h3m-3 3h3m-3 5h3m-3 3h3m-3 7h3m-3 2h3m-3 2h3m-3 1h3m-3 1h3m-3 2h3m-3 1h3m-3 1h3m-3 19h3m-3 2h3m-3 1h3m-3 4h3m-2-94h3m-3 2h3m-3 6h3m-3 8h3m-3 9h3m-3 3h3m-3 2h3m-3 1h3m-3 2h3m-3 2h3m-3 1h3m-3 2h3m-3 3h3m-3 1h3m-3 1h3m-3 13h3m-3 3h3m-3 2h3m-3 5h3m-3 1h3m-3 1h3m-3 2h3m-3 7h3m-3 1h3m-3 14h3m-2-73h3m-3 11h3m-3 2h3m-3 1h3m-3 1h3m-3 4h3m-3 3h3m-3 3h3m-3 1h3m-3 5h3m-3 2h3m-3 5h3m-3 4h3m-3 3h3m-3 5h3m-3 4h3m-3 11h3m-3 6h3m-3 5h3m-2-72h3m-3 2h3m-3 4h3m-3 6h3m-3 2h3m-3 7h3m-3 1h3m-3 5h3m-3 1h3m-3 2h3m-3 1h3m-3 2h3m-3 3h3m-3 10h3m-3 8h3m-3 1h3m-3 6h3m-2-67h3m-3 5h3m-3 9h3m-3 1h3m-3 1h3m-3 1h3m-3 2h3m-3 1h3m-3 1h3m-3 3h3m-3 8h3m-3 5h3m-3 2h3m-3 1h3m-3 10h3m-3 1h3m-3 5h3m-3 2h3m-3 1h3m-3 1h3m-3 4h3m-2-66h3m-3 1h3m-3 9h3m-3 10h3m-3 1h3m-3 5h3m-3 4h3m-3 1h3m-3 2h3m-3 4h3m-3 2h3m-3 1h3m-3 3h3m-3 1h3m-3 2h3m-3 3h3m-3 5h3m-3 2h3m-3 15h3m-2-61h3m-3 5h3m-3 7h3m-3 1h3m-3 1h3m-3 2h3m-3 2h3m-3 2h3m-3 1h3m-3 1h3m-3 1h3m-3 3h3m-3 3h3m-3 3h3m-3 3h3m-3 6h3m-3 3h3m-3 1h3m-3 1h3m-3 4h3m-3 6h3m-3 4h3m-3 3h3m-2-55h3m-3 7h3m-3 5h3m-3 1h3m-3 1h3m-3 1h3m-3 6h3m-3 4h3m-3 1h3m-3 1h3m-3 7h3m-3 2h3m-3 1h3m-3 1h3m-3 3h3m-3 3h3m-3 2h3m-3 12h3m-2-88h3m-3 7h3m-3 19h3m-3 3h3m-3 1h3m-3 7h3m-3 2h3m-3 1h3m-3 1h3m-3 2h3m-3 1h3m-3 1h3m-3 2h3m-3 5h3m-3 2h3m-3 3h3m-3 4h3m-3 4h3m-3 4h3m-3 4h3m-3 10h3m-3 2h3m-2-67h3m-3 6h3m-3 2h3m-3 7h3m-3 1h3m-3 4h3m-3 4h3m-3 1h3m-3 2h3m-3 1h3m-3 4h3m-3 1h3m-3 1h3m-3 3h3m-3 1h3m-3 1h3m-3 3h3m-3 2h3m-3 3h3m-3 2h3m-3 6h3m-3 4h3m-2-74h3m-3 4h3m-3 10h3m-3 8h3m-3 1h3m-3 6h3m-3 12h3m-3 2h3m-3 16h3m-3 2h3m-3 1h3m-3 1h3m-3 3h3m-3 3h3m-3 4h3m-3 1h3m-3 7h3m-3 2h3m-2-75h3m-3 3h3m-3 1h3m-3 1h3m-3 6h3m-3 1h3m-3 1h3m-3 9h3m-3 1h3m-3 10h3m-3 6h3m-3 1h3m-3 6h3m-3 16h3m-3 15h3m-3 1h3m-2-78h3m-3 4h3m-3 15h3m-3 3h3m-3 2h3m-3 5h3m-3 3h3m-3 3h3m-3 1h3m-3 2h3m-3 5h3m-3 6h3m-3 3h3m-3 4h3m-3 3h3m-3 8h3m-3 3h3m-3 10h3m-2-91h3m-3 9h3m-3 3h3m-3 6h3m-3 3h3m-3 7h3m-3 9h3m-3 3h3m-3 3h3m-3 2h3m-3 1h3m-3 1h3m-3 6h3m-3 3h3m-3 1h3m-3 1h3m-3 1h3m-3 1h3m-3 1h3m-3 9h3m-3 4h3m-3 4h3m-3 2h3m-2-61h3m-3 1h3m-3 10h3m-3 1h3m-3 4h3m-3 8h3m-3 1h3m-3 3h3m-3 1h3m-3 1h3m-3 1h3m-3 6h3m-3 1h3m-3 1h3m-3 6h3m-3 2h3m-3 10h3m-3 3h3m-2-82h3m-3 20h3m-3 6h3m-3 13h3m-3 1h3m-3 1h3m-3 1h3m-3 6h3m-3 4h3m-3 1h3m-3 3h3m-3 3h3m-3 2h3m-3 1h3m-3 1h3m-3 2h3m-3 5h3m-3 1h3m-3 1h3m-3 1h3m-3 3h3m-3 9h3m-2-94h3m-3 17h3m-3 4h3m-3 24h3m-3 2h3m-3 3h3m-3 2h3m-3 5h3m-3 6h3m-3 2h3m-3 11h3m-3 5h3m-3 19h3m-2-76h3m-3 1h3m-3 4h3m-3 1h3m-3 19h3m-3 5h3m-3 1h3m-3 4h3m-3 6h3m-3 1h3m-3 3h3m-3 7h3m-3 2h3m-3 2h3m-3 7h3m-3 8h3m-2-78h3m-3 21h3m-3 3h3m-3 3h3m-3 1h3m-3 1h3m-3 1h3m-3 1h3m-3 4h3m-3 4h3m-3 4h3m-3 2h3m-3 1h3m-3 1h3m-3 19h3m-3 1h3m-3 6h3m-2-74h3m-3 23h3m-3 4h3m-3 2h3m-3 2h3m-3 6h3m-3 5h3m-3 7h3m-3 2h3m-3 1h3m-3 2h3m-3 3h3m-3 3h3m-3 7h3m-3 5h3m-3 2h3m-3 2h3m-2-70h3m-3 11h3m-3 2h3m-3 1h3m-3 2h3m-3 1h3m-3 4h3m-3 5h3m-3 1h3m-3 1h3m-3 1h3m-3 3h3m-3 1h3m-3 5h3m-3 1h3m-3 3h3m-3 1h3m-3 3h3m-3 3h3m-3 1h3m-3 3h3m-3 4h3m-3 2h3m-3 4h3m-3 4h3m-3 14h3m-2-99h3m-3 9h3m-3 14h3m-3 2h3m-3 3h3m-3 1h3m-3 1h3m-3 4h3m-3 1h3m-3 3h3m-3 1h3m-3 2h3m-3 2h3m-3 1h3m-3 2h3m-3 1h3m-3 6h3m-3 1h3m-3 4h3m-3 1h3m-3 2h3m-3 4h3m-3 10h3m-3 2h3m-3 2h3m-3 2h3m-3 3h3m-3 12h3m-2-88h3m-3 14h3m-3 5h3m-3 5h3m-3 1h3m-3 1h3m-3 5h3m-3 8h3m-3 1h3m-3 3h3m-3 1h3m-3 1h3m-3 1h3m-3 4h3m-3 3h3m-3 14h3m-3 7h3m-3 3h3m-3 6h3m-2-71h3m-3 1h3m-3 14h3m-3 1h3m-3 2h3m-3 5h3m-3 2h3m-3 1h3m-3 2h3m-3 1h3m-3 2h3m-3 4h3m-3 4h3m-3 5h3m-3 3h3m-3 2h3m-3 11h3m-3 7h3m-3 5h3m-2-75h3m-3 2h3m-3 4h3m-3 2h3m-3 5h3m-3 2h3m-3 3h3m-3 2h3m-3 2h3m-3 4h3m-3 4h3m-3 2h3m-3 2h3m-3 2h3m-3 3h3m-3 1h3m-3 1h3m-3 6h3m-3 1h3m-3 1h3m-3 2h3m-3 2h3m-3 7h3m-3 1h3m-3 1h3m-2-63h3m-3 6h3m-3 9h3m-3 4h3m-3 2h3m-3 3h3m-3 1h3m-3 1h3m-3 8h3m-3 1h3m-3 1h3m-3 3h3m-3 4h3m-3 9h3m-3 4h3m-3 16h3m-3 7h3m-3 6h3m-2-100h3m-3 16h3m-3 7h3m-3 4h3m-3 4h3m-3 2h3m-3 4h3m-3 1h3m-3 3h3m-3 3h3m-3 3h3m-3 1h3m-3 3h3m-3 4h3m-3 5h3m-3 3h3m-3 1h3m-3 1h3m-3 1h3m-3 2h3m-3 4h3m-3 4h3m-3 4h3m-3 7h3m-2-81h3m-3 16h3m-3 7h3m-3 3h3m-3 3h3m-3 6h3m-3 1h3m-3 1h3m-3 1h3m-3 1h3m-3 2h3m-3 2h3m-3 7h3m-3 1h3m-3 1h3m-3 4h3m-3 1h3m-3 1h3m-3 5h3m-3 6h3m-3 1h3m-3 4h3m-2-83h3m-3 16h3m-3 3h3m-3 9h3m-3 2h3m-3 1h3m-3 1h3m-3 1h3m-3 5h3m-3 4h3m-3 1h3m-3 2h3m-3 10h3m-3 1h3m-3 1h3m-3 1h3m-3 1h3m-3 1h3m-3 1h3m-3 2h3m-3 1h3m-3 6h3m-3 6h3m-2-91h3m-3 29h3m-3 3h3m-3 6h3m-3 1h3m-3 1h3m-3 1h3m-3 10h3m-3 3h3m-3 3h3m-3 1h3m-3 1h3m-3 1h3m-3 1h3m-3 3h3m-3 3h3m-3 1h3m-3 7h3m-3 3h3m-3 1h3m-3 3h3m-3 1h3m-3 2h3m-3 3h3m-3 2h3m-3 3h3m-3 2h3m-3 9h3m-2-66h3m-3 3h3m-3 4h3m-3 9h3m-3 6h3m-3 1h3m-3 5h3m-3 3h3m-3 6h3m-3 2h3m-3 4h3m-3 2h3m-3 2h3m-3 4h3m-3 4h3m-3 6h3m-3 18h3m-2-100h3m-3 4h3m-3 13h3m-3 8h3m-3 1h3m-3 2h3m-3 1h3m-3 4h3m-3 3h3m-3 3h3m-3 4h3m-3 7h3m-3 6h3m-3 5h3m-3 2h3m-3 3h3m-3 4h3m-3 2h3m-3 4h3m-3 8h3m-2-63h3m-3 7h3m-3 6h3m-3 2h3m-3 2h3m-3 1h3m-3 4h3m-3 6h3m-3 2h3m-3 1h3m-3 4h3m-3 1h3m-3 1h3m-3 3h3m-3 1h3m-3 5h3m-3 1h3m-3 5h3m-3 5h3m-3 8h3m-3 10h3m-2-65h3m-3 3h3m-3 5h3m-3 9h3m-3 2h3m-3 1h3m-3 1h3m-3 1h3m-3 4h3m-3 3h3m-3 7h3m-3 15h3m-2-70h3m-3 2h3m-3 1h3m-3 1h3m-3 7h3m-3 10h3m-3 4h3m-3 3h3m-3 1h3m-3 2h3m-3 2h3m-3 2h3m-3 1h3m-3 2h3m-3 1h3m-3 5h3m-3 1h3m-3 2h3m-3 1h3m-3 3h3m-3 3h3m-3 15h3m-3 3h3m-3 2h3m-3 2h3m-2-70h3m-3 3h3m-3 1h3m-3 3h3m-3 3h3m-3 7h3m-3 2h3m-3 5h3m-3 3h3m-3 1h3m-3 21h3m-3 8h3m-3 15h3m-2-98h3m-3 20h3m-3 9h3m-3 4h3m-3 2h3m-3 1h3m-3 1h3m-3 2h3m-3 1h3m-3 1h3m-3 2h3m-3 9h3m-3 3h3m-3 1h3m-3 1h3m-3 9h3m-3 2h3m-3 2h3m-3 2h3m-3 4h3m-3 1h3m-3 2h3m-3 2h3m-3 6h3m-3 11h3m-2-73h3m-3 3h3m-3 10h3m-3 3h3m-3 4h3m-3 6h3m-3 1h3m-3 2h3m-3 2h3m-3 7h3m-3 2h3m-3 4h3m-3 2h3m-3 2h3m-3 8h3m-3 1h3m-3 3h3m-3 1h3m-3 13h3m-2-100h3m-3 16h3m-3 10h3m-3 1h3m-3 11h3m-3 3h3m-3 1h3m-3 4h3m-3 2h3m-3 2h3m-3 3h3m-3 3h3m-3 1h3m-3 8h3m-3 5h3m-3 3h3m-3 3h3m-3 2h3m-2-58h3m-3 5h3m-3 2h3m-3 3h3m-3 7h3m-3 1h3m-3 2h3m-3 3h3m-3 3h3m-3 1h3m-3 2h3m-3 3h3m-3 3h3m-3 3h3m-3 1h3m-3 3h3m-3 11h3m-3 1h3m-3 8h3m-3 9h3m-2-82h3m-3 22h3m-3 10h3m-3 2h3m-3 1h3m-3 1h3m-3 8h3m-3 2h3m-3 7h3m-3 1h3m-3 1h3m-3 3h3m-3 4h3m-3 2h3m-3 9h3m-3 19h3m-2-86h3m-3 3h3m-3 2h3m-3 5h3m-3 8h3m-3 5h3m-3 6h3m-3 5h3m-3 1h3m-3 5h3m-3 2h3m-3 3h3m-3 7h3m-3 1h3m-3 19h3m-3 14h3m-2-76h3m-3 1h3m-3 1h3m-3 3h3m-3 1h3m-3 8h3m-3 1h3m-3 5h3m-3 3h3m-3 7h3m-3 4h3m-3 5h3m-3 2h3m-3 2h3m-3 1h3m-3 7h3m-3 9h3m-3 9h3m-2-95h3m-3 12h3m-3 15h3m-3 5h3m-3 5h3m-3 5h3m-3 2h3m-3 4h3m-3 3h3m-3 1h3m-3 1h3m-3 2h3m-3 7h3m-3 3h3m-3 7h3m-3 1h3m-3 9h3m-3 2h3m-3 9h3m-2-91h3m-3 5h3m-3 3h3m-3 12h3m-3 7h3m-3 2h3m-3 7h3m-3 1h3m-3 5h3m-3 2h3m-3 4h3m-3 5h3m-3 2h3m-3 1h3m-3 2h3m-3 1h3m-3 4h3m-3 11h3m-3 2h3m-3 16h3m-2-92h3m-3 6h3m-3 2h3m-3 15h3m-3 4h3m-3 2h3m-3 1h3m-3 2h3m-3 3h3m-3 5h3m-3 1h3m-3 3h3m-3 2h3m-3 2h3m-3 8h3m-3 1h3m-3 4h3m-3 7h3m-3 7h3m-3 1h3m-3 2h3m-3 1h3m-3 12h3m-2-65h3m-3 5h3m-3 12h3m-3 2h3m-3 2h3m-3 3h3m-3 2h3m-3 1h3m-3 4h3m-3 1h3m-3 3h3m-3 9h3m-3 5h3m-3 6h3m-3 17h3m-2-97h3m-3 16h3m-3 2h3m-3 13h3m-3 5h3m-3 3h3m-3 3h3m-3 1h3m-3 1h3m-3 2h3m-3 1h3m-3 2h3m-3 2h3m-3 2h3m-3 1h3m-3 3h3m-3 1h3m-3 12h3m-3 1h3m-3 1h3m-3 4h3m-2-48h3m-3 18h3m-3 1h3m-3 2h3m-3 1h3m-3 1h3m-3 2h3m-3 1h3m-3 1h3m-3 1h3m-3 11h3m-3 12h3m-3 7h3m-2-63h3m-3 1h3m-3 4h3m-3 1h3m-3 5h3m-3 1h3m-3 3h3m-3 2h3m-3 1h3m-3 4h3m-3 5h3m-3 7h3m-3 2h3m-3 10h3m-2-46h3m-3 6h3m-3 2h3m-3 1h3m-3 11h3m-3 3h3m-3 1h3m-3 10h3m-3 4h3m-2-58h3m-3 14h3m-3 14h3m-3 1h3m-3 4h3m-3 1h3m-3 1h3m-3 1h3m-3 9h3m-3 6h3m-3 6h3m-3 1h3m-3 10h3m-3 1h3m-3 5h3m-3 4h3m-2-46h3m-3 1h3m-3 5h3m-3 5h3m-3 1h3m-3 4h3m-3 2h3m-3 2h3m-3 7h3m-3 7h3m-3 8h3m-3 7h3m-3 7h3m-2-82h3m-3 6h3m-3 7h3m-3 8h3m-3 7h3m-3 11h3m-3 4h3m-3 2h3m-3 1h3m-3 2h3m-3 1h3m-3 7h3m-3 12h3m-3 1h3m-3 10h3m-2-68h3m-3 13h3m-3 1h3m-3 4h3m-3 2h3m-3 3h3m-3 1h3m-3 7h3m-3 2h3m-3 2h3m-3 1h3m-3 1h3m-3 1h3m-3 1h3m-3 10h3m-3 14h3m-2-81h3m-3 10h3m-3 4h3m-3 17h3m-3 4h3m-3 1h3m-3 1h3m-3 1h3m-3 3h3m-3 3h3m-3 3h3m-3 1h3m-3 1h3m-3 1h3m-3 15h3m-3 2h3m-3 5h3m-3 24h3m-2-74h3m-3 1h3m-3 1h3m-3 1h3m-3 4h3m-3 4h3m-3 1h3m-3 2h3m-3 4h3m-3 2h3m-3 8h3m-3 1h3m-3 3h3m-3 4h3m-3 6h3m-3 2h3m-3 9h3m-3 15h3m-2-68h3m-3 1h3m-3 8h3m-3 1h3m-3 6h3m-3 3h3m-3 4h3m-3 5h3m-3 2h3m-3 1h3m-3 1h3m-3 11h3m-3 15h3m-3 1h3m-3 3h3m-3 5h3m-2-104h3m-3 16h3m-3 16h3m-3 15h3m-3 6h3m-3 3h3m-3 2h3m-3 6h3m-3 2h3m-3 5h3m-3 2h3m-3 1h3m-3 1h3m-3 1h3m-3 1h3m-3 5h3m-3 2h3m-2-74h3m-3 8h3m-3 16h3m-3 14h3m-3 1h3m-3 7h3m-3 1h3m-3 1h3m-3 2h3m-3 8h3m-3 2h3m-3 2h3m-3 1h3m-3 4h3m-3 10h3m-2-65h3m-3 9h3m-3 1h3m-3 1h3m-3 1h3m-3 1h3m-3 4h3m-3 10h3m-3 3h3m-3 2h3m-3 2h3m-3 4h3m-3 8h3m-3 5h3m-3 5h3m-3 1h3m-3 21h3m-2-86h3m-3 10h3m-3 8h3m-3 1h3m-3 4h3m-3 4h3m-3 1h3m-3 2h3m-3 4h3m-3 1h3m-3 3h3m-3 9h3m-3 2h3m-3 5h3m-3 1h3m-3 4h3m-3 1h3m-3 2h3m-3 1h3m-3 5h3m-3 14h3m-2-64h3m-3 6h3m-3 7h3m-3 15h3m-3 2h3m-3 7h3m-3 1h3m-3 4h3m-3 3h3m-3 1h3m-3 1h3m-3 3h3m-3 18h3m-2-63h3m-3 2h3m-3 4h3m-3 5h3m-3 8h3m-3 1h3m-3 10h3m-3 1h3m-3 4h3m-3 8h3m-3 2h3m-3 2h3m-3 3h3m-3 18h3m-2-100h3m-3 38h3m-3 1h3m-3 1h3m-3 6h3m-3 1h3m-3 2h3m-3 2h3m-3 2h3m-3 1h3m-3 4h3m-3 9h3m-3 1h3m-3 7h3m-3 19h3m-2-77h3m-3 3h3m-3 3h3m-3 4h3m-3 3h3m-3 4h3m-3 5h3m-3 1h3m-3 7h3m-3 1h3m-3 2h3m-3 8h3m-3 3h3m-3 2h3m-3 5h3m-3 1h3m-3 7h3m-2-46h3m-3 1h3m-3 9h3m-3 9h3m-3 2h3m-3 3h3m-3 2h3m-3 5h3m-3 1h3m-3 5h3m-3 1h3m-2-48h3m-3 9h3m-3 4h3m-3 8h3m-3 2h3m-3 8h3m-3 2h3m-3 12h3m-3 32h3m-2-69h3m-3 8h3m-3 2h3m-3 1h3m-3 6h3m-3 8h3m-3 7h3m-3 2h3m-3 2h3m-3 1h3m-3 1h3m-3 2h3m-3 28h3m-2-80h3m-3 19h3m-3 1h3m-3 7h3m-3 4h3m-3 2h3m-3 5h3m-3 2h3m-3 2h3m-3 2h3m-3 8h3m-3 1h3m-3 2h3m-3 1h3m-3 2h3m-3 2h3m-3 5h3m-2-57h3m-3 11h3m-3 7h3m-3 12h3m-3 2h3m-3 1h3m-3 4h3m-3 3h3m-3 2h3m-3 3h3m-3 3h3m-2-43h3m-3 1h3m-3 5h3m-3 2h3m-3 10h3m-3 3h3m-3 6h3m-3 3h3m-3 7h3m-3 3h3m-3 2h3m-3 4h3m-3 1h3m-3 4h3m-3 4h3m-2-61h3m-3 8h3m-3 1h3m-3 2h3m-3 1h3m-3 4h3m-3 5h3m-3 2h3m-3 1h3m-3 3h3m-3 1h3m-3 1h3m-3 1h3m-3 3h3m-3 1h3m-3 8h3m-3 3h3m-3 1h3m-3 2h3m-3 2h3m-2-61h3m-3 10h3m-3 10h3m-3 9h3m-3 6h3m-3 4h3m-3 2h3m-3 2h3m-3 2h3m-3 1h3m-3 1h3m-3 8h3m-3 1h3m-3 5h3m-3 1h3m-3 11h3m-2-82h3m-3 21h3m-3 2h3m-3 17h3m-3 6h3m-3 5h3m-3 2h3m-3 38h3m-2-77h3m-3 17h3m-3 8h3m-3 2h3m-3 8h3m-3 6h3m-3 1h3m-3 5h3m-3 2h3m-3 3h3m-3 5h3m-3 3h3m-3 5h3m-2-50h3m-3 3h3m-3 4h3m-3 1h3m-3 2h3m-3 1h3m-3 3h3m-3 1h3m-3 1h3m-3 1h3m-3 4h3m-3 11h3m-3 4h3m-3 10h3m-3 2h3m-3 5h3m-2-46h3m-3 2h3m-3 1h3m-3 3h3m-3 4h3m-3 2h3m-3 5h3m-3 4h3m-3 8h3m-3 2h3m-3 9h3m-2-68h3m-3 22h3m-3 1h3m-3 2h3m-3 10h3m-3 10h3m-3 5h3m-3 1h3m-3 2h3m-3 21h3m-2-64h3m-3 7h3m-3 3h3m-3 13h3m-3 9h3m-3 24h3m-2-44h3m-3 3h3m-3 7h3m-3 7h3m-3 4h3m-3 1h3m-3 4h3m-3 1h3m-2-29h3m-3 9h3m-3 14h3m-3 14h3m-2-53h3m-3 11h3m-3 4h3m-3 3h3m-3 5h3m-3 3h3m-3 2h3m-3 2h3m-3 4h3m-3 2h3m-3 17h3m-2-49h3m-3 9h3m-3 1h3m-3 18h3m-3 6h3m-3 11h3m-3 5h3m-2-38h3m-3 2h3m-3 9h3m-3 3h3m-3 4h3m-3 5h3m-3 29h3m-2-63h3m-3 17h3m-3 3h3m-3 1h3m-3 6h3m-3 3h3m-3 34h3m-3 3h3m-2-64h3m-3 10h3m-3 3h3m-3 11h3m-3 6h3m-3 7h3m-3 6h3m-3 18h3m-2-67h3m-3 4h3m-3 4h3m-3 6h3m-3 10h3m-3 2h3m-3 2h3m-3 3h3m-3 5h3m-3 1h3m-3 3h3m-3 1h3m-3 5h3m-3 3h3m-3 9h3m-3 3h3m-2-58h3m-3 7h3m-3 16h3m-3 3h3m-3 8h3m-3 13h3m-2-44h3m-3 4h3m-3 7h3m-3 9h3m-3 1h3m-3 1h3m-3 2h3m-3 3h3m-3 3h3m-3 21h3m-3 4h3m-2-72h3m-3 8h3m-3 12h3m-3 7h3m-3 1h3m-3 6h3m-3 2h3m-3 3h3m-3 9h3m-3 3h3m-3 2h3m-3 2h3m-2-43h3m-3 14h3m-3 12h3m-3 3h3m-3 2h3m-3 2h3m-3 16h3m-2-33h3m-3 4h3m-3 1h3m-3 5h3m-3 6h3m-2-32h3m-3 26h3m-3 2h3m-3 5h3m-3 4h3m-2-29h3m-3 15h3m-3 6h3m-3 2h3m-3 2h3m-3 20h3m-3 2h3m-3 3h3m-3 1h3m-3 23h3m-2-83h3m-3 12h3m-3 6h3m-3 11h3m-3 5h3m-3 5h3m-2-14h3m-3 4h3m-3 4h3m-3 21h3m-3 13h3m-2-55h3m-3 15h3m-3 5h3m-3 25h3m-2-58h3m-3 31h3m-3 7h3m-3 3h3m-3 1h3m-2-36h3m-3 23h3m-3 16h3m-3 8h3m-2-43h3m-3 5h3m-3 17h3m-3 12h3m-2-29h3m-3 10h3m-3 21h3m-2-21h3m-3 9h3m-3 3h3m-3 6h3m-3 54h3m-2-92h3m-2-3h3m-3 17h3m-3 3h3m-3 41h3m-2-96h3m-3 36h3m-3 21h3m-3 13h3m-3 14h3m-2-3h3m-2-36h3m-3 5h3m-3 14h3m-3 8h3m-3 11h3m-2-36h3m-3 18h3m-3 36h3m-2-49h3m-3 1h3m-3 13h3m-2 9h3m-2-10h3m-3 12h3m-2-12h3m-3 21h3m-2-4h3m0-30h3m-3 12h3m-3 28h3m-1-41h3m-3 6h3m-2-53h3m-1 78h3m-1-6h3m-3 3h3m-2-13h3m-1 9h3m-3 20h3m0-91h3m-3 39h3m-1-27h3m6 61h3m2-19h3" stroke="#555" stroke-width="3.0" fill="none"/>
<path d="M345 747V891M288.5 817.3H440.4" stroke="#111" stroke-width="1.2" fill="none"/>
<path d="M289.5 891v4.5M288.5 890.5h-4.5M300.8 891v2.5M288.5 879.7h-2.5M307.4 891v2.5M288.5 873.4h-2.5M312.0 891v2.5M288.5 869.0h-2.5M315.7 891v2.5M288.5 865.5h-2.5M318.6 891v2.5M288.5 862.7h-2.5M321.1 891v2.5M288.5 860.3h-2.5M323.3 891v2.5M288.5 858.2h-2.5M325.2 891v2.5M288.5 856.4h-2.5M326.9 891v4.5M288.5 854.8h-4.5M338.2 891v2.5M288.5 844.0h-2.5M344.8 891v2.5M288.5 837.7h-2.5M349.5 891v2.5M288.5 833.2h-2.5M353.1 891v2.5M288.5 829.8h-2.5M356.0 891v2.5M288.5 826.9h-2.5M358.6 891v2.5M288.5 824.5h-2.5M360.7 891v2.5M288.5 822.5h-2.5M362.6 891v2.5M288.5 820.6h-2.5M364.4 891v4.5M288.5 819.0h-4.5M375.6 891v2.5M288.5 808.2h-2.5M382.2 891v2.5M288.5 801.9h-2.5M386.9 891v2.5M288.5 797.5h-2.5M390.5 891v2.5M288.5 794.0h-2.5M393.5 891v2.5M288.5 791.2h-2.5M396.0 891v2.5M288.5 788.8h-2.5M398.1 891v2.5M288.5 786.7h-2.5M400.1 891v2.5M288.5 784.9h-2.5M401.8 891v4.5M288.5 783.2h-4.5M413.0 891v2.5M288.5 772.5h-2.5M419.6 891v2.5M288.5 766.2h-2.5M424.3 891v2.5M288.5 761.7h-2.5M427.9 891v2.5M288.5 758.3h-2.5M430.9 891v2.5M288.5 755.4h-2.5M433.4 891v2.5M288.5 753.0h-2.5M435.6 891v2.5M288.5 751.0h-2.5M437.5 891v2.5M288.5 749.1h-2.5M439.2 891v4.5M288.5 747.5h-4.5" stroke="#111" stroke-width="1.2" fill="none"/>
<rect x="288.5" y="747" width="151.9" height="144.0" fill="none" stroke="#111" stroke-width="1.3"/>
<text transform="translate(287.5 911.3) scale(0.72 1)" x="-7.23" y="0" font-size="13" font-family='"Liberation Sans", sans-serif' fill="#222" stroke="#222" stroke-width="0.25">10<tspan dy="-6.5" font-size="10.4">0</tspan></text>
<text transform="translate(278.2 893.0) rotate(-90)" x="-7.23" y="0" font-size="13" font-family='"Liberation Sans", sans-serif' fill="#222" stroke="#222" stroke-width="0.25">10<tspan dy="-7.2" font-size="9.8">0</tspan></text>
<text transform="translate(324.9 911.3) scale(0.72 1)" x="-7.23" y="0" font-size="13" font-family='"Liberation Sans", sans-serif' fill="#222" stroke="#222" stroke-width="0.25">10<tspan dy="-6.5" font-size="10.4">1</tspan></text>
<text transform="translate(278.2 857.2) rotate(-90)" x="-7.23" y="0" font-size="13" font-family='"Liberation Sans", sans-serif' fill="#222" stroke="#222" stroke-width="0.25">10<tspan dy="-7.2" font-size="9.8">1</tspan></text>
<text transform="translate(362.4 911.3) scale(0.72 1)" x="-7.23" y="0" font-size="13" font-family='"Liberation Sans", sans-serif' fill="#222" stroke="#222" stroke-width="0.25">10<tspan dy="-6.5" font-size="10.4">2</tspan></text>
<text transform="translate(278.2 821.5) rotate(-90)" x="-7.23" y="0" font-size="13" font-family='"Liberation Sans", sans-serif' fill="#222" stroke="#222" stroke-width="0.25">10<tspan dy="-7.2" font-size="9.8">2</tspan></text>
<text transform="translate(399.8 911.3) scale(0.72 1)" x="-7.23" y="0" font-size="13" font-family='"Liberation Sans", sans-serif' fill="#222" stroke="#222" stroke-width="0.25">10<tspan dy="-6.5" font-size="10.4">3</tspan></text>
<text transform="translate(278.2 785.8) rotate(-90)" x="-7.23" y="0" font-size="13" font-family='"Liberation Sans", sans-serif' fill="#222" stroke="#222" stroke-width="0.25">10<tspan dy="-7.2" font-size="9.8">3</tspan></text>
<text transform="translate(437.2 911.3) scale(0.72 1)" x="-7.23" y="0" font-size="13" font-family='"Liberation Sans", sans-serif' fill="#222" stroke="#222" stroke-width="0.25">10<tspan dy="-6.5" font-size="10.4">4</tspan></text>
<text transform="translate(278.2 750.0) rotate(-90)" x="-7.23" y="0" font-size="13" font-family='"Liberation Sans", sans-serif' fill="#222" stroke="#222" stroke-width="0.25">10<tspan dy="-7.2" font-size="9.8">4</tspan></text>
<text x="410.5" y="766" font-size="17" text-anchor="start" font-family='"Liberation Sans", sans-serif' fill="#111">53</text>
<path d="M41.5 575.5V800.5" stroke="#111" stroke-width="1.8" fill="none"/>
<path d="M41.5 564L36.3 575.5H46.7Z" stroke="#111" stroke-width="1.3" fill="#fff" stroke-linejoin="miter"/>
<text x="31" y="671.5" font-size="21.5" text-anchor="middle" font-weight="bold" font-family='"Liberation Sans", sans-serif' fill="#111" transform="rotate(-90 31 671.5)">CD56</text>
<path d="M136 932H376.5" stroke="#111" stroke-width="1.8" fill="none"/>
<path d="M388 932L376.5 926.3V937.7Z" stroke="#111" stroke-width="1.3" fill="#fff"/>
<text x="235" y="959.5" font-size="21.5" font-weight="bold" font-family='"Liberation Sans", sans-serif' fill="#111">CCR7</text>
<text x="4.7" y="1000.3" font-size="32" text-anchor="start" font-weight="bold" font-family='"Liberation Sans", sans-serif' fill="#111">C</text>
<path d="M26 1122.7V1105.2h1V1108.0h1V1107.8h1V1109.8h1V1106.1h1V1106.4h1V1106.5h1V1102.8h1V1099.2h1V1100.9h1V1098.7h1V1097.0h1V1092.4h1V1092.5h1V1099.1h1V1098.1h1V1090.7h1V1084.4h1V1086.2h1V1084.8h1V1070.8h1V1076.4h1V1066.9h1V1058.1h1V1062.1h1V1060.9h1V1067.3h1V1078.9h1V1079.6h1V1080.6h1V1088.7h1V1094.3h1V1092.3h1V1099.6h1V1101.0h1V1104.0h1V1102.9h1V1105.5h1V1112.7h1V1110.3h1V1114.0h1V1116.5h1V1117.1h1V1118.4h1V1121.3h1V1122.0h1V1120.1h1V1122.7h1V1120.2h1V1120.1h1V1120.3h1V1122.7h1V1122.7h1V1122.7h1V1122.7h1V1122.7h1V1122.7h1V1122.7h1V1122.7h1V1122.7h1V1122.7h1V1122.7h1V1122.7h1V1122.7h1V1122.7h1V1122.7h1V1122.7h1V1122.7h1V1122.7h1V1122.7h1V1122.7h1V1122.7h1V1122.7h1V1122.7h1V1122.7h1V1122.7h1V1122.7h1V1122.7h1V1122.7h1V1122.7h1V1122.7h1V1122.7h1V1122.7h1V1122.7h1V1122.7h1V1122.7h1V1122.7h1V1122.7h1V1122.7h1V1122.7h1V1122.7h1V1122.7h1V1122.7h1V1122.7h1V1122.7h1V1122.7h1V1122.7h1V1122.7h1V1122.7h1V1122.7h1V1122.7h1V1122.7h1V1122.7h1V1122.7h1V1122.7h1V1122.7h1V1122.7h1V1122.7h1V1122.7h1V1122.7h1V1122.7h1V1122.7h1V1122.7Z" fill="#0a0a0a" stroke="none" shape-rendering="crispEdges"/>
<path d="M25.8 1122.7V1031" stroke="#111" stroke-width="1" fill="none"/>
<path d="M25 1016.5H138.5V1122.7" fill="none" stroke="#333" stroke-width="0.9"/>
<path d="M25 1016.5V1122.7H138.5" fill="none" stroke="#111" stroke-width="1.1"/>
<path d="M25.8 1122.7v3.5M34.2 1122.7v2M39.1 1122.7v2M42.6 1122.7v2M45.4 1122.7v2M47.6 1122.7v2M49.4 1122.7v2M51.1 1122.7v2M52.5 1122.7v2M53.8 1122.7v3.5M62.2 1122.7v2M67.1 1122.7v2M70.6 1122.7v2M73.3 1122.7v2M75.5 1122.7v2M77.4 1122.7v2M79.0 1122.7v2M80.5 1122.7v2M81.8 1122.7v3.5M90.2 1122.7v2M95.1 1122.7v2M98.6 1122.7v2M101.3 1122.7v2M103.5 1122.7v2M105.4 1122.7v2M107.0 1122.7v2M108.4 1122.7v2M109.7 1122.7v3.5M118.1 1122.7v2M123.1 1122.7v2M126.6 1122.7v2M129.3 1122.7v2M131.5 1122.7v2M133.4 1122.7v2M135.0 1122.7v2M136.4 1122.7v2M137.7 1122.7v3.5M25 1122.7h-3.5M25 1117.4h-2M25 1112.2h-2M25 1106.9h-2M25 1101.7h-2M25 1096.4h-3.5M25 1091.1h-2M25 1085.9h-2M25 1080.6h-2M25 1075.4h-2M25 1070.1h-3.5M25 1064.8h-2M25 1059.6h-2M25 1054.3h-2M25 1049.1h-2M25 1043.8h-3.5M25 1038.5h-2M25 1033.3h-2M25 1028.0h-2M25 1022.8h-2M25 1017.5h-3.5" stroke="#111" stroke-width="1" fill="none"/>
<text transform="translate(24.8 1137.0) scale(0.8 1)" x="-5.28" y="0" font-size="9.5" font-family='"Liberation Sans", sans-serif' fill="#222" stroke="#222" stroke-width="0.25">10<tspan dy="-4.0" font-size="7.6">0</tspan></text>
<text transform="translate(52.8 1137.0) scale(0.8 1)" x="-5.28" y="0" font-size="9.5" font-family='"Liberation Sans", sans-serif' fill="#222" stroke="#222" stroke-width="0.25">10<tspan dy="-4.0" font-size="7.6">1</tspan></text>
<text transform="translate(80.8 1137.0) scale(0.8 1)" x="-5.28" y="0" font-size="9.5" font-family='"Liberation Sans", sans-serif' fill="#222" stroke="#222" stroke-width="0.25">10<tspan dy="-4.0" font-size="7.6">2</tspan></text>
<text transform="translate(108.7 1137.0) scale(0.8 1)" x="-5.28" y="0" font-size="9.5" font-family='"Liberation Sans", sans-serif' fill="#222" stroke="#222" stroke-width="0.25">10<tspan dy="-4.0" font-size="7.6">3</tspan></text>
<text transform="translate(136.7 1137.0) scale(0.8 1)" x="-5.28" y="0" font-size="9.5" font-family='"Liberation Sans", sans-serif' fill="#222" stroke="#222" stroke-width="0.25">10<tspan dy="-4.0" font-size="7.6">4</tspan></text>
<text x="18.5" y="1122.7" font-size="8.5" text-anchor="middle" font-family='"Liberation Sans", sans-serif' fill="#222" transform="rotate(-90 18.5 1122.7)">0</text>
<text x="18.5" y="1096.4" font-size="8.5" text-anchor="middle" font-family='"Liberation Sans", sans-serif' fill="#222" transform="rotate(-90 18.5 1096.4)">5</text>
<text x="18.5" y="1070.1" font-size="8.5" text-anchor="middle" font-family='"Liberation Sans", sans-serif' fill="#222" transform="rotate(-90 18.5 1070.1)">10</text>
<text x="18.5" y="1043.8" font-size="8.5" text-anchor="middle" font-family='"Liberation Sans", sans-serif' fill="#222" transform="rotate(-90 18.5 1043.8)">15</text>
<text x="18.5" y="1017.5" font-size="8.5" text-anchor="middle" font-family='"Liberation Sans", sans-serif' fill="#222" transform="rotate(-90 18.5 1017.5)">20</text>
<path d="M67.3 1056.8V1070.3M67.3 1063.8H138.5" stroke="#222" stroke-width="1" fill="none"/>
<text x="104.3" y="1072.6" font-size="7.5" text-anchor="start" font-family='"Liberation Sans", sans-serif' fill="#222">M1</text>
<text x="131.5" y="1035" font-size="14" text-anchor="end" font-family='"Liberation Sans", sans-serif' fill="#111">1%</text>
<path d="M396 1123.5V1112.8h1V1113.3h1V1110.7h1V1112.8h1V1107.5h1V1111.1h1V1107.2h1V1106.6h1V1107.3h1V1101.1h1V1106.4h1V1103.8h1V1099.2h1V1107.9h1V1100.9h1V1103.3h1V1098.7h1V1103.0h1V1102.1h1V1093.8h1V1095.5h1V1091.9h1V1093.6h1V1093.3h1V1098.9h1V1100.1h1V1099.6h1V1098.2h1V1096.8h1V1091.0h1V1088.8h1V1084.7h1V1076.7h1V1085.3h1V1084.0h1V1081.6h1V1086.9h1V1084.7h1V1079.9h1V1083.3h1V1082.1h1V1078.7h1V1069.4h1V1074.8h1V1078.2h1V1079.7h1V1077.6h1V1068.1h1V1087.8h1V1076.0h1V1078.5h1V1075.8h1V1088.3h1V1068.3h1V1080.3h1V1087.1h1V1082.3h1V1091.9h1V1088.6h1V1089.6h1V1085.0h1V1087.8h1V1091.9h1V1091.0h1V1093.8h1V1097.2h1V1104.8h1V1099.0h1V1106.6h1V1107.8h1V1107.4h1V1107.9h1V1107.6h1V1113.8h1V1110.3h1V1111.5h1V1115.3h1V1114.3h1V1116.5h1V1117.0h1V1118.2h1V1118.9h1V1118.3h1V1117.7h1V1118.2h1V1123.5h1V1120.8h1V1120.7h1V1123.5h1V1122.1h1V1122.9h1V1123.5h1V1123.5h1V1123.5h1V1123.5h1V1123.5h1V1123.5h1V1123.5h1V1123.5h1V1123.5h1V1123.5h1V1123.5h1V1123.5h1V1123.5h1V1123.5h1V1123.5h1V1123.5h1V1123.5h1V1123.5h1V1123.5h1V1123.5h1V1123.5h1V1123.5Z" fill="#0a0a0a" stroke="none" shape-rendering="crispEdges"/>
<path d="M395.8 1123.5V1064" stroke="#111" stroke-width="1" fill="none"/>
<path d="M395 1017.7H508.5V1123.5" fill="none" stroke="#333" stroke-width="0.9"/>
<path d="M395 1017.7V1123.5H508.5" fill="none" stroke="#111" stroke-width="1.1"/>
<path d="M395.8 1123.5v3.5M404.2 1123.5v2M409.1 1123.5v2M412.6 1123.5v2M415.4 1123.5v2M417.6 1123.5v2M419.4 1123.5v2M421.1 1123.5v2M422.5 1123.5v2M423.8 1123.5v3.5M432.2 1123.5v2M437.1 1123.5v2M440.6 1123.5v2M443.3 1123.5v2M445.5 1123.5v2M447.4 1123.5v2M449.0 1123.5v2M450.5 1123.5v2M451.8 1123.5v3.5M460.2 1123.5v2M465.1 1123.5v2M468.6 1123.5v2M471.3 1123.5v2M473.5 1123.5v2M475.4 1123.5v2M477.0 1123.5v2M478.4 1123.5v2M479.7 1123.5v3.5M488.1 1123.5v2M493.1 1123.5v2M496.6 1123.5v2M499.3 1123.5v2M501.5 1123.5v2M503.4 1123.5v2M505.0 1123.5v2M506.4 1123.5v2M507.7 1123.5v3.5M395 1123.5h-3.5M395 1118.3h-2M395 1113.0h-2M395 1107.8h-2M395 1102.5h-2M395 1097.3h-3.5M395 1092.1h-2M395 1086.8h-2M395 1081.6h-2M395 1076.3h-2M395 1071.1h-3.5M395 1065.9h-2M395 1060.6h-2M395 1055.4h-2M395 1050.1h-2M395 1044.9h-3.5M395 1039.7h-2M395 1034.4h-2M395 1029.2h-2M395 1023.9h-2M395 1018.7h-3.5" stroke="#111" stroke-width="1" fill="none"/>
<text transform="translate(394.8 1137.8) scale(0.8 1)" x="-5.28" y="0" font-size="9.5" font-family='"Liberation Sans", sans-serif' fill="#222" stroke="#222" stroke-width="0.25">10<tspan dy="-4.0" font-size="7.6">0</tspan></text>
<text transform="translate(422.8 1137.8) scale(0.8 1)" x="-5.28" y="0" font-size="9.5" font-family='"Liberation Sans", sans-serif' fill="#222" stroke="#222" stroke-width="0.25">10<tspan dy="-4.0" font-size="7.6">1</tspan></text>
<text transform="translate(450.8 1137.8) scale(0.8 1)" x="-5.28" y="0" font-size="9.5" font-family='"Liberation Sans", sans-serif' fill="#222" stroke="#222" stroke-width="0.25">10<tspan dy="-4.0" font-size="7.6">2</tspan></text>
<text transform="translate(478.7 1137.8) scale(0.8 1)" x="-5.28" y="0" font-size="9.5" font-family='"Liberation Sans", sans-serif' fill="#222" stroke="#222" stroke-width="0.25">10<tspan dy="-4.0" font-size="7.6">3</tspan></text>
<text transform="translate(506.7 1137.8) scale(0.8 1)" x="-5.28" y="0" font-size="9.5" font-family='"Liberation Sans", sans-serif' fill="#222" stroke="#222" stroke-width="0.25">10<tspan dy="-4.0" font-size="7.6">4</tspan></text>
<text x="388.5" y="1123.5" font-size="8.5" text-anchor="middle" font-family='"Liberation Sans", sans-serif' fill="#222" transform="rotate(-90 388.5 1123.5)">0</text>
<text x="388.5" y="1097.3" font-size="8.5" text-anchor="middle" font-family='"Liberation Sans", sans-serif' fill="#222" transform="rotate(-90 388.5 1097.3)">5</text>
<text x="388.5" y="1071.1" font-size="8.5" text-anchor="middle" font-family='"Liberation Sans", sans-serif' fill="#222" transform="rotate(-90 388.5 1071.1)">10</text>
<text x="388.5" y="1044.9" font-size="8.5" text-anchor="middle" font-family='"Liberation Sans", sans-serif' fill="#222" transform="rotate(-90 388.5 1044.9)">15</text>
<text x="388.5" y="1018.7" font-size="8.5" text-anchor="middle" font-family='"Liberation Sans", sans-serif' fill="#222" transform="rotate(-90 388.5 1018.7)">20</text>
<path d="M437.3 1057.6V1071.1M437.3 1064.6H508.5" stroke="#222" stroke-width="1" fill="none"/>
<text x="474.3" y="1073.4" font-size="7.5" text-anchor="start" font-family='"Liberation Sans", sans-serif' fill="#222">M1</text>
<text x="500.5" y="1036" font-size="14" text-anchor="end" font-family='"Liberation Sans", sans-serif' fill="#111">49%</text>
<path d="M25 1301.2V1294.0h1V1292.0h1V1292.4h1V1290.3h1V1287.4h1V1287.0h1V1283.9h1V1283.2h1V1283.1h1V1287.1h1V1289.3h1V1290.9h1V1289.1h1V1287.9h1V1280.4h1V1281.8h1V1279.8h1V1272.8h1V1274.3h1V1275.0h1V1277.1h1V1267.7h1V1267.0h1V1273.9h1V1268.7h1V1266.6h1V1275.0h1V1269.8h1V1263.2h1V1276.1h1V1266.4h1V1258.5h1V1266.3h1V1263.0h1V1256.8h1V1252.4h1V1244.5h1V1264.0h1V1259.9h1V1255.3h1V1258.2h1V1250.3h1V1259.2h1V1253.8h1V1250.3h1V1260.8h1V1266.7h1V1263.0h1V1265.5h1V1262.4h1V1265.0h1V1269.8h1V1271.4h1V1273.2h1V1267.5h1V1268.7h1V1273.0h1V1277.0h1V1279.8h1V1284.2h1V1285.1h1V1284.7h1V1287.0h1V1284.8h1V1281.6h1V1281.0h1V1284.9h1V1286.5h1V1285.8h1V1285.6h1V1290.4h1V1290.1h1V1289.4h1V1287.8h1V1290.0h1V1287.7h1V1290.3h1V1289.7h1V1292.3h1V1293.7h1V1293.9h1V1296.7h1V1301.2h1V1298.0h1V1299.3h1V1300.6h1V1301.2h1V1301.2h1V1301.2h1V1301.2h1V1301.2h1V1301.2h1V1301.2h1V1301.2h1V1301.2h1V1301.2h1V1301.2h1V1301.2h1V1301.2h1V1301.2h1V1301.2h1V1301.2h1V1301.2h1V1301.2h1V1301.2h1V1301.2h1V1301.2h1V1301.2h1V1301.2h1V1301.2h1V1301.2h1V1301.2Z" fill="#0a0a0a" stroke="none" shape-rendering="crispEdges"/>
<path d="M24.6 1301.2V1245" stroke="#111" stroke-width="1" fill="none"/>
<path d="M23.8 1194.7H137.3V1301.2" fill="none" stroke="#333" stroke-width="0.9"/>
<path d="M23.8 1194.7V1301.2H137.3" fill="none" stroke="#111" stroke-width="1.1"/>
<path d="M24.6 1301.2v3.5M33.0 1301.2v2M37.9 1301.2v2M41.4 1301.2v2M44.2 1301.2v2M46.4 1301.2v2M48.2 1301.2v2M49.9 1301.2v2M51.3 1301.2v2M52.6 1301.2v3.5M61.0 1301.2v2M65.9 1301.2v2M69.4 1301.2v2M72.1 1301.2v2M74.3 1301.2v2M76.2 1301.2v2M77.8 1301.2v2M79.3 1301.2v2M80.6 1301.2v3.5M89.0 1301.2v2M93.9 1301.2v2M97.4 1301.2v2M100.1 1301.2v2M102.3 1301.2v2M104.2 1301.2v2M105.8 1301.2v2M107.2 1301.2v2M108.5 1301.2v3.5M116.9 1301.2v2M121.9 1301.2v2M125.4 1301.2v2M128.1 1301.2v2M130.3 1301.2v2M132.2 1301.2v2M133.8 1301.2v2M135.2 1301.2v2M136.5 1301.2v3.5M23.8 1301.2h-3.5M23.8 1295.9h-2M23.8 1290.7h-2M23.8 1285.4h-2M23.8 1280.1h-2M23.8 1274.8h-3.5M23.8 1269.5h-2M23.8 1264.3h-2M23.8 1259.0h-2M23.8 1253.7h-2M23.8 1248.5h-3.5M23.8 1243.2h-2M23.8 1237.9h-2M23.8 1232.6h-2M23.8 1227.4h-2M23.8 1222.1h-3.5M23.8 1216.8h-2M23.8 1211.5h-2M23.8 1206.2h-2M23.8 1201.0h-2M23.8 1195.7h-3.5" stroke="#111" stroke-width="1" fill="none"/>
<text transform="translate(23.6 1315.5) scale(0.8 1)" x="-5.28" y="0" font-size="9.5" font-family='"Liberation Sans", sans-serif' fill="#222" stroke="#222" stroke-width="0.25">10<tspan dy="-4.0" font-size="7.6">0</tspan></text>
<text transform="translate(51.6 1315.5) scale(0.8 1)" x="-5.28" y="0" font-size="9.5" font-family='"Liberation Sans", sans-serif' fill="#222" stroke="#222" stroke-width="0.25">10<tspan dy="-4.0" font-size="7.6">1</tspan></text>
<text transform="translate(79.6 1315.5) scale(0.8 1)" x="-5.28" y="0" font-size="9.5" font-family='"Liberation Sans", sans-serif' fill="#222" stroke="#222" stroke-width="0.25">10<tspan dy="-4.0" font-size="7.6">2</tspan></text>
<text transform="translate(107.5 1315.5) scale(0.8 1)" x="-5.28" y="0" font-size="9.5" font-family='"Liberation Sans", sans-serif' fill="#222" stroke="#222" stroke-width="0.25">10<tspan dy="-4.0" font-size="7.6">3</tspan></text>
<text transform="translate(135.5 1315.5) scale(0.8 1)" x="-5.28" y="0" font-size="9.5" font-family='"Liberation Sans", sans-serif' fill="#222" stroke="#222" stroke-width="0.25">10<tspan dy="-4.0" font-size="7.6">4</tspan></text>
<text x="17.3" y="1301.2" font-size="8.5" text-anchor="middle" font-family='"Liberation Sans", sans-serif' fill="#222" transform="rotate(-90 17.3 1301.2)">0</text>
<text x="17.3" y="1274.8" font-size="8.5" text-anchor="middle" font-family='"Liberation Sans", sans-serif' fill="#222" transform="rotate(-90 17.3 1274.8)">5</text>
<text x="17.3" y="1248.5" font-size="8.5" text-anchor="middle" font-family='"Liberation Sans", sans-serif' fill="#222" transform="rotate(-90 17.3 1248.5)">10</text>
<text x="17.3" y="1222.1" font-size="8.5" text-anchor="middle" font-family='"Liberation Sans", sans-serif' fill="#222" transform="rotate(-90 17.3 1222.1)">15</text>
<text x="17.3" y="1195.7" font-size="8.5" text-anchor="middle" font-family='"Liberation Sans", sans-serif' fill="#222" transform="rotate(-90 17.3 1195.7)">20</text>
<path d="M66.2 1234.6V1248.1M66.2 1241.6H137.3" stroke="#222" stroke-width="1" fill="none"/>
<text x="103.2" y="1250.4" font-size="7.5" text-anchor="start" font-family='"Liberation Sans", sans-serif' fill="#222">M1</text>
<text x="126" y="1212" font-size="14" text-anchor="end" font-family='"Liberation Sans", sans-serif' fill="#111">40%</text>
<text x="126.5" y="1229" font-size="14" text-anchor="end" font-family='"Liberation Sans", sans-serif' fill="#111">Mean 75</text>
<path d="M399 1300.5V1287.2h1V1288.5h1V1287.4h1V1285.0h1V1290.3h1V1288.2h1V1291.4h1V1289.7h1V1291.5h1V1286.8h1V1286.6h1V1284.0h1V1284.4h1V1277.8h1V1279.6h1V1276.8h1V1275.7h1V1275.3h1V1277.8h1V1281.2h1V1279.1h1V1271.5h1V1269.8h1V1262.8h1V1273.6h1V1270.3h1V1265.6h1V1264.6h1V1267.1h1V1266.1h1V1271.2h1V1265.5h1V1258.4h1V1268.9h1V1266.9h1V1265.5h1V1266.4h1V1272.0h1V1265.4h1V1264.3h1V1261.5h1V1260.5h1V1256.7h1V1261.1h1V1245.2h1V1256.1h1V1244.8h1V1244.2h1V1251.9h1V1261.9h1V1266.2h1V1267.5h1V1262.8h1V1256.1h1V1267.7h1V1262.8h1V1253.5h1V1266.8h1V1274.2h1V1269.1h1V1273.3h1V1280.7h1V1277.1h1V1278.9h1V1280.9h1V1275.2h1V1283.5h1V1286.8h1V1283.4h1V1289.8h1V1289.7h1V1286.1h1V1286.6h1V1290.0h1V1291.2h1V1290.6h1V1290.2h1V1292.6h1V1294.1h1V1300.5h1V1295.6h1V1300.5h1V1300.5h1V1297.1h1V1297.3h1V1300.5h1V1298.3h1V1299.1h1V1300.5h1V1300.5h1V1300.5h1V1297.1h1V1296.4h1V1300.5h1V1300.5h1V1300.5h1V1300.5h1V1300.5h1V1300.5h1V1300.5h1V1300.5h1V1300.5h1V1300.5h1V1300.5h1V1300.5h1V1300.5h1V1300.5h1V1300.5h1V1300.5h1V1300.5h1V1300.5h1V1300.5Z" fill="#0a0a0a" stroke="none" shape-rendering="crispEdges"/>
<path d="M398.8 1300.5V1245" stroke="#111" stroke-width="1" fill="none"/>
<path d="M398 1194.7H511V1300.5" fill="none" stroke="#333" stroke-width="0.9"/>
<path d="M398 1194.7V1300.5H511" fill="none" stroke="#111" stroke-width="1.1"/>
<path d="M398.8 1300.5v3.5M407.2 1300.5v2M412.1 1300.5v2M415.6 1300.5v2M418.3 1300.5v2M420.5 1300.5v2M422.3 1300.5v2M424.0 1300.5v2M425.4 1300.5v2M426.6 1300.5v3.5M435.0 1300.5v2M439.9 1300.5v2M443.4 1300.5v2M446.1 1300.5v2M448.3 1300.5v2M450.2 1300.5v2M451.8 1300.5v2M453.2 1300.5v2M454.5 1300.5v3.5M462.9 1300.5v2M467.8 1300.5v2M471.3 1300.5v2M474.0 1300.5v2M476.2 1300.5v2M478.0 1300.5v2M479.7 1300.5v2M481.1 1300.5v2M482.4 1300.5v3.5M490.7 1300.5v2M495.6 1300.5v2M499.1 1300.5v2M501.8 1300.5v2M504.0 1300.5v2M505.9 1300.5v2M507.5 1300.5v2M508.9 1300.5v2M510.2 1300.5v3.5M398 1300.5h-3.5M398 1295.3h-2M398 1290.0h-2M398 1284.8h-2M398 1279.5h-2M398 1274.3h-3.5M398 1269.1h-2M398 1263.8h-2M398 1258.6h-2M398 1253.3h-2M398 1248.1h-3.5M398 1242.9h-2M398 1237.6h-2M398 1232.4h-2M398 1227.1h-2M398 1221.9h-3.5M398 1216.7h-2M398 1211.4h-2M398 1206.2h-2M398 1200.9h-2M398 1195.7h-3.5" stroke="#111" stroke-width="1" fill="none"/>
<text transform="translate(397.8 1314.8) scale(0.8 1)" x="-5.28" y="0" font-size="9.5" font-family='"Liberation Sans", sans-serif' fill="#222" stroke="#222" stroke-width="0.25">10<tspan dy="-4.0" font-size="7.6">0</tspan></text>
<text transform="translate(425.6 1314.8) scale(0.8 1)" x="-5.28" y="0" font-size="9.5" font-family='"Liberation Sans", sans-serif' fill="#222" stroke="#222" stroke-width="0.25">10<tspan dy="-4.0" font-size="7.6">1</tspan></text>
<text transform="translate(453.5 1314.8) scale(0.8 1)" x="-5.28" y="0" font-size="9.5" font-family='"Liberation Sans", sans-serif' fill="#222" stroke="#222" stroke-width="0.25">10<tspan dy="-4.0" font-size="7.6">2</tspan></text>
<text transform="translate(481.4 1314.8) scale(0.8 1)" x="-5.28" y="0" font-size="9.5" font-family='"Liberation Sans", sans-serif' fill="#222" stroke="#222" stroke-width="0.25">10<tspan dy="-4.0" font-size="7.6">3</tspan></text>
<text transform="translate(509.2 1314.8) scale(0.8 1)" x="-5.28" y="0" font-size="9.5" font-family='"Liberation Sans", sans-serif' fill="#222" stroke="#222" stroke-width="0.25">10<tspan dy="-4.0" font-size="7.6">4</tspan></text>
<text x="391.5" y="1300.5" font-size="8.5" text-anchor="middle" font-family='"Liberation Sans", sans-serif' fill="#222" transform="rotate(-90 391.5 1300.5)">0</text>
<text x="391.5" y="1274.3" font-size="8.5" text-anchor="middle" font-family='"Liberation Sans", sans-serif' fill="#222" transform="rotate(-90 391.5 1274.3)">5</text>
<text x="391.5" y="1248.1" font-size="8.5" text-anchor="middle" font-family='"Liberation Sans", sans-serif' fill="#222" transform="rotate(-90 391.5 1248.1)">10</text>
<text x="391.5" y="1221.9" font-size="8.5" text-anchor="middle" font-family='"Liberation Sans", sans-serif' fill="#222" transform="rotate(-90 391.5 1221.9)">15</text>
<text x="391.5" y="1195.7" font-size="8.5" text-anchor="middle" font-family='"Liberation Sans", sans-serif' fill="#222" transform="rotate(-90 391.5 1195.7)">20</text>
<path d="M440.4 1234.6V1248.1M440.4 1241.6H511" stroke="#222" stroke-width="1" fill="none"/>
<text x="477.4" y="1250.4" font-size="7.5" text-anchor="start" font-family='"Liberation Sans", sans-serif' fill="#222">M1</text>
<text x="500.5" y="1212" font-size="14" text-anchor="end" font-family='"Liberation Sans", sans-serif' fill="#111">47%</text>
<text x="501" y="1229" font-size="14" text-anchor="end" font-family='"Liberation Sans", sans-serif' fill="#111">Mean 93</text>
<text x="79" y="1157" font-size="17" text-anchor="middle" font-weight="bold" font-family='"Liberation Sans", sans-serif' fill="#111">CCR7</text>
<text x="449" y="1157" font-size="17" text-anchor="middle" font-weight="bold" font-family='"Liberation Sans", sans-serif' fill="#111">CCR7</text>
<text x="77" y="1334.5" font-size="17" text-anchor="middle" font-weight="bold" font-family='"Liberation Sans", sans-serif' fill="#111">CCR7</text>
<text x="450.7" y="1334.5" font-size="17" text-anchor="middle" font-weight="bold" font-family='"Liberation Sans", sans-serif' fill="#111">CCR7</text>
<path d="M182.7 1074.2H165" stroke="#111" stroke-width="2.6" fill="none"/>
<path d="M152.5 1074.2L165 1067.9V1080.5Z" stroke="#111" stroke-width="1.8" fill="#fff" stroke-linejoin="miter"/>
<path d="M344 1074.2H363" stroke="#111" stroke-width="2.6" fill="none"/>
<path d="M376.5 1074.2L363 1067.9V1080.5Z" stroke="#111" stroke-width="1.8" fill="#fff" stroke-linejoin="miter"/>
<path d="M182.7 1249.3H165" stroke="#111" stroke-width="2.6" fill="none"/>
<path d="M152.5 1249.3L165 1243.0V1255.6Z" stroke="#111" stroke-width="1.8" fill="#fff" stroke-linejoin="miter"/>
<path d="M344 1249.3H363" stroke="#111" stroke-width="2.6" fill="none"/>
<path d="M376.5 1249.3L363 1243.0V1255.6Z" stroke="#111" stroke-width="1.8" fill="#fff" stroke-linejoin="miter"/>
<path transform="scale(.5)" d="M0 0m539 2116h5m-2 36h5m0-16h5m-4-1h5m-4-24h5m-5 37h5m-4-26h5m-5 26h5m-4 16h5m-4-9h5m-5 4h5m-4-35h5m-5 3h5m-5 14h5m-5 5h5m-5 16h5m-4-10h5m-5 1h5m-3-43h5m-5 19h5m-5 8h5m-5 32h5m-4-36h5m-5 3h5m-5 7h5m-5 3h5m-5 2h5m-5 3h5m-4-38h5m-5 39h5m-5 1h5m-5 10h5m-5 10h5m-4-44h5m-5 19h5m-4-37h5m-5 5h5m-5 18h5m-5 21h5m-5 7h5m-4-49h5m-5 9h5m-5 8h5m-5 6h5m-5 3h5m-5 3h5m-5 8h5m-4-17h5m-5 1h5m-5 7h5m-5 4h5m-5 8h5m-5 13h5m-5 6h5m-4-35h5m-5 3h5m-5 3h5m-5 15h5m-5 4h5m-4-49h5m-5 14h5m-5 4h5m-5 5h5m-5 3h5m-5 13h5m-5 1h5m-5 1h5m-5 12h5m-4-39h5m-5 4h5m-5 3h5m-5 8h5m-5 2h5m-5 8h5m-5 1h5m-4-38h5m-5 4h5m-5 3h5m-5 12h5m-5 3h5m-5 4h5m-5 4h5m-5 1h5m-5 5h5m-5 1h5m-5 13h5m-4-48h5m-5 7h5m-5 17h5m-5 5h5m-4-33h5m-5 13h5m-5 3h5m-5 1h5m-5 2h5m-5 2h5m-5 1h5m-5 2h5m-5 11h5m-5 8h5m-4-51h5m-5 6h5m-5 2h5m-5 1h5m-5 8h5m-5 2h5m-5 1h5m-5 2h5m-5 6h5m-5 1h5m-5 12h5m-5 2h5m-5 4h5m-4-36h5m-5 7h5m-5 1h5m-5 9h5m-5 1h5m-5 4h5m-5 3h5m-5 5h5m-5 21h5m-4-53h5m-5 2h5m-5 4h5m-5 11h5m-5 2h5m-5 4h5m-5 1h5m-5 8h5m-5 1h5m-5 7h5m-5 5h5m-4-62h5m-5 12h5m-5 24h5m-5 1h5m-5 2h5m-5 5h5m-5 5h5m-5 2h5m-5 3h5m-5 5h5m-4-39h5m-5 12h5m-5 2h5m-5 3h5m-5 20h5m-5 9h5m-4-58h5m-5 6h5m-5 3h5m-5 15h5m-5 7h5m-5 1h5m-5 4h5m-5 1h5m-5 1h5m-5 4h5m-5 1h5m-5 6h5m-5 11h5m-4-46h5m-5 3h5m-5 5h5m-5 3h5m-5 1h5m-5 13h5m-5 3h5m-5 10h5m-5 13h5m-4-60h5m-5 4h5m-5 7h5m-5 5h5m-5 19h5m-5 3h5m-5 6h5m-4-43h5m-5 1h5m-5 17h5m-5 6h5m-5 2h5m-5 2h5m-5 3h5m-5 1h5m-5 2h5m-5 11h5m-5 7h5m-5 4h5m-4-49h5m-5 5h5m-5 7h5m-5 1h5m-5 2h5m-5 8h5m-5 5h5m-5 4h5m-5 3h5m-5 5h5m-5 1h5m-4-50h5m-5 1h5m-5 3h5m-5 5h5m-5 2h5m-5 1h5m-5 1h5m-5 12h5m-5 3h5m-5 3h5m-5 2h5m-5 1h5m-5 1h5m-4-4h5m-5 4h5m-5 4h5m-5 16h5m-4-41h5m-5 5h5m-5 4h5m-5 6h5m-5 9h5m-5 4h5m-5 1h5m-5 4h5m-4-41h5m-5 17h5m-5 2h5m-5 2h5m-5 9h5m-4-30h5m-5 6h5m-5 5h5m-5 4h5m-5 1h5m-5 3h5m-5 3h5m-5 9h5m-5 4h5m-5 7h5m-4-51h5m-5 4h5m-5 2h5m-5 20h5m-5 5h5m-5 5h5m-5 8h5m-5 23h5m-4-52h5m-5 2h5m-5 10h5m-5 1h5m-5 15h5m-5 16h5m-4-44h5m-5 5h5m-5 3h5m-5 2h5m-5 4h5m-5 4h5m-5 1h5m-5 6h5m-5 26h5m-4-51h5m-5 4h5m-5 9h5m-5 8h5m-4-49h5m-5 24h5m-5 6h5m-5 6h5m-5 2h5m-5 3h5m-4-13h5m-5 9h5m-5 1h5m-5 16h5m-5 5h5m-5 3h5m-5 5h5m-5 10h5m-4-63h5m-5 20h5m-4-7h5m-5 3h5m-5 4h5m-5 9h5m-5 2h5m-5 13h5m-4-18h5m-5 8h5m-4-13h5m-5 3h5m-5 8h5m-5 3h5m-4-21h5m-5 16h5m-4-19h5m-5 19h5m-4 11h5m-4-36h5m-4 23h5m-5 1h5m-4-5h5m2 19h5m-4-18h5m-5 39h5m-4-23h5" stroke="#0a0a0a" stroke-width="5.0" fill="none"/>
<path transform="scale(.5)" d="M0 0m490 2134h3m24 13h3m0-7h3m-3 10h3m-1 4h3m-2-10h3m-3 23h3m-2-54h3m-3 15h3m-2 10h3m-2 7h3m-2-34h3m-2 8h3m-3 6h3m-3 15h3m-3 1h3m-2 22h3m-2-37h3m-2 3h3m-3 20h3m-2-14h3m-3 25h3m-2-19h3m-3 14h3m-2-21h3m-3 8h3m-3 10h3m-3 4h3m-2-12h3m-3 3h3m-3 6h3m-3 3h3m-3 1h3m-3 3h3m-2-51h3m-3 43h3m-2-13h3m-3 2h3m-3 6h3m-3 17h3m-2-28h3m-3 6h3m-3 14h3m-3 17h3m-2-34h3m-3 11h3m-3 1h3m-3 9h3m-3 2h3m-2-28h3m-3 2h3m-3 2h3m-3 1h3m-3 4h3m-3 11h3m-3 7h3m-3 6h3m-2-25h3m-3 5h3m-3 1h3m-3 2h3m-2-49h3m-3 27h3m-3 10h3m-3 4h3m-3 5h3m-3 4h3m-3 1h3m-3 2h3m-3 1h3m-3 12h3m-2-57h3m-3 13h3m-3 14h3m-3 1h3m-3 1h3m-3 6h3m-3 10h3m-2-16h3m-3 15h3m-3 6h3m-2-43h3m-3 33h3m-3 1h3m-3 4h3m-3 3h3m-3 6h3m-2-66h3m-3 17h3m-3 26h3m-3 1h3m-3 5h3m-3 3h3m-3 3h3m-2-41h3m-3 3h3m-3 21h3m-3 1h3m-3 1h3m-3 1h3m-3 10h3m-3 7h3m-2-35h3m-3 3h3m-3 8h3m-3 4h3m-3 1h3m-3 2h3m-3 3h3m-3 4h3m-3 1h3m-3 3h3m-3 3h3m-3 4h3m-3 3h3m-3 9h3m-2-54h3m-3 3h3m-3 6h3m-3 8h3m-3 2h3m-3 17h3m-3 1h3m-3 5h3m-3 1h3m-3 6h3m-2-51h3m-3 5h3m-3 3h3m-3 6h3m-3 7h3m-3 3h3m-3 1h3m-3 5h3m-3 7h3m-3 8h3m-3 15h3m-2-46h3m-3 1h3m-3 2h3m-3 3h3m-3 3h3m-3 3h3m-3 5h3m-3 1h3m-3 8h3m-3 3h3m-3 1h3m-3 1h3m-2-51h3m-3 11h3m-3 14h3m-3 21h3m-3 1h3m-2-40h3m-3 4h3m-3 3h3m-3 2h3m-3 5h3m-3 4h3m-3 5h3m-3 9h3m-3 3h3m-3 1h3m-3 7h3m-3 9h3m-2-63h3m-3 6h3m-3 2h3m-3 19h3m-3 2h3m-3 8h3m-3 2h3m-3 4h3m-3 1h3m-3 1h3m-3 1h3m-3 3h3m-3 5h3m-3 1h3m-3 3h3m-3 8h3m-2-71h3m-3 13h3m-3 9h3m-3 1h3m-3 12h3m-3 5h3m-3 9h3m-3 5h3m-3 2h3m-3 9h3m-3 3h3m-2-54h3m-3 2h3m-3 17h3m-3 5h3m-3 3h3m-3 2h3m-3 1h3m-3 1h3m-3 3h3m-3 1h3m-3 6h3m-3 10h3m-2-65h3m-3 11h3m-3 4h3m-3 3h3m-3 3h3m-3 8h3m-3 2h3m-3 3h3m-3 5h3m-3 5h3m-3 2h3m-3 3h3m-3 5h3m-3 20h3m-2-71h3m-3 10h3m-3 4h3m-3 1h3m-3 1h3m-3 2h3m-3 6h3m-3 2h3m-3 1h3m-3 6h3m-3 2h3m-3 2h3m-3 1h3m-3 3h3m-3 1h3m-3 2h3m-3 3h3m-3 10h3m-3 11h3m-2-74h3m-3 14h3m-3 9h3m-3 6h3m-3 1h3m-3 6h3m-3 1h3m-3 1h3m-3 1h3m-3 3h3m-3 7h3m-3 1h3m-3 1h3m-3 11h3m-3 1h3m-3 4h3m-3 1h3m-2-57h3m-3 9h3m-3 6h3m-3 2h3m-3 5h3m-3 5h3m-3 3h3m-3 4h3m-3 15h3m-2-48h3m-3 3h3m-3 4h3m-3 1h3m-3 7h3m-3 2h3m-3 8h3m-3 2h3m-3 4h3m-3 3h3m-3 1h3m-3 3h3m-3 3h3m-3 1h3m-3 3h3m-3 4h3m-3 1h3m-3 11h3m-2-63h3m-3 12h3m-3 1h3m-3 5h3m-3 2h3m-3 1h3m-3 2h3m-3 1h3m-3 3h3m-3 7h3m-3 2h3m-3 1h3m-3 1h3m-3 3h3m-3 2h3m-3 1h3m-3 2h3m-3 5h3m-2-56h3m-3 11h3m-3 1h3m-3 12h3m-3 3h3m-3 6h3m-3 2h3m-3 1h3m-3 3h3m-3 2h3m-3 3h3m-3 5h3m-3 4h3m-3 2h3m-3 4h3m-3 1h3m-3 11h3m-2-60h3m-3 1h3m-3 7h3m-3 2h3m-3 5h3m-3 1h3m-3 8h3m-3 5h3m-3 11h3m-3 3h3m-3 2h3m-2-49h3m-3 6h3m-3 11h3m-3 6h3m-3 1h3m-3 1h3m-3 2h3m-3 3h3m-3 1h3m-3 1h3m-3 1h3m-3 2h3m-3 4h3m-3 4h3m-3 2h3m-3 17h3m-2-54h3m-3 2h3m-3 6h3m-3 3h3m-3 3h3m-3 2h3m-3 1h3m-3 1h3m-3 1h3m-3 4h3m-3 6h3m-3 1h3m-3 5h3m-3 1h3m-3 3h3m-3 12h3m-2-57h3m-3 5h3m-3 2h3m-3 1h3m-3 5h3m-3 1h3m-3 1h3m-3 3h3m-3 2h3m-3 1h3m-3 1h3m-3 1h3m-3 1h3m-3 4h3m-3 4h3m-3 3h3m-3 2h3m-3 1h3m-2-40h3m-3 4h3m-3 13h3m-3 1h3m-3 4h3m-3 3h3m-3 7h3m-3 1h3m-3 1h3m-3 4h3m-3 1h3m-3 3h3m-3 1h3m-3 1h3m-3 2h3m-2-54h3m-3 16h3m-3 6h3m-3 3h3m-3 2h3m-3 3h3m-3 2h3m-3 2h3m-3 4h3m-3 2h3m-3 3h3m-3 2h3m-3 1h3m-3 1h3m-3 1h3m-3 2h3m-3 3h3m-3 3h3m-3 6h3m-3 5h3m-3 2h3m-2-55h3m-3 4h3m-3 3h3m-3 6h3m-3 1h3m-3 1h3m-3 3h3m-3 1h3m-3 4h3m-3 2h3m-3 2h3m-3 1h3m-3 4h3m-3 2h3m-3 4h3m-3 1h3m-3 1h3m-3 4h3m-3 7h3m-3 3h3m-2-66h3m-3 11h3m-3 9h3m-3 2h3m-3 1h3m-3 3h3m-3 3h3m-3 1h3m-3 6h3m-3 3h3m-3 2h3m-3 5h3m-3 2h3m-3 2h3m-3 3h3m-3 1h3m-3 2h3m-3 2h3m-3 5h3m-3 2h3m-2-59h3m-3 9h3m-3 5h3m-3 5h3m-3 1h3m-3 1h3m-3 2h3m-3 5h3m-3 3h3m-3 1h3m-3 5h3m-3 1h3m-3 1h3m-3 1h3m-3 6h3m-3 1h3m-3 2h3m-3 3h3m-3 7h3m-2-61h3m-3 6h3m-3 3h3m-3 1h3m-3 1h3m-3 2h3m-3 2h3m-3 2h3m-3 2h3m-3 2h3m-3 5h3m-3 1h3m-3 1h3m-3 2h3m-3 2h3m-3 1h3m-3 1h3m-3 2h3m-3 1h3m-3 1h3m-3 1h3m-3 2h3m-3 1h3m-3 1h3m-3 3h3m-3 1h3m-3 2h3m-3 1h3m-3 2h3m-3 15h3m-2-78h3m-3 9h3m-3 8h3m-3 1h3m-3 8h3m-3 1h3m-3 1h3m-3 2h3m-3 2h3m-3 4h3m-3 1h3m-3 1h3m-3 2h3m-3 7h3m-3 2h3m-3 6h3m-3 1h3m-3 1h3m-3 3h3m-3 1h3m-3 9h3m-3 4h3m-3 3h3m-2-61h3m-3 1h3m-3 6h3m-3 6h3m-3 2h3m-3 1h3m-3 2h3m-3 2h3m-3 3h3m-3 8h3m-3 1h3m-3 4h3m-3 1h3m-3 12h3m-2-48h3m-3 3h3m-3 7h3m-3 1h3m-3 8h3m-3 2h3m-3 2h3m-3 1h3m-3 1h3m-3 2h3m-3 1h3m-3 3h3m-3 2h3m-3 2h3m-3 5h3m-3 3h3m-3 4h3m-3 2h3m-3 5h3m-2-57h3m-3 8h3m-3 3h3m-3 1h3m-3 5h3m-3 2h3m-3 1h3m-3 1h3m-3 4h3m-3 2h3m-3 8h3m-3 1h3m-3 1h3m-3 3h3m-3 1h3m-3 1h3m-3 1h3m-3 7h3m-2-62h3m-3 15h3m-3 1h3m-3 2h3m-3 1h3m-3 2h3m-3 6h3m-3 5h3m-3 1h3m-3 1h3m-3 1h3m-3 3h3m-3 2h3m-3 2h3m-3 1h3m-3 5h3m-3 8h3m-3 1h3m-3 2h3m-3 3h3m-3 7h3m-3 1h3m-2-84h3m-3 28h3m-3 1h3m-3 6h3m-3 1h3m-3 2h3m-3 1h3m-3 5h3m-3 1h3m-3 1h3m-3 8h3m-3 1h3m-3 7h3m-3 1h3m-3 3h3m-3 1h3m-3 1h3m-3 3h3m-3 8h3m-3 4h3m-3 3h3m-2-51h3m-3 4h3m-3 1h3m-3 7h3m-3 3h3m-3 4h3m-3 1h3m-3 10h3m-3 5h3m-3 12h3m-2-59h3m-3 2h3m-3 5h3m-3 2h3m-3 2h3m-3 1h3m-3 3h3m-3 6h3m-3 1h3m-3 1h3m-3 2h3m-3 1h3m-3 1h3m-3 2h3m-3 2h3m-3 4h3m-3 6h3m-3 13h3m-2-53h3m-3 4h3m-3 6h3m-3 4h3m-3 5h3m-3 4h3m-3 2h3m-3 3h3m-3 7h3m-3 3h3m-3 2h3m-3 5h3m-3 7h3m-3 8h3m-2-82h3m-3 30h3m-3 5h3m-3 1h3m-3 2h3m-3 1h3m-3 2h3m-3 2h3m-3 2h3m-3 1h3m-3 4h3m-3 1h3m-3 3h3m-3 4h3m-3 5h3m-3 4h3m-3 1h3m-3 1h3m-3 5h3m-3 2h3m-2-50h3m-3 2h3m-3 1h3m-3 2h3m-3 2h3m-3 1h3m-3 6h3m-3 4h3m-3 2h3m-3 2h3m-3 2h3m-3 1h3m-3 1h3m-3 3h3m-3 2h3m-3 3h3m-3 1h3m-3 1h3m-3 1h3m-3 1h3m-3 6h3m-3 3h3m-3 1h3m-3 6h3m-3 4h3m-2-72h3m-3 1h3m-3 4h3m-3 4h3m-3 3h3m-3 8h3m-3 1h3m-3 2h3m-3 1h3m-3 10h3m-3 3h3m-3 2h3m-3 2h3m-3 4h3m-3 1h3m-3 3h3m-3 1h3m-3 3h3m-3 4h3m-3 2h3m-3 2h3m-3 1h3m-3 4h3m-3 9h3m-2-68h3m-3 6h3m-3 3h3m-3 3h3m-3 5h3m-3 4h3m-3 1h3m-3 12h3m-3 1h3m-3 1h3m-3 10h3m-3 2h3m-3 16h3m-2-66h3m-3 6h3m-3 8h3m-3 5h3m-3 6h3m-3 1h3m-3 1h3m-3 2h3m-3 3h3m-3 4h3m-3 3h3m-3 3h3m-3 2h3m-3 3h3m-3 7h3m-3 1h3m-3 1h3m-3 5h3m-3 1h3m-3 1h3m-3 2h3m-3 6h3m-2-72h3m-3 13h3m-3 4h3m-3 2h3m-3 2h3m-3 6h3m-3 1h3m-3 3h3m-3 2h3m-3 1h3m-3 3h3m-3 1h3m-3 2h3m-3 1h3m-3 2h3m-3 2h3m-3 1h3m-3 2h3m-3 8h3m-2-61h3m-3 17h3m-3 3h3m-3 5h3m-3 5h3m-3 2h3m-3 1h3m-3 6h3m-3 2h3m-3 2h3m-3 2h3m-3 2h3m-3 4h3m-3 5h3m-3 11h3m-3 5h3m-2-62h3m-3 8h3m-3 8h3m-3 2h3m-3 1h3m-3 1h3m-3 6h3m-3 3h3m-3 6h3m-3 10h3m-3 2h3m-3 2h3m-3 6h3m-3 6h3m-3 7h3m-2-77h3m-3 16h3m-3 1h3m-3 3h3m-3 12h3m-3 2h3m-3 1h3m-3 1h3m-3 1h3m-3 2h3m-3 8h3m-3 2h3m-3 2h3m-2-40h3m-3 5h3m-3 6h3m-3 1h3m-3 1h3m-3 1h3m-3 5h3m-3 2h3m-3 5h3m-3 4h3m-3 1h3m-3 15h3m-3 3h3m-3 3h3m-2-78h3m-3 19h3m-3 4h3m-3 5h3m-3 2h3m-3 11h3m-3 4h3m-3 2h3m-3 1h3m-3 1h3m-3 5h3m-3 3h3m-3 2h3m-3 4h3m-3 3h3m-3 2h3m-3 2h3m-3 14h3m-2-51h3m-3 1h3m-3 4h3m-3 6h3m-3 1h3m-3 4h3m-3 1h3m-3 1h3m-3 6h3m-3 2h3m-3 3h3m-3 4h3m-3 7h3m-2-44h3m-3 4h3m-3 2h3m-3 1h3m-3 3h3m-3 3h3m-3 3h3m-3 5h3m-3 3h3m-3 2h3m-3 9h3m-3 3h3m-3 3h3m-3 7h3m-3 1h3m-3 1h3m-3 10h3m-2-73h3m-3 1h3m-3 4h3m-3 3h3m-3 1h3m-3 11h3m-3 4h3m-3 1h3m-3 1h3m-3 3h3m-3 4h3m-3 2h3m-3 1h3m-3 8h3m-3 3h3m-3 1h3m-3 8h3m-3 1h3m-3 7h3m-2-64h3m-3 7h3m-3 1h3m-3 4h3m-3 8h3m-3 2h3m-3 4h3m-3 8h3m-3 7h3m-3 6h3m-3 2h3m-3 2h3m-3 7h3m-2-54h3m-3 10h3m-3 6h3m-3 7h3m-3 1h3m-3 6h3m-3 7h3m-3 3h3m-3 4h3m-3 6h3m-3 2h3m-3 1h3m-3 2h3m-3 7h3m-3 2h3m-2-54h3m-3 11h3m-3 2h3m-3 6h3m-3 3h3m-3 2h3m-3 6h3m-3 4h3m-3 5h3m-3 6h3m-3 1h3m-3 6h3m-3 2h3m-2-61h3m-3 11h3m-3 5h3m-3 3h3m-3 7h3m-3 5h3m-3 22h3m-3 1h3m-3 3h3m-2-66h3m-3 9h3m-3 8h3m-3 1h3m-3 2h3m-3 1h3m-3 13h3m-3 11h3m-3 8h3m-3 11h3m-3 14h3m-2-84h3m-3 11h3m-3 12h3m-3 5h3m-3 2h3m-3 3h3m-3 20h3m-3 5h3m-2-51h3m-3 11h3m-3 9h3m-3 17h3m-3 1h3m-3 4h3m-3 1h3m-3 1h3m-3 3h3m-3 4h3m-3 2h3m-3 4h3m-3 1h3m-3 3h3m-2-45h3m-3 2h3m-3 8h3m-3 2h3m-3 1h3m-3 6h3m-3 5h3m-3 3h3m-3 1h3m-3 2h3m-3 1h3m-3 1h3m-3 4h3m-3 16h3m-2-43h3m-3 1h3m-3 5h3m-3 2h3m-3 3h3m-3 2h3m-3 5h3m-3 1h3m-3 1h3m-3 5h3m-3 5h3m-2-31h3m-3 2h3m-3 1h3m-3 25h3m-3 7h3m-3 1h3m-3 12h3m-2-45h3m-3 2h3m-3 2h3m-3 4h3m-3 10h3m-3 2h3m-2-43h3m-3 16h3m-3 6h3m-3 11h3m-2-1h3m-3 6h3m-3 10h3m-3 5h3m-3 3h3m-3 12h3m-3 3h3m-3 2h3m-2-46h3m-3 7h3m-3 2h3m-3 5h3m-2-34h3m-3 22h3m-3 11h3m-3 1h3m-3 28h3m-2-80h3m-3 30h3m-3 3h3m-3 3h3m-3 4h3m-3 1h3m-3 8h3m-2-37h3m-3 11h3m-3 12h3m-3 7h3m-3 4h3m-3 3h3m-3 18h3m-3 4h3m-2-54h3m-3 10h3m-3 23h3m-3 2h3m-3 6h3m-2-6h3m-2-28h3m-3 11h3m-3 1h3m-3 11h3m-3 2h3m-3 18h3m-2-41h3m-3 7h3m-3 4h3m-2-27h3m-3 3h3m-3 26h3m-2-26h3m-3 7h3m-3 10h3m-3 8h3m-3 13h3m-3 2h3m-2-24h3m-3 41h3m-2-50h3m-3 26h3m-2-23h3m-3 27h3m-3 21h3m-2-40h3m-3 40h3m-3 2h3m-2-30h3m-3 14h3m-2-31h3m-2 0h3m-3 5h3m-2 40h3m-2-15h3m1-9h3m-1-17h3m-2 26h3m-2-33h3m-3 5h3m-3 14h3m6-41h3" stroke="#0a0a0a" stroke-width="2.8" fill="none"/>
<path transform="scale(.5)" d="M0 0m492 2104h2m1 44h2m8-29h2m1 22h2m2-13h2m3 28h2m0-40h2m-1 20h2m-1-39h2m-1 28h2m-2 13h2m-1-29h2m-2 14h2m-2 29h2m0-21h2m-2 39h2m-1-50h2m-2 36h2m-1-13h2m-2 21h2m-2 6h2m-1-29h2m-2 10h2m-1-6h2m-1-4h2m0 3h2m-2 5h2m-1-13h2m-2 9h2m-2 5h2m-2 16h2m-1-74h2m-2 31h2m-2 10h2m-2 2h2m-1-16h2m-2 12h2m-2 2h2m-2 33h2m-1-83h2m-2 28h2m-2 10h2m-2 13h2m-2 11h2m-2 21h2m-1 1h2m-1-57h2m-1 26h2m-2 4h2m-2 12h2m-1-57h2m-2 21h2m-2 11h2m-2 6h2m-2 9h2m-2 31h2m-1-46h2m-2 1h2m-2 8h2m-2 13h2m-1-33h2m-2 14h2m-2 1h2m-2 1h2m-2 1h2m-2 8h2m-2 28h2m-1-83h2m-2 28h2m-2 7h2m-2 5h2m-2 12h2m-1-5h2m-2 4h2m-2 7h2m-2 2h2m-2 11h2m-1-37h2m-2 8h2m-2 6h2m-2 22h2m-1-62h2m-2 28h2m-2 5h2m-2 9h2m-2 5h2m-2 5h2m-1-20h2m-2 16h2m-2 4h2m-2 2h2m-2 1h2m-2 4h2m-2 4h2m-1-67h2m-2 18h2m-2 29h2m-1-69h2m-2 41h2m-2 5h2m-2 4h2m-2 2h2m-2 6h2m-2 5h2m-2 15h2m-2 7h2m-2 1h2m-2 8h2m-1-42h2m-2 4h2m-2 1h2m-2 2h2m-2 3h2m-2 3h2m-2 18h2m-1-105h2m-2 53h2m-2 12h2m-2 27h2m-1-46h2m-2 1h2m-2 17h2m-2 21h2m-2 3h2m-2 4h2m-2 22h2m-1-80h2m-2 16h2m-2 6h2m-2 20h2m-2 28h2m-1-50h2m-2 29h2m-2 6h2m-2 8h2m-2 5h2m-2 15h2m-2 10h2m-1-74h2m-2 6h2m-2 4h2m-2 8h2m-2 5h2m-2 1h2m-2 15h2m-2 4h2m-2 9h2m-1-55h2m-2 3h2m-2 27h2m-2 4h2m-2 3h2m-2 3h2m-2 6h2m-2 15h2m-2 3h2m-1-59h2m-2 6h2m-2 16h2m-2 11h2m-2 8h2m-1-45h2m-2 2h2m-2 13h2m-2 21h2m-2 12h2m-2 5h2m-2 3h2m-2 17h2m-1-71h2m-2 10h2m-2 2h2m-2 15h2m-2 2h2m-2 15h2m-2 1h2m-2 1h2m-2 3h2m-2 5h2m-2 7h2m-1-59h2m-2 8h2m-2 24h2m-2 8h2m-2 1h2m-2 19h2m-2 9h2m-2 4h2m-1-91h2m-2 40h2m-2 1h2m-2 11h2m-2 3h2m-2 13h2m-2 4h2m-2 18h2m-1-65h2m-2 7h2m-2 9h2m-2 13h2m-2 3h2m-2 8h2m-2 2h2m-2 3h2m-1-48h2m-2 13h2m-2 7h2m-2 6h2m-2 14h2m-2 3h2m-2 6h2m-2 12h2m-1-39h2m-2 1h2m-2 1h2m-2 4h2m-2 1h2m-2 1h2m-2 3h2m-2 8h2m-2 2h2m-2 3h2m-2 10h2m-1-39h2m-2 5h2m-2 9h2m-2 9h2m-2 7h2m-2 1h2m-2 9h2m-1-54h2m-2 7h2m-2 6h2m-2 7h2m-2 3h2m-2 1h2m-2 13h2m-2 22h2m-2 5h2m-1-66h2m-2 3h2m-2 2h2m-2 3h2m-2 7h2m-2 6h2m-2 1h2m-2 11h2m-2 9h2m-2 3h2m-1-56h2m-2 18h2m-2 8h2m-2 6h2m-2 4h2m-2 1h2m-2 8h2m-2 4h2m-2 15h2m-2 3h2m-1-49h2m-2 9h2m-2 3h2m-2 4h2m-2 5h2m-2 7h2m-2 6h2m-2 3h2m-2 11h2m-1-58h2m-2 6h2m-2 3h2m-2 6h2m-2 6h2m-2 6h2m-2 3h2m-2 7h2m-2 8h2m-2 1h2m-2 6h2m-2 5h2m-2 4h2m-1-60h2m-2 2h2m-2 15h2m-2 4h2m-2 4h2m-2 1h2m-2 8h2m-2 3h2m-2 5h2m-2 2h2m-2 5h2m-2 8h2m-1-59h2m-2 9h2m-2 10h2m-2 8h2m-2 2h2m-2 11h2m-2 5h2m-2 2h2m-1-54h2m-2 12h2m-2 10h2m-2 4h2m-2 4h2m-2 1h2m-2 2h2m-2 4h2m-2 3h2m-2 4h2m-2 1h2m-2 5h2m-2 3h2m-2 1h2m-2 3h2m-2 2h2m-2 5h2m-1-71h2m-2 9h2m-2 7h2m-2 3h2m-2 3h2m-2 3h2m-2 5h2m-2 2h2m-2 2h2m-2 1h2m-2 6h2m-2 2h2m-2 2h2m-2 1h2m-2 3h2m-2 1h2m-2 10h2m-1-51h2m-2 3h2m-2 10h2m-2 1h2m-2 5h2m-2 9h2m-2 1h2m-2 1h2m-2 5h2m-2 3h2m-2 19h2m-2 2h2m-2 4h2m-2 7h2m-1-90h2m-2 37h2m-2 18h2m-2 5h2m-2 3h2m-2 14h2m-1-60h2m-2 28h2m-2 4h2m-2 1h2m-2 4h2m-2 3h2m-2 3h2m-2 1h2m-2 11h2m-1-66h2m-2 26h2m-2 10h2m-2 2h2m-2 1h2m-2 2h2m-2 3h2m-2 19h2m-2 7h2m-1-47h2m-2 7h2m-2 13h2m-2 4h2m-2 1h2m-2 12h2m-2 3h2m-2 3h2m-2 10h2m-1-57h2m-2 14h2m-2 6h2m-2 5h2m-2 2h2m-2 12h2m-2 7h2m-2 10h2m-2 1h2m-1-64h2m-2 25h2m-2 5h2m-2 6h2m-2 4h2m-2 2h2m-2 3h2m-2 9h2m-2 3h2m-2 1h2m-2 5h2m-1-91h2m-2 11h2m-2 18h2m-2 1h2m-2 16h2m-2 5h2m-2 2h2m-2 6h2m-2 17h2m-2 9h2m-2 6h2m-2 2h2m-1-54h2m-2 6h2m-2 8h2m-2 10h2m-2 7h2m-2 1h2m-2 1h2m-2 3h2m-2 6h2m-2 8h2m-2 10h2m-2 2h2m-2 3h2m-1-74h2m-2 6h2m-2 14h2m-2 2h2m-2 10h2m-2 12h2m-2 16h2m-1-63h2m-2 19h2m-2 3h2m-2 2h2m-2 21h2m-2 2h2m-2 2h2m-2 1h2m-2 3h2m-2 3h2m-1-45h2m-2 10h2m-2 7h2m-2 1h2m-2 5h2m-2 11h2m-2 15h2m-1-46h2m-2 11h2m-2 6h2m-2 1h2m-2 2h2m-2 3h2m-2 1h2m-2 2h2m-2 11h2m-2 6h2m-2 6h2m-2 1h2m-1-66h2m-2 4h2m-2 7h2m-2 9h2m-2 9h2m-2 4h2m-2 7h2m-2 2h2m-2 3h2m-2 1h2m-2 2h2m-2 1h2m-2 5h2m-2 7h2m-1-48h2m-2 1h2m-2 13h2m-2 2h2m-2 4h2m-2 5h2m-2 1h2m-2 5h2m-2 6h2m-2 2h2m-2 2h2m-2 3h2m-2 18h2m-1-105h2m-2 19h2m-2 29h2m-2 15h2m-2 1h2m-2 6h2m-2 2h2m-2 1h2m-2 1h2m-2 2h2m-2 8h2m-2 4h2m-2 4h2m-2 16h2m-1-105h2m-2 26h2m-2 18h2m-2 14h2m-2 2h2m-2 2h2m-2 1h2m-2 9h2m-2 3h2m-2 18h2m-2 3h2m-1-58h2m-2 1h2m-2 8h2m-2 12h2m-2 3h2m-2 3h2m-2 3h2m-2 3h2m-2 8h2m-2 1h2m-2 7h2m-2 16h2m-1-57h2m-2 1h2m-2 5h2m-2 2h2m-2 5h2m-2 6h2m-2 18h2m-2 5h2m-2 16h2m-1-88h2m-2 13h2m-2 4h2m-2 11h2m-2 2h2m-2 1h2m-2 8h2m-2 4h2m-2 3h2m-2 4h2m-2 2h2m-2 22h2m-2 16h2m-1-81h2m-2 9h2m-2 18h2m-2 3h2m-2 15h2m-2 6h2m-2 24h2m-1-76h2m-2 11h2m-2 1h2m-2 5h2m-2 14h2m-2 14h2m-2 18h2m-1-58h2m-2 2h2m-2 14h2m-2 1h2m-2 3h2m-2 10h2m-2 8h2m-2 8h2m-2 6h2m-2 22h2m-1-72h2m-2 3h2m-2 16h2m-2 8h2m-2 18h2m-2 3h2m-2 1h2m-2 5h2m-2 11h2m-2 8h2m-1-76h2m-2 2h2m-2 13h2m-2 11h2m-2 2h2m-2 5h2m-2 8h2m-2 10h2m-2 9h2m-1-61h2m-2 8h2m-2 1h2m-2 10h2m-2 20h2m-2 2h2m-2 6h2m-2 3h2m-2 3h2m-2 16h2m-1-75h2m-2 4h2m-2 18h2m-2 5h2m-2 1h2m-2 10h2m-2 16h2m-2 5h2m-2 3h2m-2 1h2m-2 5h2m-2 8h2m-2 10h2m-1-121h2m-2 33h2m-2 13h2m-2 12h2m-2 49h2m-1-61h2m-2 30h2m-2 2h2m-2 19h2m-2 12h2m-2 5h2m-1-58h2m-2 3h2m-2 21h2m-2 2h2m-2 7h2m-2 1h2m-2 16h2m-1-35h2m-2 8h2m-1-34h2m-2 7h2m-2 24h2m-1-14h2m-2 9h2m-2 5h2m-2 1h2m-2 2h2m-2 8h2m-1-68h2m-2 39h2m-2 1h2m-2 1h2m-2 25h2m-2 29h2m-1-51h2m-2 12h2m-2 4h2m-2 5h2m-1-40h2m-2 14h2m-2 8h2m-2 13h2m-2 15h2m-1-47h2m-2 2h2m-2 11h2m-2 3h2m-2 7h2m-2 6h2m-2 13h2m-2 12h2m-1-63h2m-2 22h2m-2 19h2m-2 1h2m-2 3h2m-2 7h2m-2 6h2m-2 16h2m-1-51h2m-2 10h2m-2 19h2m-2 20h2m-1-62h2m-2 3h2m-2 11h2m-2 4h2m-2 11h2m-2 4h2m-2 11h2m-1-54h2m-2 10h2m-2 11h2m-2 1h2m-1 16h2m-2 24h2m-2 7h2m-1-65h2m-2 5h2m-1 1h2m-2 39h2m-1-31h2m-2 37h2m-1-48h2m-2 6h2m-1 25h2m-2 2h2m-2 16h2m-1-39h2m-2 4h2m-2 15h2m-2 10h2m-1-17h2m-2 6h2m-1 3h2m0-38h2m-2 70h2m-2 1h2m-1-54h2m-2 13h2m-2 16h2m-2 31h2m-1-108h2m-2 74h2m-2 34h2m-1-69h2m-1-5h2m-2 22h2m-1 13h2m-2 6h2m1 8h2m-2 3h2m-1 29h2m-1-77h2m-2 45h2m-1 18h2m-1-51h2m-2 31h2m-1-3h2m-2 1h2m0-27h2m-2 13h2m2-50h2m-2 69h2m-1-36h2m-2 36h2m1-18h2" stroke="#0a0a0a" stroke-width="2.0" fill="none"/>
<path transform="scale(.5)" d="M0 0m452 2151h2m-1-28h2m-1 39h2m-1-38h2m-2 8h2m-1-5h2m0 22h2m0-33h2m-2 27h2m-2 1h2m-2 7h2m-1-18h2m-1-19h2m-2 7h2m-2 21h2m-2 6h2m-2 6h2m-1-28h2m-2 5h2m0 10h2m-2 5h2m-1-16h2m-2 7h2m-2 13h2m-1-24h2m-2 21h2m-1-5h2m-1-31h2m-2 7h2m-2 10h2m-2 5h2m-2 9h2m-2 7h2m-1-13h2m-2 24h2m-1-25h2m-1-16h2m-2 4h2m-2 3h2m-2 1h2m-1 12h2m-2 3h2m-1-18h2m-2 8h2m-2 23h2m-2 5h2m-1-25h2m-2 1h2m-2 10h2m-2 11h2m-2 4h2m-2 3h2m-1-11h2m-2 2h2m-1-20h2m-2 6h2m-1-7h2m-2 5h2m-2 7h2m-2 7h2m-2 4h2m-2 6h2m-2 8h2m-1-45h2m-2 4h2m-2 4h2m-2 13h2m-2 3h2m-2 1h2m-2 2h2m-2 1h2m-1-46h2m-2 22h2m-2 8h2m-2 16h2m-2 1h2m-2 10h2m-1-61h2m-2 13h2m-2 1h2m-2 8h2m-2 1h2m-1-18h2m-2 4h2m-2 10h2m-2 2h2m-2 10h2m-2 1h2m-2 1h2m-2 14h2m-2 8h2m-1-33h2m-2 4h2m-2 1h2m-2 16h2m-2 15h2m-1-51h2m-2 30h2m-2 5h2m-2 2h2m-2 4h2m-2 4h2m-2 1h2m-2 1h2m-1-42h2m-2 21h2m-2 12h2m-2 1h2m-2 1h2m-1-25h2m-2 1h2m-2 1h2m-2 2h2m-2 5h2m-2 6h2m-2 8h2m-2 10h2m-1-29h2m-2 5h2m-2 2h2m-2 5h2m-2 11h2m-2 1h2m-2 6h2m-1-38h2m-2 4h2m-2 6h2m-2 5h2m-2 4h2m-2 1h2m-2 2h2m-1-46h2m-2 11h2m-2 2h2m-2 7h2m-2 10h2m-2 4h2m-2 2h2m-2 9h2m-2 2h2m-2 2h2m-2 2h2m-1-39h2m-2 17h2m-2 8h2m-2 11h2m-2 4h2m-1-34h2m-2 3h2m-2 5h2m-2 9h2m-2 4h2m-2 2h2m-2 1h2m-2 6h2m-2 2h2m-1-38h2m-2 17h2m-2 8h2m-2 1h2m-2 13h2m-2 6h2m-2 9h2m-2 7h2m-2 1h2m-1-53h2m-2 6h2m-2 9h2m-2 1h2m-2 9h2m-2 10h2m-2 2h2m-2 5h2m-1-30h2m-2 6h2m-2 11h2m-1-29h2m-2 11h2m-2 2h2m-2 1h2m-2 1h2m-2 1h2m-2 4h2m-2 3h2m-2 1h2m-2 1h2m-2 5h2m-2 2h2m-2 2h2m-2 3h2m-2 2h2m-1-33h2m-2 1h2m-2 3h2m-2 2h2m-2 5h2m-2 1h2m-2 5h2m-2 3h2m-2 4h2m-2 7h2m-1-26h2m-2 8h2m-2 1h2m-2 14h2m-1-26h2m-2 4h2m-2 2h2m-2 6h2m-2 4h2m-2 6h2m-2 2h2m-1-41h2m-2 7h2m-2 14h2m-2 5h2m-2 1h2m-2 4h2m-2 2h2m-2 5h2m-2 17h2m-2 7h2m-1-90h2m-2 18h2m-2 13h2m-2 25h2m-2 4h2m-2 3h2m-2 1h2m-2 2h2m-2 14h2m-1-43h2m-2 3h2m-2 2h2m-2 5h2m-2 1h2m-2 2h2m-2 3h2m-2 8h2m-2 2h2m-2 2h2m-2 1h2m-2 4h2m-1-27h2m-2 6h2m-2 3h2m-2 2h2m-2 9h2m-2 7h2m-2 12h2m-2 1h2m-2 5h2m-1-35h2m-2 4h2m-2 4h2m-2 2h2m-2 13h2m-1-15h2m-2 4h2m-2 3h2m-2 3h2m-2 6h2m-1-62h2m-2 19h2m-2 1h2m-2 8h2m-2 7h2m-2 7h2m-2 13h2m-2 4h2m-2 1h2m-2 3h2m-2 5h2m-1-32h2m-2 2h2m-2 9h2m-2 1h2m-2 13h2m-2 8h2m-1-58h2m-2 19h2m-2 17h2m-2 3h2m-2 1h2m-2 1h2m-2 15h2m-1-36h2m-2 14h2m-2 1h2m-2 3h2m-1-25h2m-2 24h2m-2 1h2m-1-24h2m-2 12h2m-2 3h2m-2 5h2m-2 3h2m-2 1h2m-2 5h2m-2 5h2m-1-38h2m-2 10h2m-2 8h2m-2 7h2m-2 2h2m-2 2h2m-2 2h2m-1-14h2m-2 6h2m-2 17h2m-2 6h2m-1-44h2m-2 6h2m-2 27h2m-1-16h2m-2 9h2m-2 1h2m0-27h2m-2 14h2m-2 2h2m-2 7h2m-2 6h2m-1-9h2m-2 13h2m-2 5h2m0-44h2m-2 31h2m-2 5h2m-2 5h2m-1-30h2m-2 3h2m-2 1h2m-2 14h2m-2 21h2m-1-41h2m-1 24h2m-1-31h2m-2 10h2m-2 17h2m-2 2h2m0-14h2m-1-11h2m-2 45h2m-1-9h2m-1 14h2m-1-18h2m-2 12h2m-1-38h2m-1 39h2m0-46h2m-2 14h2m0 1h2m-2 4h2m-1 13h2m2-13h2" stroke="#0a0a0a" stroke-width="2.4" fill="none"/>
<path transform="scale(.5)" d="M0 0m503 2131h2m1 34h2m3-13h2m-1-21h2m-2 7h2m-2 28h2m-1-24h2m-1-24h2m-1 36h2m0-4h2m1-35h2m-1 22h2m-1-14h2m-2 17h2m-2 20h2m-1-53h2m-1 4h2m-2 44h2m-1-28h2m-1-8h2m-2 29h2m-1-47h2m-2 18h2m-2 12h2m-2 19h2m-2 4h2m-2 2h2m-2 18h2m-1-35h2m-1-25h2m-2 24h2m-1-45h2m-2 23h2m-2 54h2m-1-87h2m-2 10h2m-2 38h2m-1-6h2m-2 12h2m-1-57h2m-2 47h2m-2 11h2m-2 23h2m-2 1h2m-1-54h2m-2 19h2m-2 14h2m-1-51h2m-2 16h2m-2 28h2m-1 8h2m-1-43h2m-2 14h2m-2 11h2m-2 14h2m-2 31h2m-1-59h2m1 2h2m-2 33h2m-1-22h2m-1-15h2m-2 16h2m-2 24h2m-1-46h2m-1 3h2m-2 8h2m-2 2h2m-2 5h2m-1-9h2m-2 52h2m0-68h2m-1 47h2m-1 4h2m-1 10h2m3-7h2m-1-27h2m-2 17h2m3-14h2m16-7h2" stroke="#0a0a0a" stroke-width="2.0" fill="none"/>
<path d="M262.5 1017.5V1125.3M225 1088.2H336.7" stroke="#444" stroke-width="1" fill="none"/>
<path d="M226.0 1125.3v3.5M225 1124.7h-3.5M234.3 1125.3v2M225 1116.7h-2M239.1 1125.3v2M225 1112.0h-2M242.5 1125.3v2M225 1108.7h-2M245.2 1125.3v2M225 1106.1h-2M247.4 1125.3v2M225 1104.0h-2M249.2 1125.3v2M225 1102.2h-2M250.8 1125.3v2M225 1100.6h-2M252.2 1125.3v2M225 1099.3h-2M253.5 1125.3v3.5M225 1098.0h-3.5M261.7 1125.3v2M225 1090.0h-2M266.6 1125.3v2M225 1085.3h-2M270.0 1125.3v2M225 1082.0h-2M272.7 1125.3v2M225 1079.4h-2M274.9 1125.3v2M225 1077.3h-2M276.7 1125.3v2M225 1075.5h-2M278.3 1125.3v2M225 1074.0h-2M279.7 1125.3v2M225 1072.6h-2M280.9 1125.3v3.5M225 1071.4h-3.5M289.2 1125.3v2M225 1063.4h-2M294.1 1125.3v2M225 1058.7h-2M297.5 1125.3v2M225 1055.4h-2M300.2 1125.3v2M225 1052.8h-2M302.3 1125.3v2M225 1050.7h-2M304.2 1125.3v2M225 1048.9h-2M305.8 1125.3v2M225 1047.3h-2M307.2 1125.3v2M225 1046.0h-2M308.4 1125.3v3.5M225 1044.8h-3.5M316.7 1125.3v2M225 1036.7h-2M321.5 1125.3v2M225 1032.0h-2M325.0 1125.3v2M225 1028.7h-2M327.6 1125.3v2M225 1026.1h-2M329.8 1125.3v2M225 1024.0h-2M331.6 1125.3v2M225 1022.2h-2M333.2 1125.3v2M225 1020.7h-2M334.6 1125.3v2M225 1019.3h-2M335.9 1125.3v3.5M225 1018.1h-3.5" stroke="#111" stroke-width="1" fill="none"/>
<path d="M225 1017.5H336.7V1125.3" fill="none" stroke="#444" stroke-width="0.9"/>
<path d="M225 1017.5V1125.3H336.7" fill="none" stroke="#222" stroke-width="1"/>
<text transform="translate(225.0 1139.6) scale(0.8 1)" x="-5.28" y="0" font-size="9.5" font-family='"Liberation Sans", sans-serif' fill="#222" stroke="#222" stroke-width="0.25">10<tspan dy="-4.0" font-size="7.6">0</tspan></text>
<text transform="translate(219 1125.7) rotate(-90) scale(0.9 1)" x="-5.28" y="0" font-size="9.5" font-family='"Liberation Sans", sans-serif' fill="#222" stroke="#222" stroke-width="0.25">10<tspan dy="-4.0" font-size="7.6">0</tspan></text>
<text transform="translate(252.5 1139.6) scale(0.8 1)" x="-5.28" y="0" font-size="9.5" font-family='"Liberation Sans", sans-serif' fill="#222" stroke="#222" stroke-width="0.25">10<tspan dy="-4.0" font-size="7.6">1</tspan></text>
<text transform="translate(219 1099.0) rotate(-90) scale(0.9 1)" x="-5.28" y="0" font-size="9.5" font-family='"Liberation Sans", sans-serif' fill="#222" stroke="#222" stroke-width="0.25">10<tspan dy="-4.0" font-size="7.6">1</tspan></text>
<text transform="translate(279.9 1139.6) scale(0.8 1)" x="-5.28" y="0" font-size="9.5" font-family='"Liberation Sans", sans-serif' fill="#222" stroke="#222" stroke-width="0.25">10<tspan dy="-4.0" font-size="7.6">2</tspan></text>
<text transform="translate(219 1072.4) rotate(-90) scale(0.9 1)" x="-5.28" y="0" font-size="9.5" font-family='"Liberation Sans", sans-serif' fill="#222" stroke="#222" stroke-width="0.25">10<tspan dy="-4.0" font-size="7.6">2</tspan></text>
<text transform="translate(307.4 1139.6) scale(0.8 1)" x="-5.28" y="0" font-size="9.5" font-family='"Liberation Sans", sans-serif' fill="#222" stroke="#222" stroke-width="0.25">10<tspan dy="-4.0" font-size="7.6">3</tspan></text>
<text transform="translate(219 1045.8) rotate(-90) scale(0.9 1)" x="-5.28" y="0" font-size="9.5" font-family='"Liberation Sans", sans-serif' fill="#222" stroke="#222" stroke-width="0.25">10<tspan dy="-4.0" font-size="7.6">3</tspan></text>
<text transform="translate(334.9 1139.6) scale(0.8 1)" x="-5.28" y="0" font-size="9.5" font-family='"Liberation Sans", sans-serif' fill="#222" stroke="#222" stroke-width="0.25">10<tspan dy="-4.0" font-size="7.6">4</tspan></text>
<text transform="translate(219 1019.1) rotate(-90) scale(0.9 1)" x="-5.28" y="0" font-size="9.5" font-family='"Liberation Sans", sans-serif' fill="#222" stroke="#222" stroke-width="0.25">10<tspan dy="-4.0" font-size="7.6">4</tspan></text>
<rect x="229.2" y="1056.2" width="31.6" height="30.0" fill="none" stroke="#777" stroke-width="1.6"/>
<rect x="266.2" y="1056.2" width="49.6" height="30.0" fill="none" stroke="#111" stroke-width="1.6"/>
<text x="228.5" y="1036" font-size="14" text-anchor="start" font-family='"Liberation Sans", sans-serif' fill="#111">6%</text>
<path transform="scale(.5)" d="M0 0m452 2437h2m-2 20h2m-2 6h2m-2 12h2m-2 15h2m-2 12h2m-2 12h2m-2 11h2m-2 18h2m-1-52h2m-1-23h2m-2 13h2m-2 4h2m-2 9h2m-1-45h2m-2 7h2m-2 39h2m-2 19h2m-2 13h2m-1-76h2m-2 35h2m-2 12h2m-1 2h2m-2 3h2m-2 23h2m-2 3h2m-1-89h2m-2 6h2m-2 21h2m-2 2h2m-1-5h2m-2 23h2m-2 1h2m-2 4h2m-2 29h2m-1-64h2m-2 23h2m-2 6h2m-2 1h2m-2 19h2m-2 4h2m-1-27h2m-2 2h2m-2 16h2m-2 19h2m-1-54h2m-2 5h2m-2 12h2m-2 1h2m-2 40h2m-1-37h2m-2 6h2m-2 6h2m-2 18h2m-2 9h2m-1-96h2m-2 28h2m-2 5h2m-2 3h2m-2 15h2m-2 3h2m-2 4h2m-2 10h2m-2 4h2m-2 5h2m-2 7h2m-1-40h2m-2 18h2m-2 7h2m-2 3h2m-1-32h2m-2 2h2m-2 6h2m-2 2h2m-2 5h2m-2 1h2m-2 3h2m-2 6h2m-2 8h2m-2 4h2m-2 1h2m-2 3h2m-2 9h2m-2 3h2m-1-80h2m-2 24h2m-2 13h2m-2 2h2m-2 6h2m-2 3h2m-1-34h2m-2 2h2m-2 12h2m-2 4h2m-2 2h2m-2 2h2m-2 1h2m-2 7h2m-2 6h2m-2 3h2m-2 2h2m-2 10h2m-2 8h2m-2 5h2m-2 1h2m-2 14h2m-1-55h2m-2 6h2m-2 9h2m-2 3h2m-2 3h2m-2 9h2m-2 31h2m-1-69h2m-2 6h2m-2 6h2m-2 18h2m-2 6h2m-2 19h2m-1-59h2m-2 6h2m-2 17h2m-2 14h2m-1-57h2m-2 9h2m-2 16h2m-2 2h2m-2 5h2m-2 15h2m-2 7h2m-2 9h2m-1-41h2m-2 4h2m-2 2h2m-2 2h2m-2 5h2m-2 4h2m-2 7h2m-2 8h2m-2 39h2m-1-77h2m-2 13h2m-2 7h2m-2 3h2m-2 4h2m-2 5h2m-2 4h2m-2 1h2m-2 11h2m-2 1h2m-2 7h2m-1-82h2m-2 17h2m-2 27h2m-2 3h2m-2 4h2m-2 8h2m-2 3h2m-2 14h2m-1-58h2m-2 4h2m-2 1h2m-2 4h2m-2 4h2m-2 8h2m-2 1h2m-2 9h2m-2 2h2m-2 2h2m-2 4h2m-2 2h2m-2 1h2m-2 3h2m-2 5h2m-2 11h2m-2 3h2m-1-82h2m-2 17h2m-2 2h2m-2 8h2m-2 4h2m-2 6h2m-2 5h2m-2 8h2m-2 16h2m-2 1h2m-2 13h2m-2 3h2m-2 13h2m-1-85h2m-2 6h2m-2 5h2m-2 7h2m-2 7h2m-2 4h2m-2 2h2m-2 4h2m-2 5h2m-2 5h2m-2 2h2m-2 3h2m-2 11h2m-2 1h2m-2 6h2m-1-49h2m-2 5h2m-2 3h2m-2 5h2m-2 2h2m-2 3h2m-2 1h2m-2 5h2m-2 2h2m-2 3h2m-2 4h2m-2 5h2m-2 1h2m-2 1h2m-2 1h2m-2 2h2m-2 9h2m-1-66h2m-2 15h2m-2 7h2m-2 3h2m-2 3h2m-2 7h2m-2 6h2m-2 3h2m-2 1h2m-2 2h2m-2 3h2m-2 2h2m-2 9h2m-2 3h2m-1-70h2m-2 9h2m-2 1h2m-2 6h2m-2 4h2m-2 1h2m-2 2h2m-2 3h2m-2 2h2m-2 10h2m-2 3h2m-2 7h2m-2 17h2m-2 13h2m-2 4h2m-1-77h2m-2 22h2m-2 12h2m-2 1h2m-2 2h2m-2 18h2m-2 1h2m-2 2h2m-1-71h2m-2 13h2m-2 3h2m-2 15h2m-2 1h2m-2 2h2m-2 7h2m-2 1h2m-2 1h2m-2 3h2m-2 1h2m-2 6h2m-2 3h2m-2 2h2m-2 2h2m-2 6h2m-2 3h2m-2 2h2m-2 2h2m-2 3h2m-1-51h2m-2 2h2m-2 2h2m-2 1h2m-2 5h2m-2 5h2m-2 2h2m-2 2h2m-2 1h2m-2 2h2m-2 7h2m-2 3h2m-2 4h2m-2 13h2m-1-45h2m-2 1h2m-2 4h2m-2 2h2m-2 6h2m-2 15h2m-2 8h2m-2 3h2m-2 4h2m-1-61h2m-2 3h2m-2 5h2m-2 4h2m-2 7h2m-2 9h2m-2 3h2m-2 2h2m-2 5h2m-2 1h2m-2 9h2m-2 5h2m-2 13h2m-1-78h2m-2 11h2m-2 19h2m-2 1h2m-2 2h2m-2 4h2m-2 7h2m-2 5h2m-2 1h2m-2 1h2m-2 29h2m-1-79h2m-2 2h2m-2 12h2m-2 13h2m-2 11h2m-2 2h2m-2 1h2m-2 1h2m-2 20h2m-2 7h2m-2 4h2m-2 1h2m-1-102h2m-2 41h2m-2 5h2m-2 1h2m-2 13h2m-2 5h2m-2 1h2m-2 2h2m-2 3h2m-2 3h2m-2 5h2m-2 2h2m-2 1h2m-2 9h2m-2 1h2m-2 3h2m-2 2h2m-2 2h2m-1-59h2m-2 8h2m-2 17h2m-2 4h2m-2 2h2m-2 8h2m-2 7h2m-2 2h2m-2 7h2m-2 3h2m-2 25h2m-1-81h2m-2 22h2m-2 1h2m-2 2h2m-2 8h2m-2 3h2m-2 5h2m-2 25h2m-1-80h2m-2 15h2m-2 4h2m-2 7h2m-2 2h2m-2 5h2m-2 5h2m-2 13h2m-2 4h2m-2 2h2m-2 2h2m-2 13h2m-2 5h2m-2 7h2m-1-79h2m-2 5h2m-2 3h2m-2 9h2m-2 5h2m-2 6h2m-2 2h2m-2 12h2m-2 1h2m-2 40h2m-2 22h2m-1-118h2m-2 50h2m-2 17h2m-2 3h2m-2 1h2m-2 6h2m-2 8h2m-2 5h2m-1-64h2m-2 8h2m-2 1h2m-2 13h2m-2 2h2m-2 13h2m-2 15h2m-2 9h2m-2 10h2m-1-88h2m-2 23h2m-2 2h2m-2 2h2m-2 1h2m-2 2h2m-2 7h2m-2 4h2m-2 1h2m-2 11h2m-2 1h2m-2 4h2m-2 4h2m-2 2h2m-2 3h2m-2 12h2m-2 25h2m-1-58h2m-2 1h2m-2 22h2m-2 7h2m-2 16h2m-1-80h2m-2 2h2m-2 14h2m-2 1h2m-2 1h2m-2 4h2m-2 1h2m-2 19h2m-2 2h2m-2 1h2m-2 2h2m-2 3h2m-2 1h2m-1-37h2m-2 8h2m-2 2h2m-2 3h2m-2 9h2m-2 4h2m-2 1h2m-2 4h2m-2 3h2m-2 3h2m-2 16h2m-2 3h2m-1-66h2m-2 27h2m-2 14h2m-2 2h2m-2 7h2m-2 2h2m-2 11h2m-2 1h2m-1-54h2m-2 1h2m-2 3h2m-2 4h2m-2 21h2m-2 4h2m-2 7h2m-2 1h2m-2 8h2m-1-38h2m-2 1h2m-2 2h2m-2 5h2m-2 5h2m-2 21h2m-2 8h2m-1-50h2m-2 14h2m-2 2h2m-2 9h2m-2 2h2m-2 1h2m-2 7h2m-2 14h2m-2 28h2m-1-73h2m-2 1h2m-2 10h2m-2 4h2m-2 4h2m-2 2h2m-2 8h2m-2 2h2m-1-41h2m-2 4h2m-2 5h2m-2 8h2m-2 6h2m-2 11h2m-2 5h2m-1-41h2m-2 9h2m-2 16h2m-2 18h2m-1-39h2m-2 9h2m-2 10h2m-2 6h2m-2 1h2m-2 4h2m-2 9h2m-1-23h2m-2 4h2m-2 12h2m-2 4h2m-2 37h2m-1-75h2m-2 16h2m-2 2h2m-2 2h2m-2 4h2m-1 1h2m-2 30h2m-2 9h2m-1-70h2m-2 24h2m-1-52h2m-2 9h2m-2 24h2m-2 21h2m-2 14h2m-2 11h2m-1-44h2m-2 16h2m-2 17h2m-2 3h2m-2 10h2m0-50h2m-2 34h2m-2 22h2m-1-65h2m-2 8h2m-2 6h2m-2 23h2m-2 30h2m-2 1h2m-1-70h2m-2 11h2m-2 10h2m-2 20h2m-2 6h2m-2 5h2m-1-34h2m-2 9h2m-2 33h2m-1-23h2m-2 36h2m-1-72h2m-2 2h2m-2 21h2m-1-9h2m-2 22h2m-2 7h2m0-31h2m-2 31h2m-2 30h2m-1-73h2m-2 12h2m-2 39h2m-2 6h2m-2 25h2m-1-63h2m-2 19h2m-2 9h2m-1-44h2m-2 7h2m1-1h2m0 4h2m-2 28h2m-1-17h2m-1 32h2m-2 7h2m-1-18h2m-1 22h2m-1-22h2m-1-28h2m-2 37h2m-1 39h2m1-79h2m-2 37h2m2-26h2" stroke="#0a0a0a" stroke-width="2.0" fill="none"/>
<path transform="scale(.5)" d="M0 0m557 2494h4m-1-1h4m-3-4h4m-3 16h4m-3-18h4m-3-1h4m-4 5h4m-4 11h4m-3-46h4m-4 61h4m-3-32h4m-4 3h4m-4 13h4m-3-50h4m-4 10h4m-4 47h4m-3 1h4m-3-39h4m-4 14h4m-4 4h4m-3-13h4m-4 10h4m-4 9h4m-4 9h4m-4 1h4m-3-28h4m-4 7h4m-3 7h4m-4 4h4m-4 9h4m-4 9h4m-3-39h4m-4 4h4m-4 9h4m-4 10h4m-4 4h4m-3-12h4m-4 6h4m-4 3h4m-4 2h4m-4 15h4m-3-6h4m-4 4h4m-3-55h4m-4 45h4m-4 12h4m-3-31h4m-4 12h4m-4 1h4m-4 12h4m-4 3h4m-3-39h4m-4 14h4m-4 6h4m-4 13h4m-4 5h4m-3-36h4m-4 14h4m-4 11h4m-4 5h4m-3-34h4m-4 31h4m-4 3h4m-4 17h4m-3-49h4m-4 1h4m-4 1h4m-4 17h4m-4 2h4m-4 10h4m-4 9h4m-3-53h4m-4 17h4m-4 39h4m-3-41h4m-4 11h4m-4 9h4m-4 6h4m-4 12h4m-4 1h4m-3-27h4m-4 8h4m-4 12h4m-4 20h4m-3-38h4m-4 4h4m-4 4h4m-4 7h4m-4 3h4m-4 1h4m-3-7h4m-4 3h4m-2-28h4m-4 8h4m-4 20h4m-4 3h4m-4 3h4m-3 4h4m-3-22h4m-4 7h4m-4 5h4m-1-6h4m-2 4h4m5-2h4m-2-7h4" stroke="#0a0a0a" stroke-width="4.0" fill="none"/>
<path transform="scale(.5)" d="M0 0m507 2506h2m6 9h2m1 1h2m3-49h2m0 32h2m0 3h2m-2 6h2m-1-33h2m-2 6h2m-1 0h2m-2 55h2m-1-50h2m-2 3h2m-1-12h2m-2 31h2m-1-28h2m-2 10h2m-2 29h2m-1-21h2m-2 1h2m-1-54h2m-2 20h2m-2 11h2m-2 25h2m-2 8h2m-1-37h2m-2 16h2m-2 2h2m-2 5h2m-2 27h2m-1-50h2m-2 14h2m-2 19h2m0-31h2m-2 9h2m-2 2h2m-2 5h2m-2 8h2m-2 20h2m-1-61h2m-2 4h2m-2 27h2m-2 4h2m-2 9h2m-2 2h2m-2 6h2m-1-5h2m-1-44h2m-2 15h2m-2 13h2m-2 7h2m-2 25h2m-2 6h2m-2 2h2m-1-55h2m-2 2h2m-2 1h2m-2 5h2m-2 3h2m-2 3h2m-2 3h2m-2 13h2m-1-49h2m-2 14h2m-2 3h2m-2 10h2m-2 8h2m-2 17h2m-2 13h2m-1-49h2m-2 10h2m-2 16h2m-2 23h2m-2 14h2m-1-78h2m-2 19h2m-2 1h2m-2 4h2m-2 5h2m-2 7h2m-2 4h2m-2 7h2m-2 3h2m-2 11h2m-2 4h2m-2 5h2m-1-69h2m-2 13h2m-2 18h2m-2 5h2m-2 5h2m-2 1h2m-2 2h2m-2 18h2m-1-60h2m-2 9h2m-2 10h2m-2 10h2m-2 13h2m-2 2h2m-2 8h2m-2 1h2m-2 4h2m-2 10h2m-1-53h2m-2 1h2m-2 15h2m-2 9h2m-2 23h2m-1-31h2m-2 4h2m-2 1h2m-2 7h2m-2 6h2m-2 1h2m-2 8h2m-2 5h2m-2 8h2m-2 14h2m-1-78h2m-2 13h2m-2 3h2m-2 6h2m-2 3h2m-2 1h2m-2 7h2m-2 4h2m-2 2h2m-2 3h2m-2 5h2m-2 15h2m-1-74h2m-2 15h2m-2 8h2m-2 5h2m-2 8h2m-2 2h2m-2 4h2m-2 1h2m-2 1h2m-2 1h2m-2 1h2m-2 4h2m-2 1h2m-2 11h2m-2 1h2m-2 7h2m-2 13h2m-1-94h2m-2 23h2m-2 6h2m-2 7h2m-2 1h2m-2 2h2m-2 2h2m-2 5h2m-2 1h2m-2 12h2m-2 1h2m-2 2h2m-1-38h2m-2 3h2m-2 3h2m-2 3h2m-2 11h2m-2 2h2m-2 1h2m-2 3h2m-2 2h2m-2 8h2m-2 3h2m-2 1h2m-2 2h2m-2 2h2m-1-66h2m-2 26h2m-2 1h2m-2 9h2m-2 7h2m-1-29h2m-2 4h2m-2 11h2m-2 2h2m-2 3h2m-2 4h2m-2 3h2m-2 4h2m-2 12h2m-2 2h2m-2 3h2m-2 2h2m-2 21h2m-2 3h2m-1-77h2m-2 9h2m-2 4h2m-2 21h2m-2 3h2m-2 2h2m-2 2h2m-2 1h2m-2 2h2m-2 3h2m-2 8h2m-2 2h2m-2 5h2m-1-70h2m-2 21h2m-2 1h2m-2 7h2m-2 3h2m-2 6h2m-2 4h2m-2 3h2m-2 6h2m-2 4h2m-2 4h2m-2 5h2m-2 3h2m-1-61h2m-2 18h2m-2 2h2m-2 4h2m-2 15h2m-2 1h2m-2 2h2m-2 7h2m-2 2h2m-2 2h2m-2 4h2m-2 6h2m-2 11h2m-2 7h2m-1-91h2m-2 10h2m-2 6h2m-2 4h2m-2 6h2m-2 2h2m-2 1h2m-2 8h2m-2 3h2m-2 2h2m-2 2h2m-2 1h2m-2 9h2m-2 6h2m-1-38h2m-2 4h2m-2 3h2m-2 2h2m-2 2h2m-2 10h2m-2 3h2m-2 11h2m-2 3h2m-2 8h2m-2 6h2m-2 1h2m-2 1h2m-1-78h2m-2 16h2m-2 2h2m-2 6h2m-2 9h2m-2 4h2m-2 4h2m-2 4h2m-2 5h2m-2 1h2m-2 4h2m-2 3h2m-2 38h2m-1-93h2m-2 13h2m-2 4h2m-2 6h2m-2 2h2m-2 5h2m-2 6h2m-2 3h2m-2 7h2m-2 3h2m-2 3h2m-2 3h2m-2 1h2m-2 6h2m-2 1h2m-2 7h2m-2 32h2m-1-96h2m-2 11h2m-2 6h2m-2 3h2m-2 2h2m-2 1h2m-2 1h2m-2 1h2m-2 2h2m-2 1h2m-2 1h2m-2 1h2m-2 1h2m-2 2h2m-2 1h2m-2 1h2m-2 11h2m-2 2h2m-2 6h2m-2 2h2m-2 2h2m-2 5h2m-2 2h2m-2 6h2m-1-68h2m-2 13h2m-2 7h2m-2 3h2m-2 8h2m-2 6h2m-2 5h2m-2 1h2m-2 13h2m-2 6h2m-2 15h2m-1-99h2m-2 6h2m-2 19h2m-2 3h2m-2 14h2m-2 3h2m-2 5h2m-2 1h2m-2 3h2m-2 2h2m-2 12h2m-2 1h2m-2 5h2m-2 1h2m-2 1h2m-2 12h2m-2 45h2m-1-125h2m-2 5h2m-2 35h2m-2 2h2m-2 2h2m-2 2h2m-2 6h2m-2 2h2m-2 3h2m-2 2h2m-2 2h2m-2 1h2m-2 6h2m-2 4h2m-2 2h2m-2 1h2m-2 1h2m-2 5h2m-1-83h2m-2 15h2m-2 5h2m-2 4h2m-2 7h2m-2 4h2m-2 1h2m-2 1h2m-2 2h2m-2 1h2m-2 1h2m-2 9h2m-2 1h2m-2 2h2m-2 1h2m-2 7h2m-2 7h2m-2 9h2m-2 8h2m-2 2h2m-1-69h2m-2 8h2m-2 4h2m-2 1h2m-2 4h2m-2 1h2m-2 3h2m-2 1h2m-2 5h2m-2 2h2m-2 1h2m-2 9h2m-2 3h2m-2 5h2m-2 1h2m-2 1h2m-2 2h2m-2 1h2m-2 1h2m-2 15h2m-1-72h2m-2 2h2m-2 11h2m-2 1h2m-2 5h2m-2 1h2m-2 2h2m-2 5h2m-2 1h2m-2 1h2m-2 5h2m-2 7h2m-2 1h2m-2 1h2m-2 7h2m-2 8h2m-2 1h2m-2 3h2m-2 11h2m-2 11h2m-1-76h2m-2 4h2m-2 1h2m-2 4h2m-2 2h2m-2 3h2m-2 2h2m-2 5h2m-2 3h2m-2 2h2m-2 3h2m-2 1h2m-2 6h2m-2 3h2m-2 4h2m-2 2h2m-2 2h2m-2 1h2m-2 1h2m-2 6h2m-2 13h2m-1-69h2m-2 6h2m-2 2h2m-2 2h2m-2 6h2m-2 14h2m-2 2h2m-2 7h2m-2 1h2m-2 1h2m-2 6h2m-2 5h2m-2 11h2m-2 3h2m-1-72h2m-2 4h2m-2 12h2m-2 2h2m-2 13h2m-2 2h2m-2 2h2m-2 5h2m-2 7h2m-2 2h2m-2 3h2m-2 1h2m-2 7h2m-2 14h2m-2 8h2m-1-103h2m-2 12h2m-2 5h2m-2 15h2m-2 5h2m-2 5h2m-2 2h2m-2 9h2m-2 3h2m-2 1h2m-2 2h2m-2 5h2m-2 2h2m-2 22h2m-2 3h2m-2 3h2m-1-69h2m-2 5h2m-2 3h2m-2 2h2m-2 1h2m-2 1h2m-2 7h2m-2 3h2m-2 1h2m-2 6h2m-2 6h2m-2 3h2m-2 1h2m-2 4h2m-2 4h2m-2 2h2m-2 6h2m-2 4h2m-2 2h2m-2 4h2m-1-83h2m-2 14h2m-2 9h2m-2 10h2m-2 4h2m-2 3h2m-2 6h2m-2 1h2m-2 3h2m-2 1h2m-2 1h2m-2 9h2m-2 3h2m-2 9h2m-2 7h2m-1-58h2m-2 6h2m-2 3h2m-2 1h2m-2 1h2m-2 5h2m-2 1h2m-2 3h2m-2 2h2m-2 3h2m-2 1h2m-2 3h2m-2 2h2m-2 1h2m-2 12h2m-2 4h2m-2 9h2m-2 4h2m-2 5h2m-1-78h2m-2 8h2m-2 6h2m-2 1h2m-2 7h2m-2 1h2m-2 6h2m-2 2h2m-2 4h2m-2 5h2m-2 4h2m-2 13h2m-2 1h2m-2 6h2m-2 4h2m-2 10h2m-1-77h2m-2 3h2m-2 6h2m-2 5h2m-2 8h2m-2 8h2m-2 6h2m-2 3h2m-2 3h2m-2 9h2m-2 3h2m-2 2h2m-2 1h2m-2 2h2m-2 1h2m-2 14h2m-2 11h2m-1-93h2m-2 13h2m-2 4h2m-2 2h2m-2 2h2m-2 2h2m-2 7h2m-2 1h2m-2 4h2m-2 4h2m-2 3h2m-2 3h2m-2 1h2m-2 2h2m-2 1h2m-2 1h2m-2 1h2m-2 3h2m-2 1h2m-2 4h2m-2 3h2m-2 3h2m-2 3h2m-2 8h2m-2 8h2m-1-75h2m-2 15h2m-2 1h2m-2 3h2m-2 4h2m-2 2h2m-2 1h2m-2 2h2m-2 2h2m-2 4h2m-2 3h2m-2 8h2m-2 3h2m-2 2h2m-2 20h2m-2 5h2m-1-67h2m-2 7h2m-2 3h2m-2 3h2m-2 2h2m-2 3h2m-2 5h2m-2 3h2m-2 1h2m-2 1h2m-2 1h2m-2 2h2m-2 1h2m-2 2h2m-2 4h2m-2 6h2m-2 5h2m-2 14h2m-2 1h2m-2 3h2m-2 31h2m-1-109h2m-2 4h2m-2 1h2m-2 6h2m-2 8h2m-2 9h2m-2 1h2m-2 9h2m-2 5h2m-2 4h2m-2 1h2m-2 2h2m-2 1h2m-2 4h2m-2 2h2m-2 3h2m-2 4h2m-2 6h2m-2 8h2m-2 12h2m-1-96h2m-2 12h2m-2 1h2m-2 1h2m-2 10h2m-2 3h2m-2 6h2m-2 1h2m-2 5h2m-2 2h2m-2 3h2m-2 3h2m-2 10h2m-2 5h2m-2 2h2m-2 1h2m-2 1h2m-2 1h2m-2 7h2m-2 5h2m-1-88h2m-2 14h2m-2 15h2m-2 1h2m-2 14h2m-2 2h2m-2 9h2m-2 5h2m-2 3h2m-2 3h2m-2 4h2m-2 6h2m-2 3h2m-2 8h2m-1-58h2m-2 2h2m-2 4h2m-2 1h2m-2 7h2m-2 13h2m-2 2h2m-2 2h2m-2 8h2m-2 2h2m-2 6h2m-2 2h2m-2 13h2m-2 1h2m-1-74h2m-2 18h2m-2 4h2m-2 6h2m-2 2h2m-2 5h2m-2 12h2m-2 6h2m-2 2h2m-2 9h2m-1-86h2m-2 24h2m-2 16h2m-2 7h2m-2 3h2m-2 2h2m-2 1h2m-2 1h2m-2 17h2m-2 2h2m-2 3h2m-2 1h2m-2 7h2m-1-39h2m-2 1h2m-2 5h2m-2 11h2m-2 11h2m-2 1h2m-2 1h2m-2 7h2m-2 4h2m-2 6h2m-2 12h2m-2 7h2m-1-79h2m-2 1h2m-2 20h2m-2 10h2m-2 1h2m-2 2h2m-2 4h2m-2 3h2m-2 8h2m-2 13h2m-2 2h2m-1-64h2m-2 6h2m-2 6h2m-2 8h2m-2 13h2m-2 3h2m-2 10h2m-1-54h2m-2 21h2m-2 8h2m-2 17h2m-2 34h2m-1-81h2m-2 13h2m-2 2h2m-2 2h2m-2 4h2m-2 3h2m-2 10h2m-2 9h2m-2 16h2m-2 5h2m-2 26h2m-1-67h2m-2 9h2m-2 7h2m-2 1h2m-2 14h2m-2 9h2m-2 9h2m-2 12h2m-1-78h2m-2 18h2m-2 13h2m-2 4h2m-2 3h2m-2 2h2m-2 13h2m-2 13h2m-1-64h2m-2 20h2m-2 20h2m-2 7h2m-2 12h2m-2 24h2m-1-94h2m-2 28h2m-2 1h2m-2 2h2m-2 6h2m-2 13h2m-2 9h2m-2 11h2m-1-63h2m-2 9h2m-2 18h2m-2 5h2m-2 18h2m-2 2h2m-1-42h2m-2 14h2m-2 27h2m-1-44h2m-2 13h2m-2 8h2m-2 7h2m-2 16h2m-2 13h2m-1-59h2m-2 5h2m-2 36h2m-1-61h2m-2 24h2m-2 4h2m-2 21h2m-2 6h2m-2 18h2m-2 14h2m-1-79h2m-2 23h2m-2 9h2m-2 3h2m-2 3h2m-2 10h2m-2 5h2m-2 2h2m-2 8h2m-2 4h2m-1-31h2m-1-6h2m-1-14h2m-2 28h2m-2 6h2m-2 10h2m-1-21h2m-2 1h2m-2 39h2m-1-84h2m-2 7h2m-2 28h2m-2 9h2m-1-14h2m0-30h2m-2 47h2m-2 1h2m-1-14h2m-1 2h2m-2 4h2m-2 1h2m0-7h2m-2 12h2m-1 15h2m-1-26h2m-1-12h2m-1 7h2m-1 17h2m-1 26h2m1-28h2" stroke="#0a0a0a" stroke-width="2.4" fill="none"/>
<path transform="scale(.5)" d="M0 0m452 2536h2m-2 1h2m-2 9h2m-2 14h2m-2 2h2m-2 4h2m-2 9h2m-2 4h2m-1-58h2m-2 52h2m-2 7h2m-2 18h2m-1-56h2m-2 35h2m-2 5h2m-1-32h2m-2 20h2m-2 9h2m-2 22h2m-1-9h2m-2 3h2m-2 6h2m-1-49h2m-2 42h2m-1-43h2m-2 13h2m-2 8h2m-2 1h2m-2 5h2m-2 6h2m-2 12h2m-1-59h2m-2 33h2m-2 2h2m-2 3h2m-1-4h2m-2 22h2m-1-30h2m-2 1h2m-2 7h2m-2 19h2m-2 9h2m-1-66h2m-2 8h2m-2 8h2m-2 15h2m-2 16h2m-2 8h2m-2 1h2m-2 6h2m-2 3h2m-1-53h2m-2 3h2m-2 9h2m-2 4h2m-2 10h2m-2 2h2m-2 7h2m-2 7h2m-2 1h2m-2 7h2m-1-41h2m-2 3h2m-2 18h2m-2 13h2m-2 13h2m-1-49h2m-2 25h2m-1-42h2m-2 5h2m-2 17h2m-2 14h2m-2 23h2m-2 5h2m-2 2h2m-1-83h2m-2 10h2m-2 29h2m-2 13h2m-2 3h2m-2 3h2m-2 11h2m-1-59h2m-2 14h2m-2 5h2m-2 13h2m-2 17h2m-2 9h2m-1-67h2m-2 15h2m-2 8h2m-2 29h2m-2 2h2m-2 9h2m-2 2h2m-2 17h2m-2 1h2m-1-74h2m-2 11h2m-2 3h2m-2 20h2m-2 8h2m-2 2h2m-2 3h2m-2 4h2m-2 7h2m-2 9h2m-1-46h2m-2 2h2m-2 2h2m-2 6h2m-2 2h2m-2 8h2m-2 3h2m-2 2h2m-2 6h2m-2 7h2m-2 2h2m-2 2h2m-2 8h2m-1-50h2m-2 8h2m-2 5h2m-2 3h2m-2 1h2m-2 1h2m-2 1h2m-2 1h2m-2 21h2m-2 13h2m-1-67h2m-2 31h2m-2 2h2m-2 3h2m-2 4h2m-2 8h2m-2 1h2m-2 1h2m-2 1h2m-2 6h2m-1-87h2m-2 28h2m-2 9h2m-2 1h2m-2 14h2m-2 2h2m-2 3h2m-2 5h2m-2 2h2m-2 1h2m-2 3h2m-2 1h2m-2 22h2m-2 1h2m-2 5h2m-1-71h2m-2 39h2m-2 3h2m-2 1h2m-2 7h2m-2 2h2m-2 14h2m-1-50h2m-2 2h2m-2 10h2m-2 8h2m-2 3h2m-2 3h2m-2 3h2m-2 4h2m-2 1h2m-2 7h2m-2 10h2m-1-55h2m-2 19h2m-2 4h2m-2 1h2m-2 2h2m-2 4h2m-2 22h2m-1-26h2m-2 6h2m-2 7h2m-2 5h2m-1-53h2m-2 10h2m-2 2h2m-2 7h2m-2 2h2m-2 8h2m-2 20h2m-1-61h2m-2 41h2m-2 2h2m-2 8h2m-2 2h2m-2 13h2m-2 6h2m-2 2h2m-1-54h2m-2 13h2m-2 4h2m-2 9h2m-2 16h2m-2 5h2m-2 4h2m-1-72h2m-2 33h2m-2 11h2m-2 3h2m-2 3h2m-2 3h2m-2 3h2m-2 3h2m-1-27h2m-2 7h2m-2 2h2m-2 9h2m-2 7h2m-2 3h2m-2 2h2m-1-41h2m-2 8h2m-2 1h2m-2 6h2m-2 5h2m-2 9h2m-2 1h2m-2 17h2m-2 10h2m-1-55h2m-2 2h2m-2 9h2m-2 13h2m-2 7h2m-2 5h2m-2 4h2m-1-51h2m-2 12h2m-2 4h2m-2 4h2m-2 8h2m-2 1h2m-2 3h2m-2 4h2m-2 3h2m-2 12h2m-2 4h2m-2 4h2m-1-41h2m-2 20h2m-2 3h2m-2 2h2m-2 4h2m-2 2h2m-2 16h2m-2 2h2m-1-58h2m-2 2h2m-2 15h2m-2 2h2m-2 2h2m-2 2h2m-2 11h2m-2 4h2m-2 2h2m-2 4h2m-2 1h2m-2 13h2m-1-68h2m-2 21h2m-2 1h2m-2 11h2m-2 4h2m-2 13h2m-2 6h2m-2 6h2m-2 6h2m-1-68h2m-2 27h2m-2 17h2m-2 8h2m-2 10h2m-1-52h2m-2 16h2m-2 2h2m-2 9h2m-2 4h2m-2 13h2m-2 1h2m-1-56h2m-2 16h2m-2 12h2m-2 2h2m-2 1h2m-2 4h2m-2 1h2m-2 1h2m-2 7h2m-2 1h2m-2 13h2m-2 4h2m-2 3h2m-2 4h2m-1-53h2m-2 15h2m-2 3h2m-2 8h2m-2 3h2m-2 2h2m-2 4h2m-2 2h2m-2 6h2m-1-41h2m-2 3h2m-2 7h2m-2 3h2m-2 1h2m-2 18h2m-2 4h2m-2 1h2m-2 16h2m-1-65h2m-2 22h2m-2 15h2m-2 2h2m-2 2h2m-2 9h2m-2 1h2m-1-49h2m-2 1h2m-2 17h2m-2 2h2m-2 4h2m-2 15h2m-2 4h2m-2 6h2m-2 3h2m-1-55h2m-2 7h2m-2 9h2m-2 11h2m-2 6h2m-2 12h2m-2 3h2m-2 3h2m-1-77h2m-2 41h2m-2 5h2m-2 1h2m-2 1h2m-2 3h2m-2 24h2m-2 2h2m-1-34h2m-2 13h2m-2 1h2m-2 5h2m-2 4h2m-2 2h2m-2 4h2m-2 2h2m-2 1h2m-2 1h2m-2 4h2m-2 1h2m-2 2h2m-2 1h2m-2 2h2m-2 1h2m-1-41h2m-2 1h2m-2 2h2m-2 3h2m-2 13h2m-2 20h2m-2 6h2m-1-67h2m-2 9h2m-2 2h2m-2 4h2m-2 1h2m-2 13h2m-2 1h2m-2 1h2m-2 2h2m-2 10h2m-2 7h2m-2 5h2m-2 1h2m-2 6h2m-1-56h2m-2 18h2m-2 1h2m-2 16h2m-2 3h2m-1-53h2m-2 9h2m-2 2h2m-2 9h2m-2 21h2m-2 4h2m-2 14h2m-2 3h2m-1-56h2m-2 17h2m-2 21h2m-2 6h2m-1-17h2m-2 15h2m-2 4h2m-2 12h2m-2 2h2m-2 1h2m-2 3h2m-2 1h2m-1-55h2m-2 12h2m-2 1h2m-2 3h2m-2 8h2m-2 1h2m-2 4h2m-2 1h2m-2 12h2m-2 2h2m-2 5h2m-1-36h2m-2 20h2m-2 7h2m-2 10h2m-1-49h2m-2 13h2m-2 16h2m-2 6h2m-2 14h2m-2 6h2m-1-66h2m-2 25h2m-2 4h2m-2 6h2m-2 13h2m-2 2h2m-1-28h2m-2 13h2m-2 3h2m-2 2h2m-2 12h2m-2 7h2m-2 4h2m-2 3h2m-1-43h2m-2 12h2m-1-10h2m-2 9h2m-2 18h2m-2 1h2m-2 5h2m-1-21h2m-2 1h2m-2 6h2m-1-42h2m-2 9h2m-2 19h2m-1-14h2m-2 3h2m-2 7h2m-2 24h2m-2 11h2m-1-41h2m-2 2h2m-2 19h2m-2 30h2m-1-30h2m-1-11h2m-2 6h2m-1-28h2m-2 15h2m-2 1h2m-2 28h2m-2 2h2m-2 6h2m-2 1h2m-2 5h2m-2 1h2m-1-64h2m-2 35h2m-2 1h2m-2 4h2m-2 4h2m-1-30h2m-2 15h2m-2 19h2m-1-3h2m0-14h2m-2 27h2m-2 3h2m-1-48h2m-2 4h2m-2 22h2m-1 6h2m-2 3h2m-2 2h2m-1-4h2m2-14h2m2 12h2m-2 17h2m3-10h2m-2 1h2m-1 5h2" stroke="#0a0a0a" stroke-width="2.0" fill="none"/>
<path transform="scale(.5)" d="M0 0m536 2579h5m-2-6h5m-5 8h5m-3-13h5m-3 28h5m-3-41h5m-5 7h5m-5 19h5m-5 12h5m-4-22h5m-5 29h5m-4-38h5m-5 3h5m-5 25h5m-4-30h5m-5 29h5m-5 10h5m-4-25h5m-5 12h5m-4-15h5m-5 3h5m-5 1h5m-5 1h5m-5 3h5m-5 4h5m-5 4h5m-5 7h5m-4-36h5m-5 6h5m-5 29h5m-5 5h5m-4-46h5m-5 6h5m-5 5h5m-5 3h5m-5 3h5m-5 2h5m-5 10h5m-4-36h5m-5 21h5m-5 2h5m-5 4h5m-5 14h5m-5 1h5m-4-30h5m-5 12h5m-5 7h5m-5 5h5m-5 2h5m-5 2h5m-5 3h5m-4-17h5m-5 10h5m-5 3h5m-4-8h5m-5 5h5m-5 2h5m-5 2h5m-4-35h5m-5 24h5m-5 1h5m-5 3h5m-5 5h5m-5 4h5m-5 11h5m-5 5h5m-4-60h5m-5 13h5m-5 14h5m-5 4h5m-5 5h5m-5 1h5m-5 1h5m-5 1h5m-5 7h5m-4-28h5m-5 10h5m-5 1h5m-5 2h5m-5 8h5m-5 5h5m-5 8h5m-5 3h5m-4-48h5m-5 2h5m-5 1h5m-5 4h5m-5 7h5m-5 6h5m-5 2h5m-5 5h5m-5 12h5m-5 1h5m-5 5h5m-5 4h5m-4-51h5m-5 14h5m-5 11h5m-5 1h5m-5 1h5m-5 1h5m-5 2h5m-5 1h5m-5 1h5m-5 3h5m-5 18h5m-4-72h5m-5 14h5m-5 14h5m-5 9h5m-5 4h5m-5 2h5m-5 1h5m-5 4h5m-5 11h5m-5 1h5m-5 6h5m-5 7h5m-4-51h5m-5 4h5m-5 6h5m-5 4h5m-5 9h5m-5 5h5m-5 4h5m-5 2h5m-5 2h5m-5 2h5m-5 1h5m-5 6h5m-5 7h5m-4-50h5m-5 7h5m-5 1h5m-5 2h5m-5 2h5m-5 9h5m-5 5h5m-5 7h5m-5 2h5m-5 2h5m-5 1h5m-5 2h5m-5 6h5m-4-64h5m-5 23h5m-5 16h5m-5 9h5m-5 1h5m-5 1h5m-5 12h5m-5 1h5m-4-42h5m-5 3h5m-5 4h5m-5 11h5m-5 6h5m-5 9h5m-5 1h5m-5 6h5m-5 4h5m-4-34h5m-5 11h5m-5 2h5m-5 2h5m-5 7h5m-5 10h5m-5 5h5m-4-33h5m-5 1h5m-5 2h5m-5 6h5m-5 1h5m-5 11h5m-5 10h5m-4-53h5m-5 13h5m-5 13h5m-5 2h5m-5 2h5m-5 13h5m-5 1h5m-5 6h5m-5 1h5m-5 3h5m-4-63h5m-5 19h5m-5 18h5m-5 3h5m-5 10h5m-5 9h5m-4-53h5m-5 8h5m-5 9h5m-5 1h5m-5 1h5m-5 4h5m-5 2h5m-5 3h5m-5 5h5m-5 6h5m-5 1h5m-5 1h5m-5 1h5m-5 3h5m-5 5h5m-5 5h5m-4-50h5m-5 12h5m-5 7h5m-5 4h5m-5 17h5m-5 1h5m-5 5h5m-5 3h5m-4-52h5m-5 4h5m-5 8h5m-5 5h5m-5 8h5m-5 3h5m-5 2h5m-5 3h5m-5 6h5m-5 2h5m-5 3h5m-4-22h5m-5 5h5m-5 1h5m-5 1h5m-5 6h5m-5 1h5m-5 4h5m-5 4h5m-5 3h5m-5 1h5m-5 1h5m-5 7h5m-4-60h5m-5 21h5m-5 6h5m-5 2h5m-5 3h5m-5 16h5m-5 2h5m-5 3h5m-5 6h5m-4-41h5m-5 10h5m-5 9h5m-5 5h5m-5 1h5m-5 2h5m-5 2h5m-5 6h5m-5 6h5m-4-55h5m-5 16h5m-5 5h5m-5 2h5m-5 5h5m-5 9h5m-5 7h5m-5 2h5m-4-42h5m-5 13h5m-5 10h5m-5 6h5m-5 9h5m-5 7h5m-4-31h5m-5 2h5m-5 10h5m-5 1h5m-5 9h5m-5 4h5m-5 12h5m-4-58h5m-5 11h5m-5 24h5m-5 3h5m-4-28h5m-5 2h5m-5 6h5m-5 11h5m-5 4h5m-5 1h5m-5 3h5m-5 15h5m-5 2h5m-4-64h5m-5 29h5m-5 1h5m-5 15h5m-5 1h5m-5 2h5m-5 8h5m-4-37h5m-5 3h5m-5 8h5m-5 8h5m-5 2h5m-5 9h5m-4-20h5m-5 11h5m-4-2h5m-5 3h5m-5 10h5m-5 7h5m-5 1h5m-3-17h5m-5 1h5m-5 1h5m-5 13h5m-5 9h5m-4-75h5m-5 28h5m-3 24h5m-5 15h5m-4-25h5m-5 14h5m-4-10h5m-5 8h5m-2 19h5" stroke="#0a0a0a" stroke-width="5.0" fill="none"/>
<path transform="scale(.5)" d="M0 0m527 2561h3m-3 18h3m-2-18h3m-3 31h3m-2-48h3m-2 31h3m-3 16h3m-2-51h3m-3 26h3m-3 18h3m-2-8h3m-3 11h3m-2-34h3m-2 32h3m-2-2h3m-2-52h3m-3 46h3m-3 4h3m-3 1h3m-3 19h3m-2-35h3m-3 20h3m-2-10h3m-3 5h3m-3 12h3m-2-37h3m-3 17h3m-3 1h3m-3 5h3m-3 2h3m-2-16h3m-3 1h3m-3 4h3m-3 1h3m-3 7h3m-3 2h3m-3 18h3m-2-42h3m-3 42h3m-2-65h3m-3 22h3m-3 4h3m-3 4h3m-3 3h3m-3 3h3m-3 7h3m-3 10h3m-3 6h3m-2-69h3m-3 11h3m-3 14h3m-3 32h3m-3 1h3m-3 9h3m-2-60h3m-3 12h3m-3 6h3m-3 51h3m-3 1h3m-3 2h3m-2-49h3m-3 22h3m-3 4h3m-3 14h3m-2-33h3m-3 12h3m-3 1h3m-3 11h3m-3 7h3m-3 1h3m-3 2h3m-3 5h3m-3 3h3m-2-38h3m-3 3h3m-3 10h3m-3 3h3m-2-29h3m-3 12h3m-3 37h3m-2-68h3m-3 4h3m-3 1h3m-3 8h3m-3 11h3m-3 4h3m-3 6h3m-3 4h3m-3 1h3m-3 7h3m-3 6h3m-3 10h3m-3 2h3m-3 4h3m-3 1h3m-2-53h3m-3 6h3m-3 1h3m-3 6h3m-3 2h3m-3 2h3m-3 3h3m-3 1h3m-3 7h3m-3 5h3m-3 2h3m-3 9h3m-3 7h3m-2-69h3m-3 14h3m-3 14h3m-3 6h3m-3 2h3m-3 1h3m-3 10h3m-3 1h3m-3 1h3m-3 9h3m-3 2h3m-3 5h3m-3 3h3m-3 2h3m-3 2h3m-2-44h3m-3 6h3m-3 16h3m-3 3h3m-3 8h3m-3 6h3m-3 2h3m-3 1h3m-3 2h3m-2-81h3m-3 1h3m-3 17h3m-3 3h3m-3 1h3m-3 2h3m-3 6h3m-3 13h3m-3 3h3m-3 9h3m-3 14h3m-2-52h3m-3 24h3m-3 7h3m-3 5h3m-3 5h3m-3 12h3m-3 11h3m-3 1h3m-2-60h3m-3 13h3m-3 7h3m-3 13h3m-3 2h3m-3 3h3m-3 1h3m-3 4h3m-3 7h3m-3 9h3m-3 1h3m-2-73h3m-3 11h3m-3 10h3m-3 1h3m-3 4h3m-3 1h3m-3 2h3m-3 5h3m-3 3h3m-3 2h3m-3 2h3m-3 7h3m-3 3h3m-3 3h3m-3 1h3m-3 8h3m-3 1h3m-2-73h3m-3 8h3m-3 10h3m-3 2h3m-3 1h3m-3 12h3m-3 3h3m-3 4h3m-3 9h3m-3 2h3m-3 1h3m-3 1h3m-3 2h3m-3 5h3m-3 1h3m-3 1h3m-3 4h3m-3 1h3m-3 3h3m-3 1h3m-3 5h3m-2-68h3m-3 10h3m-3 12h3m-3 2h3m-3 6h3m-3 2h3m-3 6h3m-3 3h3m-3 1h3m-3 1h3m-3 2h3m-3 2h3m-3 2h3m-3 7h3m-3 3h3m-3 3h3m-3 1h3m-3 2h3m-3 1h3m-3 4h3m-2-70h3m-3 14h3m-3 1h3m-3 19h3m-3 3h3m-3 2h3m-3 1h3m-3 9h3m-3 1h3m-3 3h3m-3 1h3m-3 2h3m-3 2h3m-3 5h3m-3 8h3m-3 2h3m-2-64h3m-3 12h3m-3 3h3m-3 13h3m-3 8h3m-3 12h3m-3 1h3m-3 3h3m-3 1h3m-3 3h3m-3 2h3m-3 5h3m-2-72h3m-3 15h3m-3 13h3m-3 6h3m-3 1h3m-3 9h3m-3 1h3m-3 3h3m-3 1h3m-3 1h3m-3 11h3m-3 5h3m-3 2h3m-3 3h3m-2-77h3m-3 13h3m-3 12h3m-3 2h3m-3 10h3m-3 3h3m-3 4h3m-3 1h3m-3 7h3m-3 5h3m-3 2h3m-3 1h3m-3 2h3m-3 5h3m-3 3h3m-3 6h3m-3 3h3m-2-89h3m-3 16h3m-3 9h3m-3 5h3m-3 18h3m-3 2h3m-3 5h3m-3 1h3m-3 1h3m-3 1h3m-3 4h3m-3 1h3m-3 6h3m-3 2h3m-3 1h3m-3 2h3m-3 1h3m-3 3h3m-3 4h3m-3 4h3m-2-71h3m-3 22h3m-3 1h3m-3 1h3m-3 2h3m-3 3h3m-3 1h3m-3 3h3m-3 3h3m-3 1h3m-3 2h3m-3 2h3m-3 1h3m-3 10h3m-3 3h3m-3 1h3m-3 1h3m-3 5h3m-3 3h3m-3 6h3m-2-45h3m-3 1h3m-3 2h3m-3 2h3m-3 3h3m-3 3h3m-3 5h3m-3 5h3m-3 3h3m-3 1h3m-3 3h3m-3 1h3m-3 2h3m-3 4h3m-3 3h3m-3 2h3m-3 1h3m-3 4h3m-3 4h3m-2-65h3m-3 2h3m-3 1h3m-3 13h3m-3 1h3m-3 1h3m-3 4h3m-3 3h3m-3 4h3m-3 2h3m-3 5h3m-3 6h3m-3 5h3m-3 1h3m-3 10h3m-3 4h3m-2-95h3m-3 39h3m-3 5h3m-3 4h3m-3 1h3m-3 6h3m-3 1h3m-3 1h3m-3 3h3m-3 5h3m-3 2h3m-3 3h3m-3 3h3m-3 2h3m-3 1h3m-3 1h3m-3 4h3m-3 1h3m-3 3h3m-3 1h3m-3 6h3m-3 4h3m-3 1h3m-2-67h3m-3 1h3m-3 4h3m-3 3h3m-3 5h3m-3 8h3m-3 1h3m-3 1h3m-3 6h3m-3 2h3m-3 5h3m-3 4h3m-3 1h3m-3 2h3m-3 1h3m-3 2h3m-3 2h3m-3 1h3m-3 2h3m-3 2h3m-3 6h3m-3 5h3m-3 4h3m-2-84h3m-3 1h3m-3 1h3m-3 4h3m-3 4h3m-3 4h3m-3 3h3m-3 4h3m-3 10h3m-3 4h3m-3 2h3m-3 1h3m-3 2h3m-3 3h3m-3 3h3m-3 1h3m-3 1h3m-3 3h3m-3 1h3m-3 1h3m-3 2h3m-3 1h3m-3 2h3m-3 7h3m-3 1h3m-3 4h3m-3 3h3m-3 4h3m-3 3h3m-3 2h3m-3 1h3m-2-73h3m-3 5h3m-3 4h3m-3 6h3m-3 2h3m-3 3h3m-3 4h3m-3 1h3m-3 2h3m-3 6h3m-3 7h3m-3 1h3m-3 3h3m-3 4h3m-3 11h3m-3 2h3m-3 3h3m-3 2h3m-3 6h3m-3 1h3m-2-69h3m-3 9h3m-3 29h3m-3 3h3m-3 1h3m-3 1h3m-3 2h3m-3 3h3m-3 1h3m-3 3h3m-3 14h3m-2-46h3m-3 4h3m-3 2h3m-3 3h3m-3 3h3m-3 3h3m-3 1h3m-3 1h3m-3 1h3m-3 1h3m-3 2h3m-3 1h3m-3 2h3m-3 1h3m-3 6h3m-3 1h3m-3 1h3m-3 1h3m-3 1h3m-3 3h3m-3 1h3m-3 6h3m-3 2h3m-3 2h3m-2-93h3m-3 43h3m-3 2h3m-3 1h3m-3 4h3m-3 1h3m-3 2h3m-3 1h3m-3 3h3m-3 3h3m-3 2h3m-3 3h3m-3 4h3m-3 1h3m-3 1h3m-3 4h3m-3 3h3m-3 6h3m-3 3h3m-3 4h3m-3 1h3m-2-69h3m-3 11h3m-3 2h3m-3 5h3m-3 2h3m-3 7h3m-3 3h3m-3 5h3m-3 3h3m-3 2h3m-3 4h3m-3 2h3m-3 7h3m-3 3h3m-3 1h3m-3 1h3m-3 1h3m-3 2h3m-3 1h3m-3 4h3m-3 2h3m-3 2h3m-2-75h3m-3 23h3m-3 2h3m-3 1h3m-3 5h3m-3 4h3m-3 3h3m-3 1h3m-3 5h3m-3 3h3m-3 2h3m-3 5h3m-3 7h3m-3 5h3m-3 7h3m-3 3h3m-2-44h3m-3 4h3m-3 4h3m-3 1h3m-3 1h3m-3 3h3m-3 1h3m-3 3h3m-3 2h3m-3 1h3m-3 1h3m-3 1h3m-3 1h3m-3 2h3m-3 7h3m-3 7h3m-2-61h3m-3 18h3m-3 1h3m-3 1h3m-3 2h3m-3 2h3m-3 1h3m-3 1h3m-3 1h3m-3 2h3m-3 3h3m-3 1h3m-3 1h3m-3 1h3m-3 8h3m-3 2h3m-3 7h3m-3 12h3m-2-81h3m-3 28h3m-3 3h3m-3 1h3m-3 1h3m-3 3h3m-3 9h3m-3 7h3m-3 8h3m-3 1h3m-3 3h3m-3 1h3m-3 7h3m-3 6h3m-3 2h3m-2-59h3m-3 9h3m-3 8h3m-3 5h3m-3 13h3m-3 13h3m-3 3h3m-3 7h3m-3 1h3m-2-57h3m-3 4h3m-3 1h3m-3 4h3m-3 5h3m-3 10h3m-3 2h3m-3 2h3m-3 4h3m-3 2h3m-3 2h3m-3 4h3m-3 1h3m-3 4h3m-3 1h3m-3 5h3m-3 1h3m-2-69h3m-3 34h3m-3 2h3m-3 3h3m-3 4h3m-3 10h3m-3 1h3m-3 2h3m-3 2h3m-3 2h3m-3 1h3m-3 8h3m-3 5h3m-2-80h3m-3 12h3m-3 7h3m-3 10h3m-3 4h3m-3 1h3m-3 2h3m-3 5h3m-3 2h3m-3 3h3m-3 9h3m-3 4h3m-3 1h3m-3 4h3m-3 1h3m-3 3h3m-3 1h3m-3 3h3m-2-66h3m-3 25h3m-3 3h3m-3 2h3m-3 2h3m-3 6h3m-3 8h3m-3 1h3m-3 3h3m-3 1h3m-3 11h3m-3 1h3m-3 10h3m-3 3h3m-2-58h3m-3 2h3m-3 1h3m-3 2h3m-3 5h3m-3 8h3m-3 5h3m-3 2h3m-3 12h3m-2-23h3m-3 8h3m-3 8h3m-3 5h3m-3 12h3m-3 1h3m-3 2h3m-3 3h3m-3 1h3m-2-67h3m-3 18h3m-3 12h3m-3 6h3m-3 4h3m-3 2h3m-3 9h3m-3 8h3m-2-66h3m-3 16h3m-3 9h3m-3 25h3m-3 6h3m-3 2h3m-3 1h3m-3 2h3m-3 7h3m-3 2h3m-2-54h3m-3 22h3m-3 4h3m-3 9h3m-3 13h3m-3 4h3m-3 2h3m-3 5h3m-2-60h3m-3 28h3m-3 9h3m-3 6h3m-3 1h3m-3 6h3m-3 1h3m-3 7h3m-3 3h3m-2-51h3m-3 37h3m-3 16h3m-2-43h3m-3 1h3m-3 36h3m-2-49h3m-3 17h3m-3 2h3m-3 3h3m-3 14h3m-3 2h3m-3 3h3m-3 2h3m-3 7h3m-2-54h3m-3 14h3m-3 8h3m-3 7h3m-3 10h3m-3 1h3m-3 17h3m-2-49h3m-3 22h3m-3 2h3m-2-34h3m-3 19h3m-3 9h3m-3 11h3m-3 6h3m-3 10h3m-2-27h3m-3 18h3m-3 10h3m-2-31h3m-3 9h3m-3 5h3m-2-44h3m-3 22h3m-3 14h3m-3 12h3m-2-4h3m-2-30h3m-2 14h3m-3 7h3m-3 21h3m-2-31h3m-2-19h3m-2 41h3m-3 9h3m-2-7h3m-2 1h3m-3 14h3m-2-24h3m-1-34h3m-3 15h3m-2-13h3" stroke="#0a0a0a" stroke-width="3.0" fill="none"/>
<path transform="scale(.5)" d="M0 0m508 2549h2m4 18h2m0-6h2m-2 40h2m-1-45h2m2 1h2m-2 37h2m-1-48h2m-1 54h2m-1-52h2m-1 41h2m-1-68h2m-1 71h2m-1-52h2m-2 42h2m-2 4h2m-1-8h2m-1-28h2m-2 37h2m-2 16h2m2-55h2m-1 29h2m-1-37h2m-2 26h2m-2 14h2m-1-52h2m-2 22h2m-2 20h2m-1 18h2m-1-22h2m-2 17h2m-1-57h2m-2 4h2m-2 36h2m-2 20h2m-2 8h2m-1-18h2m-2 14h2m-2 3h2m-2 3h2m-1-65h2m-2 8h2m-2 10h2m-2 23h2m-2 9h2m-1-46h2m-2 2h2m-2 16h2m-2 5h2m-2 6h2m-2 33h2m-1-78h2m-2 3h2m-2 8h2m-2 3h2m-2 19h2m-2 12h2m-2 8h2m-2 2h2m-2 17h2m-2 6h2m-1-67h2m-2 50h2m-2 13h2m-2 3h2m-1-69h2m-2 42h2m-2 2h2m-2 12h2m-2 1h2m-1-77h2m-2 30h2m-2 15h2m-2 17h2m-1-30h2m-2 7h2m-2 12h2m-2 26h2m-2 3h2m-2 7h2m-1-64h2m-2 24h2m-2 4h2m-2 2h2m-2 5h2m-2 16h2m-2 14h2m-1-61h2m-2 4h2m-2 6h2m-2 13h2m-2 2h2m-2 8h2m-2 3h2m-2 3h2m-2 10h2m-2 6h2m-2 14h2m-1-69h2m-2 25h2m-2 1h2m-2 16h2m-2 9h2m-1-32h2m-2 1h2m-2 28h2m-2 15h2m-1-59h2m-2 6h2m-2 46h2m-1-43h2m-2 12h2m-2 40h2m-1-43h2m-2 4h2m-2 7h2m-2 3h2m-2 4h2m-2 1h2m-2 14h2m-1-31h2m-2 3h2m-2 3h2m-2 6h2m-2 2h2m-2 3h2m-2 3h2m-2 6h2m-2 7h2m-2 4h2m-2 6h2m-1-54h2m-2 1h2m-2 8h2m-2 18h2m-2 5h2m-2 9h2m-2 4h2m-2 4h2m-2 1h2m-1-51h2m-2 7h2m-2 15h2m-2 2h2m-2 5h2m-2 24h2m-2 4h2m-1-65h2m-2 5h2m-2 3h2m-2 13h2m-2 1h2m-2 2h2m-2 4h2m-2 6h2m-2 26h2m-2 3h2m-1-58h2m-2 19h2m-2 6h2m-2 5h2m-2 1h2m-2 1h2m-2 5h2m-2 6h2m-2 4h2m-2 1h2m-2 1h2m-2 9h2m-1-74h2m-2 15h2m-2 15h2m-2 2h2m-1-47h2m-2 13h2m-2 5h2m-2 24h2m-2 22h2m-2 6h2m-2 8h2m-1-62h2m-2 15h2m-2 5h2m-2 11h2m-2 5h2m-2 4h2m-2 2h2m-2 9h2m-2 8h2m-2 15h2m-2 1h2m-1-70h2m-2 4h2m-2 35h2m-2 2h2m-2 7h2m-2 1h2m-2 6h2m-2 8h2m-1-75h2m-2 8h2m-2 10h2m-2 5h2m-2 3h2m-2 3h2m-2 2h2m-2 9h2m-2 4h2m-2 12h2m-2 4h2m-2 1h2m-2 12h2m-2 1h2m-1-79h2m-2 26h2m-2 4h2m-2 8h2m-2 2h2m-2 5h2m-2 6h2m-2 12h2m-2 1h2m-2 3h2m-2 2h2m-2 2h2m-2 7h2m-2 3h2m-2 4h2m-1-75h2m-2 30h2m-2 13h2m-2 4h2m-2 9h2m-2 3h2m-2 10h2m-1-82h2m-2 5h2m-2 3h2m-2 16h2m-2 2h2m-2 22h2m-2 8h2m-2 2h2m-2 4h2m-2 3h2m-2 3h2m-2 4h2m-2 1h2m-2 1h2m-2 5h2m-2 1h2m-1-47h2m-2 5h2m-2 5h2m-2 3h2m-2 6h2m-2 4h2m-2 8h2m-2 7h2m-1-80h2m-2 20h2m-2 20h2m-2 2h2m-2 3h2m-2 6h2m-2 26h2m-2 6h2m-2 9h2m-2 3h2m-1-101h2m-2 13h2m-2 20h2m-2 1h2m-2 8h2m-2 28h2m-2 7h2m-2 1h2m-2 2h2m-2 2h2m-2 13h2m-2 8h2m-1-83h2m-2 3h2m-2 20h2m-2 6h2m-2 9h2m-2 1h2m-2 2h2m-2 12h2m-2 22h2m-1-85h2m-2 27h2m-2 1h2m-2 11h2m-2 10h2m-2 17h2m-2 1h2m-2 7h2m-2 1h2m-2 2h2m-2 1h2m-2 6h2m-2 3h2m-2 4h2m-1-71h2m-2 40h2m-2 1h2m-2 6h2m-2 5h2m-2 2h2m-2 8h2m-2 4h2m-2 3h2m-1-113h2m-2 59h2m-2 13h2m-2 6h2m-2 1h2m-2 2h2m-2 5h2m-2 13h2m-2 5h2m-2 1h2m-2 1h2m-2 6h2m-2 5h2m-2 1h2m-1-49h2m-2 3h2m-2 8h2m-2 1h2m-2 10h2m-2 23h2m-1-50h2m-2 4h2m-2 2h2m-2 13h2m-2 3h2m-2 5h2m-2 2h2m-2 1h2m-1-59h2m-2 28h2m-2 4h2m-2 13h2m-2 1h2m-2 9h2m-2 6h2m-2 1h2m-2 1h2m-2 5h2m-2 5h2m-2 3h2m-2 2h2m-1-66h2m-2 22h2m-2 11h2m-2 14h2m-2 12h2m-2 2h2m-1-93h2m-2 44h2m-2 10h2m-2 2h2m-2 1h2m-2 2h2m-2 1h2m-2 4h2m-2 8h2m-2 2h2m-2 25h2m-1-74h2m-2 13h2m-2 4h2m-2 19h2m-2 8h2m-2 10h2m-2 6h2m-2 14h2m-1-63h2m-2 3h2m-2 14h2m-2 4h2m-2 5h2m-2 9h2m-2 19h2m-2 9h2m-2 4h2m-1-30h2m-2 12h2m-2 13h2m-1-56h2m-2 4h2m-2 19h2m-2 5h2m-2 17h2m-2 16h2m-1-88h2m-2 30h2m-2 48h2m-1-55h2m-2 28h2m-2 1h2m-2 17h2m-2 1h2m-2 3h2m-2 5h2m-1-51h2m-2 14h2m-2 1h2m-2 2h2m-2 20h2m-2 5h2m-2 3h2m-2 4h2m-2 3h2m-1-17h2m-2 4h2m-2 5h2m-2 9h2m-2 4h2m-1-54h2m-2 21h2m-2 5h2m-2 26h2m-1-79h2m-2 13h2m-2 31h2m-2 14h2m-2 5h2m-2 1h2m-1-59h2m-2 41h2m-2 4h2m-2 5h2m-2 9h2m-2 2h2m-2 4h2m-2 14h2m-1-47h2m-2 9h2m-1-26h2m-2 26h2m-1-12h2m-2 14h2m-1-40h2m-2 40h2m-2 11h2m-2 21h2m-1-43h2m-2 14h2m-2 17h2m-1-66h2m-2 32h2m-2 21h2m-1-41h2m-2 19h2m-2 12h2m-2 7h2m-2 11h2m-2 6h2m-2 3h2m-1-53h2m-2 27h2m-2 6h2m-2 3h2m-2 1h2m-2 11h2m-1-52h2m-2 9h2m-2 6h2m-2 7h2m-2 12h2m-2 20h2m-2 3h2m-2 7h2m-1-41h2m-2 5h2m-2 21h2m-2 8h2m-1-42h2m-1-8h2m-2 21h2m-2 10h2m-2 9h2m-1-7h2m-1 1h2m-2 5h2m-1-19h2m-2 33h2m-1-44h2m-2 1h2m-1-23h2m-1-9h2m-2 86h2m-1-79h2m-2 56h2m-2 9h2m-1-34h2m-1-15h2m-1 23h2m-2 35h2m-1-32h2m-1-49h2m-2 79h2m-1-41h2m-2 17h2m-1-44h2m-2 41h2m-2 7h2m-2 14h2m5-40h2m0 41h2" stroke="#0a0a0a" stroke-width="2.0" fill="none"/>
<path transform="scale(.5)" d="M0 0m452 2511h2m-2 26h2m-2 10h2m1 4h2m0-98h2m4 44h2m10-8h2m-2 27h2m-1 60h2m4 17h2m6-143h2m0 46h2m-1 15h2m0 5h2m-1 12h2m1 70h2m-1-38h2m0-85h2m-2 74h2m-1-132h2m-1 166h2m-1-23h2m-1-63h2m8 3h2m3-101h2m-1 133h2m-2 13h2m-1-71h2m-2 63h2m-1-13h2m2 54h2m-1-32h2m0-4h2m0 50h2m0-57h2m3 28h2m0 15h2m-1 9h2m-1-68h2m-1 58h2m6-14h2m0-103h2m-2 20h2m-1 27h2m1 68h2m-1-34h2m-1 50h2m0-27h2m5-72h2m-2 47h2m-1-73h2m-2 109h2m1-94h2m-1 75h2m3-3h2m4-131h2m2 56h2m4 65h2m-1-17h2m1-39h2m0 87h2m3-94h2m-1 27h2m3-71h2m0 87h2m7-41h2m5 29h2m1-40h2m1 33h2m-2 58h2m18-86h2m0 80h2m-1 40h2" stroke="#0a0a0a" stroke-width="2.0" fill="none"/>
<path d="M261.7 1195V1303.2M225 1267.5H336.7" stroke="#444" stroke-width="1" fill="none"/>
<path d="M226.0 1303.2v3.5M225 1302.6h-3.5M234.3 1303.2v2M225 1294.5h-2M239.1 1303.2v2M225 1289.8h-2M242.5 1303.2v2M225 1286.5h-2M245.2 1303.2v2M225 1283.9h-2M247.4 1303.2v2M225 1281.8h-2M249.2 1303.2v2M225 1280.0h-2M250.8 1303.2v2M225 1278.4h-2M252.2 1303.2v2M225 1277.1h-2M253.5 1303.2v3.5M225 1275.9h-3.5M261.7 1303.2v2M225 1267.8h-2M266.6 1303.2v2M225 1263.1h-2M270.0 1303.2v2M225 1259.7h-2M272.7 1303.2v2M225 1257.2h-2M274.9 1303.2v2M225 1255.0h-2M276.7 1303.2v2M225 1253.2h-2M278.3 1303.2v2M225 1251.7h-2M279.7 1303.2v2M225 1250.3h-2M280.9 1303.2v3.5M225 1249.1h-3.5M289.2 1303.2v2M225 1241.0h-2M294.1 1303.2v2M225 1236.3h-2M297.5 1303.2v2M225 1233.0h-2M300.2 1303.2v2M225 1230.4h-2M302.3 1303.2v2M225 1228.3h-2M304.2 1303.2v2M225 1226.5h-2M305.8 1303.2v2M225 1224.9h-2M307.2 1303.2v2M225 1223.6h-2M308.4 1303.2v3.5M225 1222.3h-3.5M316.7 1303.2v2M225 1214.3h-2M321.5 1303.2v2M225 1209.6h-2M325.0 1303.2v2M225 1206.2h-2M327.6 1303.2v2M225 1203.7h-2M329.8 1303.2v2M225 1201.5h-2M331.6 1303.2v2M225 1199.7h-2M333.2 1303.2v2M225 1198.2h-2M334.6 1303.2v2M225 1196.8h-2M335.9 1303.2v3.5M225 1195.6h-3.5" stroke="#111" stroke-width="1" fill="none"/>
<path d="M225 1195H336.7V1303.2" fill="none" stroke="#444" stroke-width="0.9"/>
<path d="M225 1195V1303.2H336.7" fill="none" stroke="#222" stroke-width="1"/>
<text transform="translate(225.0 1317.5) scale(0.8 1)" x="-5.28" y="0" font-size="9.5" font-family='"Liberation Sans", sans-serif' fill="#222" stroke="#222" stroke-width="0.25">10<tspan dy="-4.0" font-size="7.6">0</tspan></text>
<text transform="translate(219 1303.6) rotate(-90) scale(0.9 1)" x="-5.28" y="0" font-size="9.5" font-family='"Liberation Sans", sans-serif' fill="#222" stroke="#222" stroke-width="0.25">10<tspan dy="-4.0" font-size="7.6">0</tspan></text>
<text transform="translate(252.5 1317.5) scale(0.8 1)" x="-5.28" y="0" font-size="9.5" font-family='"Liberation Sans", sans-serif' fill="#222" stroke="#222" stroke-width="0.25">10<tspan dy="-4.0" font-size="7.6">1</tspan></text>
<text transform="translate(219 1276.9) rotate(-90) scale(0.9 1)" x="-5.28" y="0" font-size="9.5" font-family='"Liberation Sans", sans-serif' fill="#222" stroke="#222" stroke-width="0.25">10<tspan dy="-4.0" font-size="7.6">1</tspan></text>
<text transform="translate(279.9 1317.5) scale(0.8 1)" x="-5.28" y="0" font-size="9.5" font-family='"Liberation Sans", sans-serif' fill="#222" stroke="#222" stroke-width="0.25">10<tspan dy="-4.0" font-size="7.6">2</tspan></text>
<text transform="translate(219 1250.1) rotate(-90) scale(0.9 1)" x="-5.28" y="0" font-size="9.5" font-family='"Liberation Sans", sans-serif' fill="#222" stroke="#222" stroke-width="0.25">10<tspan dy="-4.0" font-size="7.6">2</tspan></text>
<text transform="translate(307.4 1317.5) scale(0.8 1)" x="-5.28" y="0" font-size="9.5" font-family='"Liberation Sans", sans-serif' fill="#222" stroke="#222" stroke-width="0.25">10<tspan dy="-4.0" font-size="7.6">3</tspan></text>
<text transform="translate(219 1223.3) rotate(-90) scale(0.9 1)" x="-5.28" y="0" font-size="9.5" font-family='"Liberation Sans", sans-serif' fill="#222" stroke="#222" stroke-width="0.25">10<tspan dy="-4.0" font-size="7.6">3</tspan></text>
<text transform="translate(334.9 1317.5) scale(0.8 1)" x="-5.28" y="0" font-size="9.5" font-family='"Liberation Sans", sans-serif' fill="#222" stroke="#222" stroke-width="0.25">10<tspan dy="-4.0" font-size="7.6">4</tspan></text>
<text transform="translate(219 1196.6) rotate(-90) scale(0.9 1)" x="-5.28" y="0" font-size="9.5" font-family='"Liberation Sans", sans-serif' fill="#222" stroke="#222" stroke-width="0.25">10<tspan dy="-4.0" font-size="7.6">4</tspan></text>
<rect x="228.7" y="1226.5" width="28.8" height="36.7" fill="none" stroke="#111" stroke-width="1.6"/>
<rect x="266.2" y="1226.5" width="38.0" height="36.7" fill="none" stroke="#111" stroke-width="1.6"/>
<text x="227.5" y="1213" font-size="14" text-anchor="start" font-family='"Liberation Sans", sans-serif' fill="#111">7,5%</text>
<text x="300.5" y="1213" font-size="14" text-anchor="start" font-family='"Liberation Sans", sans-serif' fill="#111">22%</text>
<text x="202" y="1072" font-size="16.5" text-anchor="middle" font-weight="bold" font-family='"Liberation Sans", sans-serif' fill="#111" transform="rotate(-90 202 1072)">CD56</text>
<text x="202" y="1247.7" font-size="17" text-anchor="middle" font-weight="bold" font-family='"Liberation Sans", sans-serif' fill="#111" transform="rotate(-90 202 1247.7)">KIR2DL2/L3</text>
<text x="275" y="1158" font-size="17" text-anchor="middle" font-weight="bold" font-family='"Liberation Sans", sans-serif' fill="#111">KIR+CD94/NKG2A</text>
<text x="275.7" y="1332" font-size="17" text-anchor="middle" font-weight="bold" font-family='"Liberation Sans", sans-serif' fill="#111">KIR3DL1+CD94/NKG2A</text>
</svg>
</body></html>
